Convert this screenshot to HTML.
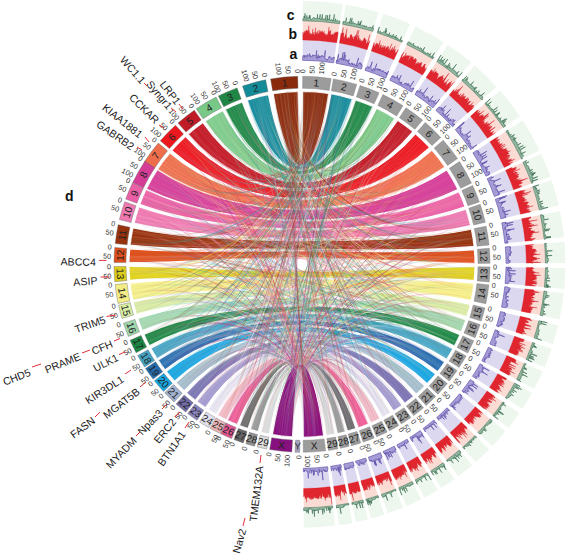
<!DOCTYPE html><html><head><meta charset="utf-8"><style>html,body{margin:0;padding:0;background:#fff;}svg{display:block;font-family:"Liberation Sans",sans-serif;}</style></head><body>
<svg width="567" height="558" viewBox="0 0 567 558">
<rect width="567" height="558" fill="#fff"/>
<path d="M302.7,60.3 A204,204 0 0 1 333.6,62.8 L336.7,42.7 A224.3,224.3 0 0 0 302.8,40 Z" fill="#dcd8f0"/>
<path d="M302.8,40 A224.3,224.3 0 0 1 336.7,42.7 L339.7,23.7 A243.5,243.5 0 0 0 302.8,20.8 Z" fill="#fbdcd5"/>
<path d="M302.8,20.8 A243.5,243.5 0 0 1 339.7,23.7 L342.8,4.1 A263.4,263.4 0 0 0 302.9,0.9 Z" fill="#edf7ed"/>
<path d="M336,63.2 A204,204 0 0 1 361.3,69.1 L367.2,49.7 A224.3,224.3 0 0 0 339.4,43.1 Z" fill="#dcd8f0"/>
<path d="M339.4,43.1 A224.3,224.3 0 0 1 367.2,49.7 L372.8,31.3 A243.5,243.5 0 0 0 342.6,24.2 Z" fill="#fbdcd5"/>
<path d="M342.6,24.2 A243.5,243.5 0 0 1 372.8,31.3 L378.6,12.3 A263.4,263.4 0 0 0 345.9,4.6 Z" fill="#edf7ed"/>
<path d="M365,70.3 A204,204 0 0 1 385.6,78.2 L393.9,59.7 A224.3,224.3 0 0 0 371.3,51 Z" fill="#dcd8f0"/>
<path d="M371.3,51 A224.3,224.3 0 0 1 393.9,59.7 L401.8,42.2 A243.5,243.5 0 0 0 377.2,32.7 Z" fill="#fbdcd5"/>
<path d="M377.2,32.7 A243.5,243.5 0 0 1 401.8,42.2 L410,24 A263.4,263.4 0 0 0 383.4,13.8 Z" fill="#edf7ed"/>
<path d="M389.8,80.2 A204,204 0 0 1 411.6,92.2 L422.5,75.1 A224.3,224.3 0 0 0 398.6,61.9 Z" fill="#dcd8f0"/>
<path d="M398.6,61.9 A224.3,224.3 0 0 1 422.5,75.1 L432.8,58.9 A243.5,243.5 0 0 0 406.8,44.5 Z" fill="#fbdcd5"/>
<path d="M406.8,44.5 A243.5,243.5 0 0 1 432.8,58.9 L443.5,42.2 A263.4,263.4 0 0 0 415.4,26.6 Z" fill="#edf7ed"/>
<path d="M414.9,94.4 A204,204 0 0 1 432.9,107.8 L445.9,92.2 A224.3,224.3 0 0 0 426.1,77.5 Z" fill="#dcd8f0"/>
<path d="M426.1,77.5 A224.3,224.3 0 0 1 445.9,92.2 L458.2,77.5 A243.5,243.5 0 0 0 436.8,61.5 Z" fill="#fbdcd5"/>
<path d="M436.8,61.5 A243.5,243.5 0 0 1 458.2,77.5 L471,62.2 A263.4,263.4 0 0 0 447.8,44.9 Z" fill="#edf7ed"/>
<path d="M435.8,110.3 A204,204 0 0 1 452.6,126.7 L467.6,113.1 A224.3,224.3 0 0 0 449.2,95 Z" fill="#dcd8f0"/>
<path d="M449.2,95 A224.3,224.3 0 0 1 467.6,113.1 L481.8,100.1 A243.5,243.5 0 0 0 461.8,80.5 Z" fill="#fbdcd5"/>
<path d="M461.8,80.5 A243.5,243.5 0 0 1 481.8,100.1 L496.5,86.7 A263.4,263.4 0 0 0 474.8,65.5 Z" fill="#edf7ed"/>
<path d="M455.3,129.7 A204,204 0 0 1 470.7,149.6 L487.5,138.2 A224.3,224.3 0 0 0 470.5,116.3 Z" fill="#dcd8f0"/>
<path d="M470.5,116.3 A224.3,224.3 0 0 1 487.5,138.2 L503.4,127.4 A243.5,243.5 0 0 0 484.9,103.6 Z" fill="#fbdcd5"/>
<path d="M484.9,103.6 A243.5,243.5 0 0 1 503.4,127.4 L519.9,116.2 A263.4,263.4 0 0 0 499.9,90.5 Z" fill="#edf7ed"/>
<path d="M472.9,152.9 A204,204 0 0 1 486,176.2 L504.3,167.4 A224.3,224.3 0 0 0 489.9,141.8 Z" fill="#dcd8f0"/>
<path d="M489.9,141.8 A224.3,224.3 0 0 1 504.3,167.4 L521.6,159.1 A243.5,243.5 0 0 0 506,131.3 Z" fill="#fbdcd5"/>
<path d="M506,131.3 A243.5,243.5 0 0 1 521.6,159.1 L539.5,150.5 A263.4,263.4 0 0 0 522.7,120.5 Z" fill="#edf7ed"/>
<path d="M487.2,178.7 A204,204 0 0 1 494.4,196.5 L513.6,189.8 A224.3,224.3 0 0 0 505.6,170.2 Z" fill="#dcd8f0"/>
<path d="M505.6,170.2 A224.3,224.3 0 0 1 513.6,189.8 L531.7,183.4 A243.5,243.5 0 0 0 523,162.2 Z" fill="#fbdcd5"/>
<path d="M523,162.2 A243.5,243.5 0 0 1 531.7,183.4 L550.4,176.8 A263.4,263.4 0 0 0 541.1,153.8 Z" fill="#edf7ed"/>
<path d="M495.3,199.2 A204,204 0 0 1 500.9,218.8 L520.6,214.2 A224.3,224.3 0 0 0 514.6,192.8 Z" fill="#dcd8f0"/>
<path d="M514.6,192.8 A224.3,224.3 0 0 1 520.6,214.2 L539.4,209.9 A243.5,243.5 0 0 0 532.8,186.6 Z" fill="#fbdcd5"/>
<path d="M532.8,186.6 A243.5,243.5 0 0 1 539.4,209.9 L558.8,205.5 A263.4,263.4 0 0 0 551.6,180.3 Z" fill="#edf7ed"/>
<path d="M501.8,222.9 A204,204 0 0 1 504.9,243.3 L525.1,241.2 A224.3,224.3 0 0 0 521.6,218.8 Z" fill="#dcd8f0"/>
<path d="M521.6,218.8 A224.3,224.3 0 0 1 525.1,241.2 L544.2,239.3 A243.5,243.5 0 0 0 540.4,214.9 Z" fill="#fbdcd5"/>
<path d="M540.4,214.9 A243.5,243.5 0 0 1 544.2,239.3 L564,237.2 A263.4,263.4 0 0 0 559.9,210.9 Z" fill="#edf7ed"/>
<path d="M505.3,246.9 A204,204 0 0 1 506,263.2 L526.3,263.1 A224.3,224.3 0 0 0 525.5,245.1 Z" fill="#dcd8f0"/>
<path d="M525.5,245.1 A224.3,224.3 0 0 1 526.3,263.1 L545.5,263 A243.5,243.5 0 0 0 544.6,243.5 Z" fill="#fbdcd5"/>
<path d="M544.6,243.5 A243.5,243.5 0 0 1 545.5,263 L565.4,262.9 A263.4,263.4 0 0 0 564.4,241.8 Z" fill="#edf7ed"/>
<path d="M506,267.1 A204,204 0 0 1 505.1,283.5 L525.3,285.4 A224.3,224.3 0 0 0 526.3,267.4 Z" fill="#dcd8f0"/>
<path d="M526.3,267.4 A224.3,224.3 0 0 1 525.3,285.4 L544.4,287.2 A243.5,243.5 0 0 0 545.5,267.7 Z" fill="#fbdcd5"/>
<path d="M545.5,267.7 A243.5,243.5 0 0 1 544.4,287.2 L564.2,289.1 A263.4,263.4 0 0 0 565.4,268 Z" fill="#edf7ed"/>
<path d="M504.8,286.7 A204,204 0 0 1 501.5,307.1 L521.3,311.3 A224.3,224.3 0 0 0 524.9,288.9 Z" fill="#dcd8f0"/>
<path d="M524.9,288.9 A224.3,224.3 0 0 1 521.3,311.3 L540.1,315.3 A243.5,243.5 0 0 0 544,291 Z" fill="#fbdcd5"/>
<path d="M544,291 A243.5,243.5 0 0 1 540.1,315.3 L559.5,319.5 A263.4,263.4 0 0 0 563.8,293.2 Z" fill="#edf7ed"/>
<path d="M500.4,311.6 A204,204 0 0 1 496.5,326 L515.8,332.1 A224.3,224.3 0 0 0 520.2,316.3 Z" fill="#dcd8f0"/>
<path d="M520.2,316.3 A224.3,224.3 0 0 1 515.8,332.1 L534.1,337.9 A243.5,243.5 0 0 0 538.9,320.7 Z" fill="#fbdcd5"/>
<path d="M538.9,320.7 A243.5,243.5 0 0 1 534.1,337.9 L553.1,343.9 A263.4,263.4 0 0 0 558.2,325.3 Z" fill="#edf7ed"/>
<path d="M495.2,329.7 A204,204 0 0 1 489.8,344 L508.5,351.9 A224.3,224.3 0 0 0 514.5,336.2 Z" fill="#dcd8f0"/>
<path d="M514.5,336.2 A224.3,224.3 0 0 1 508.5,351.9 L526.1,359.4 A243.5,243.5 0 0 0 532.6,342.4 Z" fill="#fbdcd5"/>
<path d="M532.6,342.4 A243.5,243.5 0 0 1 526.1,359.4 L544.5,367.2 A263.4,263.4 0 0 0 551.5,348.7 Z" fill="#edf7ed"/>
<path d="M488.4,347.3 A204,204 0 0 1 481.8,360.7 L499.7,370.3 A224.3,224.3 0 0 0 506.9,355.5 Z" fill="#dcd8f0"/>
<path d="M506.9,355.5 A224.3,224.3 0 0 1 499.7,370.3 L516.6,379.4 A243.5,243.5 0 0 0 524.4,363.3 Z" fill="#fbdcd5"/>
<path d="M524.4,363.3 A243.5,243.5 0 0 1 516.6,379.4 L534.1,388.8 A263.4,263.4 0 0 0 542.6,371.4 Z" fill="#edf7ed"/>
<path d="M480.1,363.8 A204,204 0 0 1 472.5,376.3 L489.5,387.4 A224.3,224.3 0 0 0 497.8,373.7 Z" fill="#dcd8f0"/>
<path d="M497.8,373.7 A224.3,224.3 0 0 1 489.5,387.4 L505.5,398 A243.5,243.5 0 0 0 514.6,383.1 Z" fill="#fbdcd5"/>
<path d="M514.6,383.1 A243.5,243.5 0 0 1 505.5,398 L522.2,408.9 A263.4,263.4 0 0 0 531.9,392.8 Z" fill="#edf7ed"/>
<path d="M470.3,379.6 A204,204 0 0 1 461.9,391 L477.8,403.6 A224.3,224.3 0 0 0 487.1,391 Z" fill="#dcd8f0"/>
<path d="M487.1,391 A224.3,224.3 0 0 1 477.8,403.6 L492.8,415.5 A243.5,243.5 0 0 0 502.9,401.9 Z" fill="#fbdcd5"/>
<path d="M502.9,401.9 A243.5,243.5 0 0 1 492.8,415.5 L508.4,427.9 A263.4,263.4 0 0 0 519.3,413.1 Z" fill="#edf7ed"/>
<path d="M459.6,393.8 A204,204 0 0 1 449.5,405.2 L464.2,419.3 A224.3,224.3 0 0 0 475.3,406.7 Z" fill="#dcd8f0"/>
<path d="M475.3,406.7 A224.3,224.3 0 0 1 464.2,419.3 L478,432.5 A243.5,243.5 0 0 0 490.2,418.9 Z" fill="#fbdcd5"/>
<path d="M490.2,418.9 A243.5,243.5 0 0 1 478,432.5 L492.4,446.3 A263.4,263.4 0 0 0 505.5,431.5 Z" fill="#edf7ed"/>
<path d="M447,407.8 A204,204 0 0 1 436.6,417.6 L450,432.8 A224.3,224.3 0 0 0 461.4,422.1 Z" fill="#dcd8f0"/>
<path d="M461.4,422.1 A224.3,224.3 0 0 1 450,432.8 L462.7,447.2 A243.5,243.5 0 0 0 475.1,435.6 Z" fill="#fbdcd5"/>
<path d="M475.1,435.6 A243.5,243.5 0 0 1 462.7,447.2 L475.8,462.2 A263.4,263.4 0 0 0 489.2,449.6 Z" fill="#edf7ed"/>
<path d="M433.8,420 A204,204 0 0 1 423.1,428.5 L435.1,444.8 A224.3,224.3 0 0 0 446.9,435.5 Z" fill="#dcd8f0"/>
<path d="M446.9,435.5 A224.3,224.3 0 0 1 435.1,444.8 L446.5,460.3 A243.5,243.5 0 0 0 459.3,450.1 Z" fill="#fbdcd5"/>
<path d="M459.3,450.1 A243.5,243.5 0 0 1 446.5,460.3 L458.3,476.3 A263.4,263.4 0 0 0 472.2,465.3 Z" fill="#edf7ed"/>
<path d="M420.2,430.6 A204,204 0 0 1 409.8,437.5 L420.5,454.7 A224.3,224.3 0 0 0 431.9,447.1 Z" fill="#dcd8f0"/>
<path d="M431.9,447.1 A224.3,224.3 0 0 1 420.5,454.7 L430.7,471 A243.5,243.5 0 0 0 443.1,462.8 Z" fill="#fbdcd5"/>
<path d="M443.1,462.8 A243.5,243.5 0 0 1 430.7,471 L441.2,487.9 A263.4,263.4 0 0 0 454.6,479 Z" fill="#edf7ed"/>
<path d="M407.1,439.2 A204,204 0 0 1 396.8,444.9 L406.3,462.9 A224.3,224.3 0 0 0 417.5,456.6 Z" fill="#dcd8f0"/>
<path d="M417.5,456.6 A224.3,224.3 0 0 1 406.3,462.9 L415.2,479.9 A243.5,243.5 0 0 0 427.4,473 Z" fill="#fbdcd5"/>
<path d="M427.4,473 A243.5,243.5 0 0 1 415.2,479.9 L424.4,497.5 A263.4,263.4 0 0 0 437.7,490.1 Z" fill="#edf7ed"/>
<path d="M394.3,446.2 A204,204 0 0 1 383,451.5 L391.1,470.2 A224.3,224.3 0 0 0 403.5,464.3 Z" fill="#dcd8f0"/>
<path d="M403.5,464.3 A224.3,224.3 0 0 1 391.1,470.2 L398.7,487.8 A243.5,243.5 0 0 0 412.2,481.5 Z" fill="#fbdcd5"/>
<path d="M412.2,481.5 A243.5,243.5 0 0 1 398.7,487.8 L406.6,506 A263.4,263.4 0 0 0 421.2,499.2 Z" fill="#edf7ed"/>
<path d="M380.4,452.6 A204,204 0 0 1 368.4,457.2 L375,476.4 A224.3,224.3 0 0 0 388.2,471.4 Z" fill="#dcd8f0"/>
<path d="M388.2,471.4 A224.3,224.3 0 0 1 375,476.4 L381.3,494.5 A243.5,243.5 0 0 0 395.6,489.1 Z" fill="#fbdcd5"/>
<path d="M395.6,489.1 A243.5,243.5 0 0 1 381.3,494.5 L387.8,513.3 A263.4,263.4 0 0 0 403.2,507.5 Z" fill="#edf7ed"/>
<path d="M365.7,458.1 A204,204 0 0 1 355.5,461.2 L360.8,480.8 A224.3,224.3 0 0 0 372.1,477.4 Z" fill="#dcd8f0"/>
<path d="M372.1,477.4 A224.3,224.3 0 0 1 360.8,480.8 L365.8,499.3 A243.5,243.5 0 0 0 378.1,495.6 Z" fill="#fbdcd5"/>
<path d="M378.1,495.6 A243.5,243.5 0 0 1 365.8,499.3 L371.1,518.5 A263.4,263.4 0 0 0 384.3,514.5 Z" fill="#edf7ed"/>
<path d="M353.1,461.8 A204,204 0 0 1 343.7,464 L347.9,483.9 A224.3,224.3 0 0 0 358.2,481.5 Z" fill="#dcd8f0"/>
<path d="M358.2,481.5 A224.3,224.3 0 0 1 347.9,483.9 L351.8,502.7 A243.5,243.5 0 0 0 363,500 Z" fill="#fbdcd5"/>
<path d="M363,500 A243.5,243.5 0 0 1 351.8,502.7 L355.9,522.1 A263.4,263.4 0 0 0 368,519.3 Z" fill="#edf7ed"/>
<path d="M340.9,464.6 A204,204 0 0 1 330.7,466.3 L333.6,486.4 A224.3,224.3 0 0 0 344.8,484.5 Z" fill="#dcd8f0"/>
<path d="M344.8,484.5 A224.3,224.3 0 0 1 333.6,486.4 L336.3,505.4 A243.5,243.5 0 0 0 348.5,503.3 Z" fill="#fbdcd5"/>
<path d="M348.5,503.3 A243.5,243.5 0 0 1 336.3,505.4 L339.1,525.1 A263.4,263.4 0 0 0 352.3,522.9 Z" fill="#edf7ed"/>
<path d="M327.6,466.7 A204,204 0 0 1 303.4,468.3 L303.6,488.6 A224.3,224.3 0 0 0 330.1,486.8 Z" fill="#dcd8f0"/>
<path d="M330.1,486.8 A224.3,224.3 0 0 1 303.6,488.6 L303.7,507.8 A243.5,243.5 0 0 0 332.5,505.9 Z" fill="#fbdcd5"/>
<path d="M332.5,505.9 A243.5,243.5 0 0 1 303.7,507.8 L303.8,527.7 A263.4,263.4 0 0 0 335,525.6 Z" fill="#edf7ed"/>
<path d="M302.7,60.3 L302.7,56.8 303,55.7 303.3,55.7 303.5,56.2 303.8,55.9 304,55.2 304.3,57.8 304.6,56.4 304.8,55.3 305.1,55.3 305.3,56.5 305.6,55.8 305.9,55.8 306.1,55.9 306.4,55.7 306.7,55.8 306.9,57.2 307.2,54.6 307.5,54.9 307.7,55 308,55.4 308.2,55 308.5,54.7 308.8,54.9 309,55.2 309.3,54.8 309.6,53.5 309.8,55.8 310,56.9 310.3,55.5 310.6,55.3 310.8,56.4 311.1,56.3 311.3,56.3 311.6,57.1 311.8,56.9 312.2,55.7 312.4,55.8 312.7,54.7 312.9,56 313.2,55.7 313.5,55.5 313.7,55.9 314,55.7 314.3,55.1 314.5,55.5 314.8,55 315.1,55.3 315.3,55.5 315.6,54.9 315.9,55.3 316.1,55.3 316.7,50.4 316.5,57.6 316.8,57 316.9,58.5 317.4,56.5 317.6,56.7 317.7,58.3 318.3,54.5 318.4,56.5 318.6,56.7 318.8,57.6 319.2,56.7 319.5,56.2 319.6,57.6 320,55.8 320.2,57.2 320.5,56.8 320.8,56.5 321,57 321.3,56.4 321.6,55.6 321.9,56 322.2,55.2 322.4,55.8 322.6,56.6 322.8,56.9 323.1,56.8 323.4,56.4 323.7,56.3 324,56.1 324.2,56.8 324.7,53.8 325.4,50.4 324.9,57.4 325,58.8 325.2,59 325.5,58.5 325.8,58.9 325.9,59.8 326.2,59.9 326.5,59.6 326.8,59.1 327,59.5 327.1,60.5 327.4,60.1 327.8,59 328.2,58.6 328.6,57.5 328.8,57.9 329.3,56 329.5,56.6 329.7,57.1 330,56.7 330.1,57.5 330.3,58 330.6,57.7 330.8,58.3 331.2,57.7 331.4,58.3 331.6,58.5 331.7,59.6 332,59.3 332.5,58 332.7,58.1 333.1,57.2 333.4,57.1 333.6,57.2 333.8,57.8 334.1,57.6 334.5,57 L333.6,62.8 A204,204 0 0 0 302.7,60.3Z M336,63.2 L336.5,60.1 336.8,60.2 336.9,61 337,61.7 338.6,54.2 337.7,60.9 337.9,61.5 338.2,61 338.4,61.6 338.9,60 339.4,59 339.6,59.4 340,58.2 340.3,58.4 340.6,58.1 340.7,59.1 340.9,59.4 341.3,58.7 341.6,58.4 341.7,59.4 343.3,52.4 342.2,59.3 342.5,59.2 342.7,59.4 343,59.4 343.1,60.2 345,52 343.6,60.4 344,59.7 344.4,59.3 345.6,54.8 345,58.7 345,59.9 345.2,60.2 345.4,60.7 345.9,59.5 346,60.5 346.4,59.9 346.7,59.7 346.9,60.1 347,60.8 347.4,60.1 347.5,60.6 347.6,61.4 348,61.1 347.9,62.5 348.4,61.8 349.2,59.3 348.7,62.7 348.8,63.3 349.1,63.1 349.1,64.1 349.6,63.1 349.7,64.1 349.9,64.1 350.1,64.5 350.5,63.8 350.8,63.8 351,64.2 351.4,63.5 351.9,62.6 351.9,63.7 352.2,63.4 352.3,64.2 352.4,64.9 353,63.4 353,64.8 353.2,64.6 353.4,65 353.8,64.7 354.1,64.5 354.5,63.8 354.6,64.5 354.7,65.1 355,65.1 355.2,65.2 355.4,65.6 355.9,64.8 355.9,65.7 356.3,65.1 358.6,57.9 356.5,66.3 356.9,65.9 357.3,65.5 357.3,66.4 357.8,65.4 358.4,64.2 359,63.1 359.3,63 359.6,63.1 360,62.4 360,63.4 360.1,63.9 360.7,62.9 360.5,64.5 360.9,64.2 361.3,63.7 361.3,64.7 361.7,64.1 361.7,65.3 361.7,66.2 362.1,65.7 362.3,65.8 L361.3,69.1 A204,204 0 0 0 336,63.2Z M365,70.3 L365.9,67.7 366.1,67.9 366.2,68.4 366.4,68.5 367.2,66.9 367.7,66.5 368,66.2 368,67.2 368.3,67.1 368.4,67.7 368.8,67.3 368.6,68.5 369.1,68.1 369.6,67.3 370.3,66 370.6,65.8 372.3,61.8 371,66.5 371.1,67.1 371.1,67.6 371.2,68.3 371.2,69 371.4,69.4 371.5,69.8 371.5,70.6 372,70 372,70.5 372.9,69.1 373.2,68.9 373.7,68.2 373,70.8 373.1,71.5 373.5,71.1 373.8,71.1 376.9,63.6 374.7,70.2 375,70 375.3,69.9 375.9,69.2 376.3,68.8 376.4,69.2 376.8,69.1 377.3,68.4 377.2,69.5 377.5,69.4 377.6,69.8 378.3,68.8 378.1,69.9 378.8,68.9 378.9,69.3 378.8,70.3 379.6,69.2 379.4,70.4 380.1,69.3 380,70.3 380.5,69.7 380.7,69.8 380.7,70.6 381,70.6 381.3,70.6 381.4,71.1 381.7,71 381.7,71.5 382.2,71 382.6,70.7 382.5,71.6 383.2,70.7 383.4,71 383.7,70.8 383.6,71.8 383.7,72.2 384.2,71.9 384.4,72.1 384.5,72.3 385,71.9 385.3,71.9 385.1,73 385.8,72.1 386,72.3 385.9,73.1 385.8,73.9 386.4,73.2 386.6,73.4 387.2,72.8 386.6,74.8 388.6,71 386.8,75.7 L385.6,78.2 A204,204 0 0 0 365,70.3Z M389.8,80.2 L391.6,76.4 392.3,75.6 392.2,76.5 392.6,76.2 392.9,76.2 392.7,77.2 393.6,75.9 394,75.7 394,76.3 394.1,76.7 394.3,76.8 394.2,77.7 394.4,77.7 395.1,77.1 394.8,78.1 395.1,78.2 395.6,77.7 396.3,77 396.2,77.8 396.9,76.9 398,75.3 396.9,78 397.6,77.2 397.8,77.5 397.6,78.4 398,78.2 397.8,79.1 398,79.4 398.3,79.2 398.6,79.3 398.5,80 401.3,75.2 399.6,79.1 399.7,79.4 399.9,79.7 399,81.9 398.8,82.8 399.5,82.1 399.8,81.9 399.8,82.5 399.9,83 400.7,82.1 400.9,82.2 401,82.5 400.5,83.9 402,81.7 401,84.1 401.5,83.7 401.6,84.1 401.9,84 401.9,84.7 402.1,84.7 402.5,84.6 402.6,84.9 403.4,84.1 403.6,84.2 403.9,84.2 404.9,83 404.9,83.5 405.3,83.3 405.2,83.9 406.1,82.9 405.9,83.8 406.4,83.5 406.1,84.5 406.3,84.6 406.1,85.5 406.3,85.7 408,83.3 407.2,85.1 407.4,85.4 408.7,83.6 408.3,84.9 408.4,85.2 408.4,85.7 409.3,84.8 409.3,85.3 409.5,85.4 409.9,85.2 409.5,86.5 409.7,86.6 410.3,86 413.8,80.9 410.1,87.5 409.9,88.1 410.4,87.9 410.6,88.1 410.9,88.1 410.8,88.7 411.2,88.5 411.4,88.7 411.7,88.8 412.2,88.5 413,87.7 412.9,88.4 412.7,89.1 413.1,88.9 414,88.1 413.3,89.7 L411.6,92.2 A204,204 0 0 0 389.8,80.2Z M414.9,94.4 L417.6,90.2 416.6,92.2 417.3,91.8 417.2,92.4 418.1,91.4 418.8,90.9 419,91.1 418.8,91.8 419.2,91.7 421.1,89.4 419.5,92.2 419.7,92.3 420.2,92 420.3,92.4 421,91.8 421.2,92 421.5,92 421.3,92.8 421.7,92.6 422.1,92.6 421.9,93.3 422.1,93.4 422.8,93 422.3,94 422.9,93.7 424.8,91.4 427.8,87.7 423.4,94.3 422.6,95.9 423.3,95.3 424,94.7 424.2,95 424.4,95.2 424.7,95.2 424.9,95.4 424.7,96.1 424,97.5 424,97.9 424.6,97.5 425.1,97.3 425,97.9 426.2,96.6 426.6,96.6 426.8,96.7 426.6,97.5 427.6,96.5 427.4,97.3 428,96.8 428.1,97.1 428.3,97.4 428,98.2 427.9,98.7 428.3,98.7 428.7,98.5 428.6,99.2 428.4,99.9 429,99.4 428.9,99.9 428.6,100.8 428.3,101.7 433.2,95.8 428.9,101.6 429.8,101 430.2,100.9 430.9,100.4 431.4,100.1 431.6,100.3 431.2,101.3 431.4,101.4 431.3,101.9 432.9,100.4 433.1,100.6 433.3,100.7 432.9,101.6 433.3,101.6 433.8,101.4 433.9,101.7 433.6,102.4 436,99.9 433.6,103.3 433.9,103.3 434.1,103.5 434.5,103.4 435.2,102.9 435.2,103.4 436,102.8 435.8,103.5 439.7,99.1 436.5,103.5 L432.9,107.8 A204,204 0 0 0 414.9,94.4Z M435.8,110.3 L438.2,107.7 438.1,108.1 438.9,107.6 439.6,107.2 439.5,107.7 439.9,107.7 440.3,107.6 440,108.4 440.5,108.1 441.5,107.4 441,108.4 441.8,107.9 442.2,107.9 441.5,109 442.3,108.6 441.7,109.5 441.3,110.4 445.9,105.7 442,110.4 442.6,110.1 443.1,110 443.7,109.7 444,109.8 444.3,109.8 444.4,110.1 444,110.9 443.4,112 442.3,113.5 443,113.1 443.2,113.3 443.8,113 444,113.2 443.4,114.3 444,114 443.7,114.7 444.2,114.5 443.9,115.2 444.5,114.9 445.1,114.7 450.8,109.1 445.4,115.1 444.7,116.2 445.5,115.8 445.1,116.5 445.7,116.3 446,116.4 445.4,117.3 446.4,116.7 449.1,114.3 446.7,117.2 447.6,116.6 447.4,117.2 447.6,117.3 447.5,117.8 447.3,118.4 447.2,118.8 447.6,118.8 447.9,118.9 448.9,118.2 449.4,118.1 448,119.9 448.5,119.7 448.6,120 449.2,119.7 448.6,120.6 448.9,120.8 451.2,118.8 449.7,120.7 450.7,120.1 450.2,120.9 451.1,120.4 451.8,120.1 452.7,119.6 453.1,119.6 453.7,119.4 453.6,119.8 453.4,120.4 453.7,120.4 453,121.5 453.6,121.3 455.4,120 453.2,122.4 452.7,123.2 453,123.2 452.5,124.1 453.2,123.8 453.7,123.7 453,124.7 453,125 454.2,124.3 454.9,124 454.3,124.9 454.1,125.4 L452.6,126.7 A204,204 0 0 0 435.8,110.3Z M455.3,129.7 L464.1,121.9 457.5,128.1 458.9,127.2 464.5,122.6 459.7,127.2 459.4,127.8 459.3,128.2 459.4,128.5 459.5,128.7 461.2,127.6 460.6,128.4 461.5,128 460.6,129.1 460.9,129.2 460.7,129.7 460.5,130.3 460.2,130.8 461,130.5 460.3,131.4 461.2,131 460.8,131.7 461.2,131.6 460.4,132.7 460.5,132.9 461.1,132.8 460.5,133.6 460.9,133.6 461.6,133.3 461.8,133.6 461.7,134 462.6,133.5 462.5,134 462.6,134.2 463.2,134 462.5,135 462.6,135.2 463.1,135.1 463.3,135.3 464.3,134.9 465,134.6 465.7,134.4 465.9,134.6 471,130.9 466.4,134.9 466.5,135.1 466.6,135.4 466.5,135.8 467.1,135.6 467.7,135.5 467.1,136.3 467.3,136.5 467.8,136.4 468.3,136.4 467.7,137.2 467.9,137.3 468.2,137.4 470.8,135.7 466.3,139.5 467.2,139.2 466.9,139.7 466.7,140.2 467.8,139.7 467.4,140.3 468,140.2 468.3,140.3 468.8,140.2 469.2,140.3 469.5,140.4 469.4,140.7 469,141.4 468.8,141.9 469.2,141.9 469.7,141.8 468.2,143.2 468.1,143.6 469.4,143 469.7,143.1 469.8,143.4 470.5,143.2 470.4,143.6 470.3,144 469.4,144.9 469.8,144.9 470.7,144.7 470.4,145.2 470.7,145.3 470.1,146 470.5,146.1 470.5,146.3 471.3,146.1 470.8,146.8 471.2,146.8 471.3,147 471.6,147.2 472.4,146.9 472.5,147.2 472.8,147.3 476.8,144.9 472.8,147.9 473.5,147.8 L470.7,149.6 A204,204 0 0 0 455.3,129.7Z M472.9,152.9 L476.5,150.5 476.8,150.6 477.4,150.6 477.5,150.8 478.1,150.8 478.3,150.9 477.7,151.6 478.8,151.3 477.7,152.2 477.6,152.6 478.5,152.3 479.3,152.1 479.3,152.5 479.6,152.6 479.2,153.2 478.2,154.1 479.2,153.7 478.3,154.6 478.3,154.9 480.1,154.1 480.8,154 480.6,154.4 480.6,154.7 486.7,151.3 480,155.7 480.2,155.9 481.2,155.6 481.4,155.8 480.9,156.4 481.4,156.4 482.2,156.2 482,156.6 486.1,154.5 482.4,157 482.6,157.2 482.2,157.7 482.5,157.9 482.4,158.2 481.4,159.1 481.9,159.1 487.2,156.3 482.5,159.4 481.7,160.1 481.2,160.7 480.6,161.4 481,161.4 480.2,162.2 481.1,162 481,162.3 481.1,162.5 481.4,162.7 481.6,162.9 482.3,162.8 481.8,163.4 481.9,163.6 487.3,160.9 481.7,164.3 487.1,161.6 481.7,164.9 482.3,164.8 482.7,164.9 482.9,165.1 483.3,165.1 483,165.6 482.5,166.2 483.4,166 483.1,166.4 483.5,166.5 483.7,166.7 484.3,166.7 484.3,167 484.6,167.1 485.2,167.1 486.2,166.8 485.6,167.4 485.4,167.8 489.5,166 485.4,168.4 485.6,168.6 485.4,169 486.8,168.5 486.8,168.9 487.5,168.8 487.8,168.9 487.7,169.3 486,170.4 487,170.2 486.4,170.8 487.1,170.8 486.3,171.4 486.8,171.5 487.3,171.5 486.6,172.1 487.6,172 488.4,171.8 489,171.8 489.6,171.8 488.7,172.5 488.9,172.8 489.5,172.7 489.6,173 489.6,173.3 489.7,173.5 489.6,173.9 488.3,174.8 489.6,174.4 L486,176.2 A204,204 0 0 0 472.9,152.9Z M487.2,178.7 L490.4,177.2 492,176.8 491.4,177.3 492,177.4 493.7,176.9 491.3,178.3 491.3,178.6 491.2,178.9 489.7,179.8 489.3,180.3 489.8,180.4 489.9,180.6 491.9,180 492.1,180.2 491.9,180.6 493.3,180.3 493.7,180.4 494.2,180.4 494.1,180.8 493.7,181.2 500.5,178.6 494.4,181.5 493.8,182 494.6,182 494.7,182.2 494.6,182.5 493.9,183.1 493.5,183.6 493.1,184 493.5,184.1 493.6,184.4 493.7,184.6 494.4,184.6 495.2,184.6 495.3,184.8 495.1,185.2 494.7,185.6 495.5,185.6 496,185.7 495.9,186 498.1,185.4 496.7,186.2 501.4,184.7 495.7,187.2 495.9,187.4 495.7,187.8 496.8,187.6 496.8,187.9 496.3,188.4 495.9,188.8 496.2,189 495.7,189.5 496,189.6 496.9,189.5 496.5,190 497.5,189.9 497.5,190.2 497.2,190.5 497.7,190.6 498.1,190.8 497.2,191.4 497.9,191.4 498.2,191.6 497.8,192 498.8,191.9 504.9,190 498.4,192.6 498.3,192.9 499.3,192.9 499.2,193.2 499.7,193.3 498.6,193.9 499.5,193.9 498.1,194.7 499.3,194.5 498.4,195.1 L494.4,196.5 A204,204 0 0 0 487.2,178.7Z M495.3,199.2 L498.8,198.1 506.9,195.6 498.8,198.6 500.1,198.5 505.5,197 500.4,198.9 501.1,199 499.7,199.7 499.9,199.9 499.4,200.4 498,201.1 498.5,201.2 498.4,201.5 498.5,201.7 498.4,202 498.5,202.3 499,202.4 499.1,202.6 500.2,202.5 506,201.1 500.4,203 504.8,202 501.4,203.3 501.9,203.4 502.7,203.5 501.6,204 501.5,204.4 501.6,204.6 502,204.8 501.4,205.2 501.6,205.4 501.3,205.8 500.8,206.2 500.3,206.6 500.3,206.9 500.8,207 501.2,207.2 501.5,207.4 503.4,207.1 503.6,207.3 502.6,207.9 502,208.3 502.5,208.4 502.7,208.6 502.3,209 502.7,209.2 503.8,209.2 504.7,209.2 503.6,209.8 503.3,210.1 502.5,210.6 503.8,210.5 502.6,211.1 502.6,211.4 502.3,211.7 503.5,211.7 510.5,210.2 503.3,212.3 505.4,212 504.2,212.6 504.1,212.9 504.9,213 505.4,213.1 505.4,213.4 505.1,213.7 504.6,214.1 505.3,214.2 504.7,214.6 508.2,214.1 505.9,214.9 505.7,215.2 505.8,215.5 505.4,215.8 504.6,216.3 505,216.5 505.8,216.5 505.3,216.9 506.3,217 505,217.5 504.5,217.9 L500.9,218.8 A204,204 0 0 0 495.3,199.2Z M501.8,222.9 L505,222.3 505.9,222.3 506.3,222.5 505.3,223 506.1,223.1 505.1,223.6 513.4,222.2 507.2,223.7 507.9,223.8 507.3,224.2 507.3,224.5 507.4,224.7 507.8,224.9 507.2,225.3 512.8,224.5 507,225.8 508.1,225.9 507.3,226.3 506.8,226.7 505.6,227.1 504.6,227.6 505.7,227.7 504.7,228.1 505.6,228.2 505.6,228.5 506,228.7 505,229.1 504.6,229.4 504.9,229.6 506.1,229.7 507.5,229.7 514.4,228.8 507.6,230.2 510.9,229.9 508,230.7 508.4,230.9 506.8,231.4 506.9,231.7 506.9,231.9 506.9,232.2 506.4,232.5 506.4,232.8 506,233.1 506.8,233.2 506.7,233.5 506.9,233.8 507.2,234 506.2,234.4 509.1,234.2 506.1,234.9 506.7,235.1 506,235.4 506.4,235.7 506.9,235.9 507.3,236.1 509.3,236 508.5,236.4 509.4,236.6 510,236.7 510,237 509.6,237.3 509.4,237.6 507.6,238.1 508.6,238.2 507.1,238.7 507.3,238.9 511.5,238.7 510.5,239.1 508.2,239.6 507,240 507.2,240.2 506.5,240.6 506.5,240.8 506.9,241 506.8,241.3 508.2,241.4 506.8,241.8 506.9,242.1 506.2,242.4 507,242.6 507.1,242.8 508.2,243 L504.9,243.3 A204,204 0 0 0 501.8,222.9Z M505.3,246.9 L508.7,246.6 510,246.7 510.5,247 509.7,247.3 510.9,247.4 510.4,247.7 510.7,248 511,248.2 510.2,248.6 510.6,248.8 510.1,249.1 510.1,249.4 510.6,249.6 510.3,249.9 510.1,250.1 509.5,250.4 509.1,250.7 510.5,250.9 511,251.1 510.4,251.4 511.2,251.6 510.9,251.9 511.5,252.2 511,252.4 511.5,252.7 511,253 509.9,253.3 510.7,253.5 508.6,253.9 509.2,254.1 509.6,254.4 510.7,254.6 509.6,254.9 510.2,255.1 510.7,255.3 509.6,255.7 509.2,255.9 508.5,256.2 507.8,256.5 508.2,256.8 508.3,257 508.3,257.3 508.6,257.5 507.7,257.8 507.8,258.1 508,258.3 507.3,258.6 508.2,258.8 507.9,259.1 508.1,259.3 508.8,259.6 508,259.9 508.8,260.1 508.8,260.4 510.5,260.6 509.3,260.9 508.6,261.1 509.5,261.4 510,261.6 510.4,261.9 509.9,262.2 510,262.4 509,262.7 509.1,263 508.7,263.2 L506,263.2 A204,204 0 0 0 505.3,246.9Z M506,267.1 L510.1,267.2 510.8,267.5 509.2,267.7 508.8,268 508.7,268.2 507.7,268.5 512.1,268.8 507.6,269 508.4,269.3 507.6,269.5 507.6,269.8 507.9,270 507.1,270.3 515.5,270.8 508.3,270.8 509.2,271.1 508.9,271.3 508.9,271.6 508.3,271.8 509.4,272.1 509.5,272.4 510.3,272.7 509.1,272.9 509.2,273.2 509.5,273.5 515.6,274 510,274 509.2,274.2 509.5,274.5 508.4,274.7 508.9,275 510.4,275.3 510.1,275.6 512.2,276 509,276 509.4,276.3 510.2,276.6 509.5,276.8 509.8,277.1 510.9,277.5 511.3,277.7 510.9,278 511.1,278.3 511.1,278.5 510.3,278.7 511,279 510.3,279.3 510.1,279.5 509.7,279.7 511,280.1 509.8,280.3 509.5,280.5 508.9,280.7 509.3,281 514.9,281.7 509.4,281.5 509,281.8 508.2,282 507.6,282.2 508,282.5 508.5,282.8 508.8,283.1 508.5,283.3 508.3,283.5 507.4,283.7 L505.1,283.5 A204,204 0 0 0 506,267.1Z M504.8,286.7 L507.6,287 507.8,287.3 508.6,287.6 508.9,287.9 510.2,288.3 510.1,288.6 509.6,288.8 510.3,289.1 510,289.4 509.5,289.6 508.3,289.7 509,290 508.4,290.2 509.3,290.6 509.9,290.9 509,291.1 508.8,291.3 507.3,291.4 507.8,291.7 508.8,292.1 508.8,292.4 506.8,292.4 506.4,292.6 505.6,292.7 507.3,293.2 506.5,293.4 506.7,293.7 507,294 505.6,294 506.9,294.5 506.6,294.7 505.8,294.8 505.9,295.1 505.4,295.3 506,295.6 506.3,295.9 507.2,296.3 508.7,296.9 506.6,296.8 505.5,296.9 506.8,297.3 507.1,297.6 506.5,297.8 505.4,297.9 505.4,298.2 506.2,298.5 506.6,298.9 506.8,299.2 506.6,299.4 507.4,299.8 507.4,300.1 508.7,300.6 506.7,300.5 506.9,300.8 506.6,301 507.3,301.4 506.2,301.4 506,301.7 505.7,301.9 506.9,302.4 506.3,302.5 506.4,302.8 506.7,303.1 507.3,303.5 508.1,303.9 507.5,304.1 506.3,304.1 506.8,304.5 507.7,304.9 507.3,305.1 507.5,305.4 507.9,305.8 506.7,305.8 506.9,306.1 507.4,306.5 506.9,306.6 507,306.9 506.4,307 506.1,307.3 506.4,307.6 505.4,307.6 504.1,307.6 L501.5,307.1 A204,204 0 0 0 504.8,286.7Z M500.4,311.6 L504.1,312.4 505,312.9 503.9,312.9 505.4,313.6 505.9,314 505.1,314 505.6,314.4 505.3,314.6 505,314.8 505.3,315.2 504.3,315.2 505.4,315.8 503.7,315.6 503.7,315.9 503.7,316.1 503.1,316.2 503.8,316.7 504.3,317.1 504.2,317.4 504.4,317.7 504.5,318 504.7,318.3 503.9,318.4 504.1,318.7 504.7,319.1 503.7,319.1 504.1,319.5 504.5,319.9 504,320.1 502.9,320 504.3,320.7 504.1,320.9 503.5,321 503.5,321.3 502.7,321.3 502.4,321.5 501.3,321.5 500.5,321.5 501.6,322.1 502.1,322.5 502.3,322.9 501.4,322.9 501.5,323.2 502.5,323.8 501.3,323.7 502.6,324.3 502.7,324.6 500.6,324.3 501,324.7 501.8,325.2 500.4,325 500.8,325.4 499.8,325.4 500,325.7 499.2,325.7 497.9,325.6 497.9,325.9 499.2,326.6 499.2,326.9 L496.5,326 A204,204 0 0 0 500.4,311.6Z M495.2,329.7 L497.5,330.5 497.8,330.8 496.7,330.7 499.4,331.9 498.3,331.8 498.3,332.1 498.6,332.5 497.4,332.3 497.9,332.8 498.6,333.3 497.6,333.2 498.5,333.8 498.5,334.1 502.8,335.9 504.6,336.9 497.5,334.6 497.4,334.8 497.5,335.1 498.4,335.7 498.6,336.1 498.7,336.4 498,336.4 497.7,336.6 498,337 497.2,337 497.7,337.4 496.5,337.3 496,337.3 494.9,337.2 494.9,337.5 495.8,338.1 495.5,338.3 495.5,338.6 495.1,338.7 495.2,339 494.8,339.1 494.4,339.2 494.1,339.4 495.1,340.1 495.6,340.5 496,341 496.4,341.4 496.3,341.7 496.2,341.9 496.1,342.2 496.4,342.5 495.7,342.5 495.9,342.9 496,343.2 496.1,343.6 496.3,343.9 494.8,343.6 495.1,344 495.4,344.4 494.9,344.5 494.9,344.7 495.8,345.4 495.4,345.5 494.8,345.6 495.3,346 493.5,345.6 L489.8,344 A204,204 0 0 0 495.2,329.7Z M488.4,347.3 L491.2,348.5 491.7,349 490.7,348.9 491.9,349.7 492.9,350.4 492,350.3 491.1,350.2 491.1,350.5 490.7,350.6 490.5,350.8 491.2,351.4 490.3,351.3 490.3,351.6 491.2,352.3 490.4,352.2 490.3,352.5 491.2,353.2 490.4,353.1 490.7,353.5 489.8,353.4 489.1,353.4 488.7,353.5 490.3,354.5 489.1,354.2 488.8,354.3 489.8,355.1 490.3,355.6 489.1,355.4 489.3,355.8 488.2,355.5 489,356.2 488.8,356.4 490.1,357.3 487.9,356.5 487.8,356.8 488.6,357.5 487.8,357.4 486.7,357.1 486,357.1 486.4,357.6 486.8,358 486.6,358.2 486.4,358.4 486.5,358.8 484.8,358.2 485.1,358.7 484.6,358.7 485.6,359.5 484.4,359.1 484.4,359.4 484.8,359.9 484.2,360 485.3,360.8 484.3,360.6 484.4,360.9 484.3,361.1 485.3,362 484.7,362 484.6,362.2 L481.8,360.7 A204,204 0 0 0 488.4,347.3Z M480.1,363.8 L482.9,365.4 482.4,365.4 481.9,365.4 482.3,366 482.4,366.3 483.2,367.1 489.2,370.8 482.8,367.5 482.8,367.8 483.7,368.6 482.2,368 482.9,368.7 483.4,369.3 482.6,369.2 482.5,369.4 482.2,369.5 483,370.3 482.2,370.1 482.4,370.5 482.3,370.8 483.4,371.8 481.8,371.1 481.8,371.4 487.5,375.1 481.9,372.1 481.4,372.1 481.4,372.4 480.9,372.4 479.6,371.9 478.6,371.6 479.3,372.3 478.8,372.3 478.8,372.6 479.9,373.6 480,374 479.6,374.1 478.6,373.8 478.6,374.1 478,374 479.5,375.3 477.9,374.6 479.1,375.6 478.1,375.3 478.5,375.9 479.2,376.6 478.8,376.7 478.3,376.7 478.5,377.1 477.6,376.8 477.1,376.8 476.8,376.9 475.4,376.4 476.1,377.1 476.4,377.6 477,378.3 476.2,378.1 476.2,378.4 476,378.6 L472.5,376.3 A204,204 0 0 0 480.1,363.8Z M470.3,379.6 L474.2,382.2 473,381.7 473.7,382.5 473.5,382.7 473.8,383.2 473.9,383.6 473.4,383.6 477.7,386.9 473.2,384 473.4,384.5 472.8,384.4 472.4,384.4 472.8,385 472.8,385.4 471.6,384.8 477,389 471.5,385.4 471.9,386 470.5,385.3 471.1,386 470.3,385.8 470.1,386 468.9,385.4 469.5,386.2 468.5,385.8 468.9,386.4 468.1,386.1 473.4,390.3 468,386.7 468.6,387.4 468.6,387.8 473.6,391.8 468.8,388.6 468.6,388.8 468.3,388.9 467.3,388.4 466.7,388.3 466.8,388.7 468.2,390.1 467.7,390 468.9,391.3 468.5,391.3 467.9,391.2 468.2,391.7 467.1,391.2 467,391.4 465.4,390.5 465.6,391 465.2,391 464.9,391.1 464.9,391.4 467.7,393.9 464.2,391.5 464.4,392.1 463.6,391.7 464,392.4 464.2,392.9 L461.9,391 A204,204 0 0 0 470.3,379.6Z M459.6,393.8 L462.1,395.8 460.5,394.8 461.1,395.7 460.6,395.6 461.7,396.8 461,396.6 462.6,398.2 460.8,397 461.4,397.9 461.3,398.2 461.3,398.6 461,398.6 460.6,398.6 461.5,399.7 460.2,399 459.8,398.9 460.3,399.8 460.4,400.2 460.5,400.5 459.9,400.4 459.4,400.4 458.9,400.3 459.4,401 459.4,401.3 460,402.2 458.7,401.4 458.4,401.5 458.1,401.6 458.1,402 457.6,401.9 459.2,403.6 457.4,402.4 457.5,402.8 457.2,402.9 456.1,402.2 455.4,401.9 455.7,402.6 456.4,403.6 456.5,404 455.6,403.5 454.7,403.1 454.5,403.2 455.3,404.3 454.7,404.1 455.3,405 453.8,404 453.9,404.4 453.7,404.6 453.6,404.8 454.3,405.8 454.1,406 453.7,406.1 455.5,408 451.8,405 453.8,407.2 452.4,406.2 452.6,406.8 455.6,410 451.3,406.2 451,406.3 451.1,406.8 L449.5,405.2 A204,204 0 0 0 459.6,393.8Z M447,407.8 L449.9,410.6 449.3,410.4 449,410.5 448,409.9 448.3,410.5 447.3,409.9 447.1,410.1 447,410.3 447.3,411 447.6,411.6 447.6,412.1 447.2,412 446.9,412 446.1,411.6 445.8,411.6 448,414.3 446.3,412.9 445.7,412.7 445,412.3 445.7,413.4 445.5,413.5 444.8,413.2 445.7,414.6 444.3,413.4 444.6,414.1 444.8,414.7 445,415.3 446.3,417 444.2,415.2 443.2,414.6 443.3,415 446.4,418.7 442.6,415 442.6,415.4 442.1,415.2 441.5,415 442.3,416.2 441.2,415.4 444.5,419.4 441.2,416.2 440.7,416 441,416.7 441.5,417.6 441.1,417.6 440.6,417.4 441.2,418.4 440.9,418.5 440.2,418.1 440.3,418.6 439.7,418.3 439.3,418.2 438.9,418.1 439.1,418.8 438.6,418.6 438.6,419.1 439,419.9 439,420.3 L436.6,417.6 A204,204 0 0 0 447,407.8Z M433.8,420 L436.2,422.9 436.9,424.1 435.5,422.8 435.4,423.1 434.2,422.1 434.3,422.6 433.8,422.4 433.5,422.4 433.3,422.7 433.5,423.3 436.9,427.8 433.2,423.7 433,423.9 433.1,424.4 433.1,424.9 432.3,424.3 432.4,424.8 431.5,424.1 431.8,424.9 431.3,424.8 431.5,425.4 431.3,425.6 430.7,425.2 434.1,429.9 430.6,425.9 429.9,425.5 430.4,426.5 429.4,425.7 429.6,426.3 429.2,426.2 429.5,427.1 429.1,427 428.8,427 428.7,427.3 428.3,427.2 428.4,427.8 428.1,427.8 427.7,427.7 428,428.5 427.5,428.3 427,428.2 426.5,427.9 426.3,428.1 426.8,429.1 425.7,428.1 425.8,428.6 425.6,428.9 425.3,428.9 425.5,429.6 425.2,429.6 424.5,429.2 424.3,429.4 425.1,430.9 425.6,432 L423.1,428.5 A204,204 0 0 0 433.8,420Z M420.2,430.6 L422.6,434 422.3,434 422,434 424.1,437.5 421.5,434.3 422.5,436.1 421.6,435.3 421.5,435.6 421.2,435.6 421,435.9 421.3,436.7 421,436.7 420.5,436.4 419.7,435.7 419.8,436.3 419.8,436.9 420,437.5 419.9,437.8 418.5,436.3 419.4,438 419.1,438.1 418.3,437.4 421.9,443.3 416.7,435.8 416.9,436.7 419.6,441.2 416.4,436.8 415.3,435.7 415.8,436.9 415.4,436.7 414.8,436.3 414.5,436.4 414.3,436.5 414.6,437.4 414,436.9 413.8,437.2 413.8,437.6 413.1,437 413.6,438.2 413,437.8 412.5,437.5 412.8,438.5 412.2,437.9 411.8,437.9 412.5,439.5 412.9,440.5 412.2,439.8 412.4,440.7 412.6,441.6 411.6,440.4 L409.8,437.5 A204,204 0 0 0 420.2,430.6Z M407.1,439.2 L408.8,442.1 408.2,441.5 407.5,440.9 407.4,441.1 407.4,441.7 407.1,441.8 407.1,442.2 407.3,443.1 406.8,442.8 406.7,443.1 406.8,443.7 406.5,443.7 405.7,442.8 405.4,442.9 405,442.7 404.5,442.4 405,443.7 404.4,443.2 404.5,443.9 407.1,449.1 404.4,444.8 404.5,445.5 404,445.2 403.3,444.4 403.4,445.1 403.5,445.9 403.2,445.8 402.4,445 402.7,445.9 402.2,445.7 402,445.8 401.5,445.5 401.6,446.2 401.6,446.8 401.4,446.9 400.7,446.2 400.4,446.2 400.3,446.5 400.2,446.9 400.1,447.2 399.6,446.8 400,448.1 399.9,448.5 399.1,447.5 399.1,448 398.5,447.6 398.3,447.7 L396.8,444.9 A204,204 0 0 0 407.1,439.2Z M394.3,446.2 L396.1,449.8 395.6,449.4 395.1,448.9 395.1,449.6 394.9,449.8 395.4,451.2 395,451.1 395.4,452.5 394.6,451.4 394.4,451.6 394,451.3 393.6,451.1 393.5,451.5 392.9,451 393.1,452 393.4,453.2 392.9,452.7 392.6,452.7 392.6,453.2 392.1,452.8 392,453.3 391.5,452.9 390.7,451.6 390.6,452.1 389.8,451.1 392.4,457.2 389.5,451.6 389.4,451.9 389.2,452.2 388.9,452.1 389.1,453.1 389,453.6 390.3,456.9 388,452.6 387.8,452.8 387.2,452.2 389.4,457.6 386.9,452.7 386.6,452.6 386.1,452.3 386.2,453 386.4,454.1 385.7,453.2 388.4,460 384.8,452.5 385.5,454.6 384.7,453.5 384.7,454 384.1,453.4 383.6,452.9 L383,451.5 A204,204 0 0 0 394.3,446.2Z M380.4,452.6 L381.9,456.2 381.9,456.8 381.7,457 381.5,457.3 381.5,458 381.1,457.7 381,458.1 380.9,458.6 380.7,458.8 380.3,458.7 380.3,459.2 379.9,458.9 379.6,458.9 381.4,464.1 379.1,459 378.6,458.7 378.3,458.4 379.7,462.7 378,459.1 377.8,459.3 377.8,460 377.4,459.9 376.9,459.4 376.7,459.4 376.7,460.1 376.5,460.4 375.9,459.7 375.6,459.7 375.6,460.3 375.3,460.3 374.9,459.9 376.6,465.3 374.6,460.7 376.2,465.7 374.2,461.1 375.4,465.2 373.4,460.3 373.2,460.5 372.9,460.4 372.8,460.9 372.5,461 372.5,461.8 372.3,462 371.3,460 371.4,461.1 370.9,460.3 370.9,461.1 370.5,460.8 370.1,460.5 369.8,460.4 369.8,461.1 L368.4,457.2 A204,204 0 0 0 380.4,452.6Z M365.7,458.1 L366.7,461.2 366.4,461.1 366,460.6 366,461.3 365.7,461.4 365.5,461.7 365.5,462.4 365.2,462.4 364.8,462.1 364.5,461.7 364.3,462.1 364,461.9 364.4,464.3 364.3,464.6 363.9,464.1 363.6,464.2 363.1,463.4 363.1,464.2 362.6,463.6 361.8,461.9 361.7,462.5 361.6,463.1 361.8,464.5 361.1,463.3 360.7,462.7 360.3,462.3 359.8,461.5 360.2,463.8 359.9,463.5 359.9,464.5 359.8,465 359.8,465.9 359.1,464.6 358.8,464.4 358.8,465.3 358.2,464.3 357.9,464.2 357.6,464.1 357.3,463.8 356.7,462.6 356.5,462.9 356.3,463.1 355.9,462.6 L355.5,461.2 A204,204 0 0 0 365.7,458.1Z M353.1,461.8 L353.8,464.8 353.9,466.2 353.4,465 353.2,465.3 353.2,466.6 353.2,467.5 353,467.8 352.7,467.7 352.5,467.9 352.1,467.7 351.9,467.8 351.3,466.6 351.2,467.4 350.9,467.2 350.3,465.8 350.2,466.6 350.1,467.3 349.9,467.7 349.8,468.5 349.3,467.4 349.2,467.9 349.1,468.7 348.7,468.2 348.6,469 348.2,468.7 347.8,467.9 347.7,468.8 347.5,469 347,468.2 346.8,468.1 346.4,467.6 346.5,469.5 346.2,469.5 345.9,469.4 345.5,468.5 345.5,469.8 345,468.8 344.9,469.6 L343.7,464 A204,204 0 0 0 353.1,461.8Z M340.9,464.6 L341.5,467.3 341.2,467.3 340.9,467.2 340.7,467.4 341,470.6 340,466.6 339.9,467.4 339.5,466.6 339.4,467.6 340.5,475.4 339,468.1 338.6,467.9 338.2,467.2 338.9,472.4 337.8,467.4 337.6,467.8 337.5,469.1 337.2,468.9 337.1,469.6 337,470.9 336.5,469.5 336.3,470 336.1,470.1 335.6,468.5 335.2,467.9 335,468 334.8,468.5 334.6,469.2 334.2,468.4 334,468.5 333.9,470 333.8,470.8 333.4,470.2 333.2,470.2 332.6,468.3 332.3,468.2 332.1,468.5 331.9,468.8 331.7,469.3 331.7,470.8 331.4,470.6 L330.7,466.3 A204,204 0 0 0 340.9,464.6Z M327.6,466.7 L328,469.8 327.7,470 327.5,470.4 327.2,470.2 327.1,471.6 326.9,471.9 326.5,471.1 326.3,471.4 326,470.9 325.8,471 325.5,470.7 325.3,472 324.9,470.1 324.8,471.6 324.4,470.8 324.1,470.3 323.9,470.6 323.5,469.7 323.3,470.2 323.1,470.1 322.8,469.7 322.6,471 322.4,471.6 323,480.1 321.9,471.1 321.6,471.7 321.3,471.2 321.1,472 320.7,470.2 320.4,469.9 320.2,470.1 320,470.3 319.7,470.1 319.6,472.7 319.1,469 318.8,469.4 318.7,470.7 318.4,470.7 318.2,470.9 318.3,475.7 317.8,472.9 317.5,472.5 317.2,471.7 317,471.9 316.7,471.5 316.4,471 316.1,471.4 315.9,471.9 315.6,470.7 315.3,471 315.1,471.3 314.8,470.9 314.5,470.5 314.3,470.4 314.3,474.8 313.8,472.1 313.5,470.7 313.5,475.5 312.9,469.9 312.7,470.3 312.5,470.7 312.2,471.3 311.9,470.2 311.7,470.5 311.4,470.3 311.3,473.5 310.9,470.1 310.6,470 310.4,469.6 310.1,470.7 309.9,470.8 309.7,472.4 309.5,472.9 309.2,472.6 308.9,472.9 308.7,473.1 308.4,473.8 308.3,478.3 307.8,471.5 307.6,472.2 307.3,472 307.1,471.6 306.8,470.9 306.5,471 306.3,470.5 306,469.9 305.7,470 305.5,469.8 305.2,470.6 305,471 304.7,470.4 304.5,471.9 304.2,470.6 304,471.3 303.7,471.6 303.4,471.7 L303.4,468.3 A204,204 0 0 0 327.6,466.7Z" fill="#9488cc" fill-opacity="0.75" stroke="#5c4ca8" stroke-width="0.6"/>
<path d="M302.8,40 L302.8,33.2 303.1,31.8 303.4,33.9 303.7,34.9 304,33.3 304.3,33.3 304.6,31.2 304.9,31.8 305.1,33.2 305.4,31.4 305.7,30.9 306,30.7 306.3,31.1 306.6,30.1 306.9,29.9 307.2,30 307.5,31.3 307.8,31 308.1,31.7 308.4,31.4 308.8,25.7 309,29.5 309.3,31 309.5,32.8 309.7,35.2 310.1,33.3 310.3,35 310.6,34.2 310.9,33.1 311.2,33.8 311.4,35 311.7,34.7 312.1,34 312.3,34.3 312.9,28.9 312.9,35.2 313.2,34.8 313.5,34.4 313.9,32.2 314.2,31.9 314.3,34.8 314.6,34.9 314.9,35.5 315.6,27.6 315.6,33.1 315.8,34.4 316.2,32.5 316.3,35.2 316.8,32.6 316.9,35.1 317.2,34.8 317.8,31.1 318.1,30.5 318.2,33.6 318.4,34.4 318.8,33.5 319.1,32.9 319.4,32.5 319.9,30.1 320.1,30.9 320.4,31.7 320.6,32 320.9,32.7 321.2,31.8 321.6,31.4 321.9,31.1 322.2,30.6 322.4,31.8 322.7,32.3 322.9,32.8 323.2,32.6 323.5,33.1 323.8,32.8 324.2,31.1 324.3,33.6 324.5,34.1 324.9,33.7 325.1,34.7 325.4,34.7 325.7,34.3 325.9,34.7 326.1,35.5 326.4,36.3 327,33.4 327.1,34.6 327.3,35.9 327.7,34.5 328.1,33.7 329.1,27.1 328.8,32.8 329.3,30.8 329.3,33.4 329.8,31.5 330.2,31.2 330.4,31.6 330.9,30 330.6,35 330.9,35 331.2,34.8 331.5,34.8 331.7,35.2 332.2,34 332.4,34.3 332.8,33.9 332.9,35 333.2,34.9 333.3,36.8 334.1,32.6 334.1,34.9 334.6,33.5 334.7,34.5 335.4,31.8 335.5,33.1 335.8,33.1 336.2,32.7 336.6,31.8 336.8,32.8 337.2,31.8 337.3,33 337.8,31.8 337.9,33 338.2,33.1 L336.7,42.7 A224.3,224.3 0 0 0 302.8,40Z M339.4,43.1 L341.1,33.2 341.2,34.2 341.6,33.8 342,33.1 343.3,27.6 342.4,34.3 342.9,33 343.2,33 343.5,32.8 343.8,32.9 343.7,35.2 343.8,36.2 343.9,37.1 343.9,38.7 344.4,37.8 345.1,35.8 345.8,33.8 347,28.7 345.9,35.9 346.4,34.8 346.5,36.3 346.6,37.1 346.6,38.4 347.1,37.7 347.1,38.8 347.5,38.5 347.9,38 348.2,38 348.6,37.2 348.6,38.8 348.9,38.5 349.1,39.3 349.7,37.6 350.6,34.8 350.7,36.1 351.3,34.3 351.5,34.9 351.8,35.1 351.8,36.1 352,36.6 352.1,37.4 352.5,37.3 352.8,37.2 353.3,36.3 352.9,39.3 353.2,39.3 353.5,39.2 354.3,36.9 354.7,36.6 355.2,35.9 355.7,35.1 355.6,36.5 355.8,37.2 357.7,30.2 356.7,35.6 356.7,37 357,37.2 359,30.3 357.2,38.8 356.9,41.2 357.6,39.5 359,35.2 358.8,37.2 358.9,38 359.1,38.3 359.4,38.2 359.4,39.4 359.5,40.4 359.9,39.8 360.3,39.6 360.6,39.5 360.5,40.9 360.5,42 361.3,40.2 361.5,40.8 361.4,42.2 361.9,41.5 362.4,40.7 362.6,41 362.8,41.5 363.9,38.5 364.4,37.8 364.6,37.9 364.9,38.2 364.9,39.2 365.3,38.8 365.1,40.8 365.5,40.4 366.1,39.4 365.9,40.9 366.4,40.5 366.1,42.3 366,44 366.5,43 366.7,43.5 366.7,44.4 369.9,34.7 367.9,42.6 368.1,42.7 368.4,42.7 368.9,42 369.4,41.4 369.9,40.7 L367.2,49.7 A224.3,224.3 0 0 0 339.4,43.1Z M371.3,51 L374.2,42.2 373.7,44.5 373.9,45 374.6,43.7 374.1,46.1 374.4,46.1 374.6,46.4 375.2,45.6 376.5,42.7 376.3,44.3 376.5,44.3 377.1,43.6 377.5,43.4 377.5,44.1 377.8,44.3 378,44.7 378.2,44.8 377.8,47 380.4,40.5 378.6,46.5 380,43.2 379,47 379.1,47.7 379.4,47.6 380.6,45.2 381.2,44.5 380.4,47.5 381.4,45.4 381.2,46.9 381.3,47.5 381.3,48.2 381.9,47.6 381.7,48.9 383.4,45.1 382.6,48.3 383,48.1 383.8,46.7 383.4,48.5 384.4,46.8 384.8,46.4 385.4,45.7 385.4,46.5 385.2,48 384.9,49.4 385.6,48.6 385.9,48.4 386.7,47.3 387.3,46.5 387.6,46.5 387.5,47.7 387.9,47.4 388.5,46.6 388.8,46.7 388.1,49.4 388.5,48.9 388.5,49.8 388.9,49.6 389.5,48.9 391.9,43.7 389.6,50.1 389.4,51.4 390.3,50.1 390.5,50.4 391.1,49.7 391.9,48.5 392.7,47.3 392.7,48 392.3,49.8 392.6,49.8 392.5,50.8 392.9,50.6 395.3,45.8 394.2,49.2 394.5,49.2 393.9,51.2 394.6,50.3 395.1,49.9 395.7,49.4 394.9,51.9 395.1,52.2 395.4,52.2 395.6,52.5 395.6,53.3 396,53 396.7,52.1 398.2,49.6 398.3,50 L393.9,59.7 A224.3,224.3 0 0 0 371.3,51Z M398.6,61.9 L402.3,53.9 402.3,54.7 404.1,51.7 401.8,57.1 401.9,57.4 402.2,57.5 402.6,57.4 403.2,56.8 403.9,56.1 403.9,56.8 404.1,57 406.4,52.9 404.7,57 405.9,55.2 405.7,56.4 406,56.4 406.7,55.5 407.1,55.4 407.2,55.9 407.7,55.6 407.7,56.2 408.2,55.9 408.7,55.5 408.9,55.7 409,56.3 409.3,56.3 410.1,55.4 408,60 408.3,60.2 409.2,59 411.2,55.8 410.2,58.3 410.5,58.3 411.9,56.4 411.8,57.2 412.4,56.7 412,58.1 413,56.8 413.2,57 413,58 413.5,57.6 413.1,59 412.8,60.2 413.7,59.3 414,59.2 413.8,60.3 415,58.6 414.9,59.4 415.7,58.5 416,58.6 415.9,59.5 415.8,60.3 416.4,59.8 416.3,60.5 416.6,60.5 415,63.9 415.8,63.2 415.3,64.5 415.5,64.8 416.9,63 417.7,62.2 417.1,63.7 417.2,64.1 418.7,62.2 418.8,62.6 418,64.5 419,63.4 418.6,64.6 420,62.8 420,63.4 420.6,62.9 421.5,62 421,63.4 421.8,62.6 421.4,64 421.8,63.8 421.1,65.5 420.7,66.8 421.3,66.3 421.4,66.7 421.3,67.5 421.7,67.3 421.9,67.6 424,64.7 424.8,63.9 424.4,65.1 425.4,64.1 425.3,64.8 424.7,66.4 424.6,67 425,67 424.4,68.5 425.1,67.8 425,68.6 424.6,69.8 425.1,69.4 426,68.6 426.7,68.1 425.4,70.6 L422.5,75.1 A224.3,224.3 0 0 0 398.6,61.9Z M426.1,77.5 L431.4,69.5 431.6,69.8 431.1,71 431.8,70.5 431.2,72 432.6,70.4 432.4,71.2 432.6,71.4 432.8,71.6 432.7,72.4 432.9,72.6 435.8,68.7 432.7,73.8 433.9,72.6 434.2,72.7 435.2,71.7 435.5,71.8 435.9,71.8 436.1,72 436.8,71.4 436.5,72.4 436.3,73.2 436.7,73.2 437.2,73 437.2,73.4 437.9,73 437.9,73.5 437.6,74.5 438.2,74.1 438.5,74.2 437.6,75.9 438.1,75.7 437.7,76.8 436.8,78.5 436.9,78.8 437.1,79.1 438.6,77.5 439.5,76.7 439.7,76.9 439.2,78.1 441.1,76 440,78 441.6,76.3 442.6,75.6 441.7,77.2 443.5,75.3 442.4,77.3 443,77 442.7,77.9 442.9,78 442.9,78.5 443.6,78.1 442.3,80.3 442.8,80.2 442.1,81.5 446.5,76.2 449.3,73 445.3,78.8 445.5,79 444.1,81.3 444,81.9 443.3,83.3 444.4,82.2 444,83.2 444.6,83 445.7,82 445.2,83.2 448.6,79.3 445.9,83.2 445.1,84.6 446.2,83.7 446.9,83.3 446.7,84 445.9,85.5 446.1,85.7 447.6,84.3 449.7,82.2 449.6,82.7 449.5,83.4 451.8,81 451,82.5 450.5,83.5 451.3,83 450.7,84.2 450.3,85.2 448.6,87.6 450.2,86.2 452.6,83.8 454.7,81.6 L445.9,92.2 A224.3,224.3 0 0 0 426.1,77.5Z M449.2,95 L454.1,89.3 453.5,90.5 454.1,90.2 454,90.7 453.4,91.9 454.4,91.2 454.2,91.9 457.2,88.9 456.7,89.9 454.9,92.4 455.7,91.8 456.3,91.7 459.5,88.6 456.7,92.1 458.6,90.4 462.9,86.1 461,88.6 458.9,91.3 457.1,93.8 458.3,92.9 458.5,93.2 457.2,94.9 457.7,94.9 458.4,94.5 458.3,95.1 459,94.7 459.1,95.1 459.6,94.9 461.1,93.7 460.1,95.3 458.9,96.9 459.5,96.7 460.3,96.3 461.1,95.9 463.8,93.4 460.8,97.1 460.5,97.8 464.3,94.1 462.5,96.5 461.6,97.9 464.1,95.7 462.5,97.7 463.8,96.8 464.6,96.4 464.8,96.6 465.7,96.1 465,97.2 463.8,98.9 465.3,97.8 464.6,98.9 465,98.9 465.3,99 465.5,99.3 466,99.1 468,97.5 467.9,98.1 466.6,99.8 467.2,99.7 468.9,98.4 468.6,99 468.9,99.2 466.9,101.6 468.5,100.4 467,102.3 466.8,102.9 465.9,104.1 469.6,101 467.5,103.4 470.1,101.2 469,102.8 471.1,101.1 468.5,104.1 467.8,105.1 468.7,104.7 468.8,105 469.5,104.7 469.6,105 469.3,105.7 473.4,102.2 469.7,106.1 471.6,104.7 472,104.7 470.7,106.4 471,106.5 472.8,105.1 472.9,105.5 472.9,105.9 473.9,105.3 473.7,105.9 472.1,107.8 471.7,108.6 472.4,108.3 473.9,107.4 L467.6,113.1 A224.3,224.3 0 0 0 449.2,95Z M470.5,116.3 L476.9,110.6 477.6,110.4 478.1,110.4 478.8,110.1 477.7,111.5 477.3,112.2 476.9,112.9 477.4,112.9 480.3,110.8 479.3,112 478.7,112.9 478.8,113.2 477.9,114.4 479.2,113.6 480.6,112.9 479.1,114.5 484.2,110.6 478.8,115.6 479.4,115.4 478,116.9 479.5,116.1 480.8,115.4 480.8,115.8 483.1,114.3 482.2,115.3 482,115.9 483.3,115.2 483.3,115.6 483.1,116.1 483.1,116.5 483.4,116.6 483.4,117 486.9,114.6 488.9,113.3 483.2,118.3 488.2,114.6 484.5,118 483.2,119.4 485.8,117.7 488.9,115.6 482.3,121.2 482.4,121.5 484.5,120.3 484.1,120.9 483.2,122 483.6,122 484.3,121.8 484.4,122.2 483.7,123.1 483.4,123.7 484.7,123 483.7,124.2 484.5,123.9 487.8,121.7 487,122.7 487,123.1 486.9,123.5 485.2,125.2 487.6,123.7 487.4,124.2 488.9,123.5 488.9,123.8 489.2,124 494.6,120.3 490.7,123.6 487.8,126.1 487.6,126.7 489.3,125.7 490.2,125.4 490.4,125.6 488.4,127.5 489.7,126.9 490.8,126.5 492.1,125.9 490.6,127.3 490.2,127.9 492,127 489.7,129 488.2,130.5 490,129.6 489.3,130.4 490.3,130.1 494.7,127.3 495.2,127.3 489.8,131.5 490.3,131.4 490.5,131.7 490.6,131.9 490.4,132.4 491.2,132.2 491.7,132.2 493.9,131 492.6,132.3 493,132.4 492.7,133 492.3,133.6 492,134.2 492.6,134.1 492.8,134.3 495.6,132.7 L487.5,138.2 A224.3,224.3 0 0 0 470.5,116.3Z M489.9,141.8 L494.5,138.8 497.4,137.3 498.4,137 495.6,139.1 497.6,138.2 497.4,138.7 496.2,139.8 496.1,140.2 496.9,140 497.8,139.8 498.8,139.5 499.4,139.5 499.6,139.7 498.3,140.8 497.3,141.8 497.6,142 498.3,141.9 498.1,142.3 497.4,143.1 500.2,141.7 498.5,143.1 498.1,143.6 499.4,143.2 499.6,143.4 499.8,143.6 499.6,144.1 499.7,144.4 501.4,143.7 502.4,143.4 501.3,144.4 501,145 502.3,144.5 500.2,146.1 500.4,146.3 501.1,146.2 505,144.2 500.4,147.3 500.4,147.7 501.1,147.5 499.9,148.6 505.6,145.6 500.4,148.9 502,148.4 500.9,149.3 502.9,148.5 501.8,149.5 503.8,148.7 503.7,149.1 502.4,150.1 505.8,148.5 506.3,148.6 505.3,149.5 507.1,148.8 505.5,150 506.1,150 506.9,149.9 506.5,150.5 505.6,151.3 507.9,150.4 506.5,151.5 506.1,152 508.3,151.1 506.8,152.3 510.4,150.7 508,152.3 507.7,152.8 508.1,152.9 508.1,153.2 507.8,153.7 509.2,153.3 506.3,155.2 506,155.7 508.2,154.8 507.2,155.7 508.9,155.1 509.6,155.1 508.7,155.9 510.1,155.5 505.9,158 505.9,158.4 510,156.5 507.4,158.2 508.8,157.8 508.2,158.5 507.8,159 507.9,159.3 506.5,160.3 509,159.4 509.5,159.4 511.5,158.7 510.4,159.6 510.4,159.9 511.6,159.7 510.6,160.5 511.7,160.3 514.8,159.1 508.5,162.5 507.7,163.2 509.2,162.8 509.6,162.9 510.9,162.6 512.9,161.9 509.5,163.9 510.2,163.9 510.3,164.2 509.3,165 L504.3,167.4 A224.3,224.3 0 0 0 489.9,141.8Z M505.6,170.2 L511.7,167.4 511.3,167.9 511.2,168.3 512.2,168.1 512.1,168.5 513.8,168 516.3,167.2 516,167.7 516,168 516.5,168.1 515,169.1 515.4,169.3 516,169.3 512.9,171 513.3,171.1 515,170.7 520.1,168.8 513.9,171.8 512.5,172.7 513.3,172.7 515.9,171.9 516.5,172 516.2,172.4 516.7,172.5 517.7,172.4 516.8,173.1 516.5,173.6 514.2,174.8 515.9,174.4 518,173.9 518.2,174.1 519.1,174.1 517.6,175 517.8,175.3 515.8,176.4 518.1,175.8 518.4,176 517.2,176.8 518.6,176.5 518.4,176.9 517.6,177.5 517.5,177.9 516.5,178.6 515.6,179.3 515.8,179.5 517.7,179.1 517,179.7 520.5,178.6 517.6,180 517.4,180.4 519.1,180.1 519.7,180.2 521.6,179.8 520.9,180.3 527.6,178.1 524.5,179.6 520.5,181.4 520.2,181.9 520.8,181.9 521.9,181.8 521.4,182.3 520.7,182.9 522.2,182.7 522.5,182.9 519,184.5 518.8,184.9 518.6,185.2 519.1,185.4 519.2,185.7 519.8,185.7 521.4,185.5 518.9,186.7 520.6,186.4 522,186.2 521,186.9 519.1,187.8 L513.6,189.8 A224.3,224.3 0 0 0 505.6,170.2Z M514.6,192.8 L521.5,190.4 520.6,191.1 523.2,190.5 524.3,190.4 525.4,190.4 523.9,191.2 523.7,191.6 521.9,192.5 522.7,192.5 524.2,192.3 523.2,192.9 524.7,192.8 522.6,193.8 531,191.4 528.5,192.5 522.7,194.6 521.1,195.5 522,195.5 528.4,193.8 522.5,195.9 521.6,196.5 522.2,196.6 522.8,196.7 522.4,197.2 522.4,197.5 524.3,197.2 521.8,198.2 522.6,198.3 525,197.9 523.6,198.6 524.8,198.6 523.6,199.2 524.4,199.3 524,199.7 525.6,199.6 524.7,200.1 526.9,199.8 523.8,201 523.1,201.5 524.3,201.5 524.7,201.6 523.1,202.4 526.5,201.7 527.3,201.8 527.1,202.2 528.5,202.1 528.6,202.4 528.2,202.8 527.6,203.3 527.8,203.5 526.4,204.2 524.4,205 527.2,204.6 526.1,205.2 527.4,205.1 527.2,205.5 529.2,205.3 528.7,205.7 529,205.9 527.2,206.7 527.7,206.9 533.2,205.8 527.3,207.6 525.3,208.4 529.3,207.7 525.1,209 527,208.9 526.8,209.2 526.8,209.5 528.3,209.5 529.5,209.5 529.3,209.8 528.5,210.3 529,210.5 527.5,211.2 529.8,210.9 529.7,211.2 531.1,211.2 528.8,212.1 529.9,212.1 L520.6,214.2 A224.3,224.3 0 0 0 514.6,192.8Z M521.6,218.8 L530.9,216.9 530.1,217.4 531,217.5 531,217.8 531,218.1 528.6,218.9 527.8,219.3 528.9,219.4 527,220.1 528.7,220 527.8,220.5 528.8,220.6 529.5,220.7 529.6,221 537.3,219.9 530.1,221.5 528.3,222.1 529.6,222.2 529.9,222.4 529.8,222.7 529.6,223.1 530.3,223.2 531.4,223.3 531.4,223.6 531.2,224 527.8,224.9 529.1,224.9 531.8,224.7 534,224.7 531.1,225.5 529.1,226.1 537.6,225 531,226.4 531,226.7 528.6,227.3 528.5,227.6 528.4,227.9 529.2,228.1 532.1,227.9 531.9,228.3 530.3,228.8 530.3,229.1 529.4,229.5 530.9,229.6 530.2,230 531,230.2 530.3,230.6 530.8,230.8 533.1,230.7 532.6,231.1 534.8,231.1 532.1,231.8 534.7,231.7 533.8,232.1 533.7,232.4 539.3,231.9 530.9,233.4 532,233.5 530.8,234 533.1,234 532.6,234.3 530.7,234.9 532.2,235 530.3,235.5 530.9,235.7 530.6,236 531.3,236.2 532.3,236.4 532.4,236.7 529.7,237.3 530,237.6 530,237.9 531.3,238 531,238.3 530.2,238.7 535.5,238.4 533.8,238.9 534.1,239.1 533.9,239.5 530.2,240.1 532.2,240.2 532.4,240.5 L525.1,241.2 A224.3,224.3 0 0 0 521.6,218.8Z M525.5,245.1 L533.5,244.5 533.6,244.7 531.3,245.2 530.4,245.6 530.5,245.9 530.8,246.1 533.1,246.2 533,246.5 530.7,247 530.8,247.3 532.4,247.5 532.7,247.7 532.4,248 532.2,248.3 531.8,248.7 533,248.9 534.7,249.1 534.8,249.3 535.9,249.6 535.1,249.9 535.2,250.2 536,250.4 536.5,250.7 535.3,251.1 534.7,251.4 536.9,251.6 532.8,252.1 533.7,252.3 534.8,252.6 535.1,252.8 535.2,253.1 531.4,253.6 534.6,253.7 536.4,254 535.7,254.3 540.3,254.4 533.7,254.9 531.9,255.3 534,255.5 531.4,255.9 532.7,256.1 533.2,256.4 531.6,256.8 534.5,257 534.5,257.2 535,257.5 536.2,257.8 537,258.1 535.3,258.4 540.1,258.6 536,259 535.4,259.3 536.1,259.5 537.1,259.8 531.8,260.2 533.9,260.5 533.2,260.8 532.7,261.1 531.5,261.4 531.9,261.7 538,261.9 537.1,262.2 541,262.4 531.9,262.8 532.9,263.1 L526.3,263.1 A224.3,224.3 0 0 0 525.5,245.1Z M526.3,267.4 L533.1,267.5 531.3,267.8 532.8,268.1 534.3,268.4 532.5,268.7 531.9,269 532.1,269.2 532.6,269.5 532.2,269.8 531.8,270.1 533.2,270.4 531.5,270.7 532,271 532.3,271.3 534.2,271.6 533.3,271.9 535.7,272.3 532.6,272.4 539.3,273 531.3,273 533.1,273.3 534,273.7 533.9,273.9 533.2,274.2 534.5,274.6 533.7,274.8 540.7,275.4 537,275.5 536.8,275.8 535.4,276.1 535.1,276.3 536.4,276.7 535.9,277 535.4,277.2 536.6,277.6 534.2,277.8 536.8,278.2 535.9,278.4 536.6,278.8 535.4,279 534.9,279.3 533.6,279.5 536.5,280 533.3,280 532.8,280.3 532.5,280.6 533.7,280.9 536.6,281.4 533.1,281.5 534.6,281.9 532.9,282 537.3,282.7 535.4,282.8 536.2,283.2 536.1,283.5 535.5,283.7 537,284.1 532,284 531.9,284.3 532,284.6 531.8,284.9 533.5,285.3 535.6,285.8 534.9,286 532.6,286.1 L525.3,285.4 A224.3,224.3 0 0 0 526.3,267.4Z M524.9,288.9 L533.4,289.8 533.8,290.2 533.8,290.5 534.3,290.8 534.6,291.2 534.8,291.5 537.9,292.1 539.4,292.6 535.5,292.4 534.3,292.6 532.5,292.7 534.2,293.2 535.2,293.6 533.9,293.7 534.9,294.1 534.7,294.4 534.6,294.7 534.4,295 532.5,295 532.4,295.3 533.4,295.7 532.4,295.9 530.9,296 530.3,296.2 533.2,296.9 531.6,296.9 534.2,297.6 534.4,297.9 532.7,298 531.6,298.1 530.4,298.2 532.7,298.9 533.4,299.3 533.4,299.6 529.9,299.3 531.6,299.9 530.9,300 530.9,300.3 538.5,301.8 534,301.4 532.7,301.5 534.1,302 532,302 529.9,301.9 530.2,302.3 532.2,302.9 530.1,302.9 532.4,303.5 531.5,303.7 532.3,304.1 532,304.4 530,304.3 529.7,304.5 531.1,305.1 528.1,304.8 530.2,305.5 530.6,305.9 527.9,305.7 529,306.2 537,308 532.6,307.4 532.3,307.7 529.9,307.5 531.2,308.1 532.8,308.7 531.4,308.7 529.6,308.6 531,309.2 532.1,309.7 532.3,310.1 531.3,310.2 529.5,310.1 530.4,310.6 531,311 531.1,311.3 530.8,311.6 530.7,311.8 531,312.2 530.1,312.3 528.8,312.3 530.7,313 527,312.5 L521.3,311.3 A224.3,224.3 0 0 0 524.9,288.9Z M520.2,316.3 L529.7,318.6 530.6,319.1 530.5,319.4 529.1,319.3 530.7,320 532.1,320.7 526.4,319.6 525.9,319.7 526.1,320.1 526.6,320.5 527.1,320.9 528.4,321.6 528.1,321.8 528.4,322.2 526.3,321.9 528.5,322.8 527.1,322.8 525.2,322.6 524.8,322.8 524.2,322.9 525.4,323.5 525.7,323.9 526.5,324.4 530.2,325.7 530.3,326.1 531.2,326.6 527.3,325.9 525.5,325.7 524.8,325.8 524.2,325.9 524.7,326.4 522.8,326.1 524.3,326.8 525,327.4 530.7,329.3 528.2,328.9 527.2,328.9 526.4,329 524,328.6 522.5,328.4 523.7,329.1 523.8,329.5 523.1,329.5 523.6,330 524.1,330.4 523.1,330.5 524.6,331.2 523.9,331.3 524.4,331.8 525.2,332.3 522.1,331.7 522.2,332 521.6,332.1 526.3,333.9 522.1,332.9 522.2,333.2 521.7,333.4 523.2,334.2 520.9,333.7 L515.8,332.1 A224.3,224.3 0 0 0 520.2,316.3Z M514.5,336.2 L523.9,339.4 524.6,339.9 522.8,339.6 523.9,340.3 524.3,340.8 523.3,340.8 522.5,340.8 522.6,341.1 523.3,341.7 523.6,342.1 521.6,341.7 519.3,341.2 520.4,341.9 519,341.7 518.2,341.7 519.7,342.6 518.2,342.3 525.6,345.3 519.1,343.3 519.2,343.6 518.3,343.6 519.7,344.4 520.7,345.1 522.5,346.1 520.3,345.6 518.8,345.3 520.5,346.3 521.1,346.8 524.9,348.6 520.2,347.1 520.4,347.5 520.2,347.7 518.8,347.5 521.6,348.9 520.4,348.7 520.8,349.2 520.1,349.2 520.9,349.9 523,351 519.7,350 516.6,349.1 517.7,349.9 522.8,352.2 517.6,350.5 517.4,350.7 518.4,351.4 518.7,351.8 518.5,352.1 518.1,352.2 518.5,352.7 518.3,353 517.9,353.1 516.9,353 518.8,354.1 517.4,353.8 516.2,353.7 517.7,354.6 517.5,354.8 514.7,354 515.7,354.7 516.8,355.5 L508.5,351.9 A224.3,224.3 0 0 0 514.5,336.2Z M506.9,355.5 L514.8,359.1 515.2,359.5 515.2,359.9 516.2,360.6 514.9,360.4 515.9,361.2 514.7,361 516,361.9 514.5,361.5 515.8,362.4 515.5,362.6 512.8,361.7 518.1,364.5 511.2,361.6 510.1,361.4 510.9,362.1 510.7,362.3 509.8,362.2 510.6,362.9 509.7,362.8 509.2,362.9 509.8,363.5 509.3,363.6 515.9,367.1 511.7,365.4 509.6,364.7 508.3,364.4 508.9,365 508.5,365.1 509.2,365.8 515.3,369.1 508,365.9 508,366.2 509.8,367.4 511.6,368.6 510.7,368.5 511.1,369.1 512.2,369.9 511.2,369.8 510.6,369.8 508.8,369.2 511.1,370.7 506.7,368.8 507.4,369.5 514.6,373.5 507.6,370.3 509.8,371.7 508.7,371.5 509.7,372.3 509,372.3 510.2,373.2 507.7,372.3 510.8,374.2 508.2,373.2 509.8,374.4 509.4,374.5 509.5,374.9 508.5,374.7 508.8,375.2 L499.7,370.3 A224.3,224.3 0 0 0 506.9,355.5Z M497.8,373.7 L506.1,378.3 506.6,379 505.9,378.9 506.2,379.4 505.5,379.4 505.7,379.8 504.9,379.7 501.8,378.3 501,378.1 502.3,379.3 501.3,379 502.2,379.9 504.2,381.4 504.1,381.6 502.9,381.3 503.1,381.7 503.3,382.2 503.6,382.7 503.5,383 504.7,384 501.6,382.5 500.8,382.4 502.4,383.7 503.7,384.8 499.5,382.6 502.8,385 498.6,382.8 498.2,382.8 501.9,385.4 498.3,383.6 503.8,387.3 499.3,384.9 497.6,384.2 497.9,384.7 498.6,385.5 497.5,385.1 499.2,386.5 499.6,387.1 498.6,386.9 500.2,388.2 498.4,387.4 500.3,388.9 500.4,389.3 499.5,389.1 498.8,389 498,388.9 501.6,391.5 498,389.5 496.1,388.7 496.5,389.3 498,390.6 496.7,390.1 496.1,390.1 497.3,391.2 498.6,392.4 498.1,392.4 497.2,392.2 496,391.7 L489.5,387.4 A224.3,224.3 0 0 0 497.8,373.7Z M487.1,391 L494.7,396.2 493.6,395.8 491.2,394.6 495.1,397.6 495.1,397.9 494.2,397.7 493.1,397.2 491,396.2 492.7,397.7 493.3,398.5 490.3,396.7 492.7,398.8 496.1,401.5 490.1,397.6 490.9,398.6 492.7,400.2 492.2,400.2 490.8,399.5 489.7,399.1 488.3,398.4 488,398.6 489.7,400.2 492,402.2 490.8,401.7 491.6,402.6 491,402.6 490.3,402.4 489.2,401.9 488.6,401.8 487.1,401.2 486.6,401.1 488.6,402.9 486.2,401.6 486.7,402.2 486.9,402.7 488.7,404.5 489.6,405.5 488.4,405 488.3,405.3 488.3,405.7 489.5,406.9 487.6,405.8 487.9,406.4 487.5,406.5 487.4,406.7 486.9,406.7 488.3,408.2 487,407.6 486.4,407.5 486.9,408.3 482.9,405.5 484.6,407.2 486.7,409.2 486,409 485.4,409 482.3,406.8 484.3,408.8 L477.8,403.6 A224.3,224.3 0 0 0 487.1,391Z M475.3,406.7 L480.4,410.9 481.2,411.8 482.8,413.5 480.3,411.9 480.7,412.6 479.6,412.1 479.1,412 481.8,414.6 477.7,411.6 478.7,412.8 477.6,412.2 478.1,413 480.5,415.5 480.5,415.9 480.7,416.4 480.8,416.9 479.7,416.3 479.3,416.4 479.9,417.3 479.4,417.3 479,417.3 477.9,416.7 476.6,416 477.8,417.3 475.8,416 476.1,416.7 475.5,416.5 475,416.5 474.2,416.1 474.4,416.7 473.8,416.6 474.1,417.2 476.2,419.4 474.2,418 472.8,417.2 473.7,418.4 473.4,418.5 473.1,418.6 473.2,419.1 473.3,419.6 473.3,420 474.6,421.5 472.6,420.2 471.6,419.6 472.2,420.5 473.7,422.3 473.4,422.4 473,422.5 473,422.9 473.9,424.1 471.5,422.3 472.6,423.7 470.6,422.3 470.2,422.3 469.4,421.9 469,421.9 468.9,422.2 469.4,423 469.8,423.8 469.5,424 469.3,424.2 L464.2,419.3 A224.3,224.3 0 0 0 475.3,406.7Z M461.4,422.1 L467.3,427.9 465.5,426.5 466.5,427.9 465.7,427.5 466.9,429.1 466.6,429.2 465.8,428.8 464.6,428.1 464.4,428.2 464.2,428.5 463.8,428.5 464.4,429.5 464.9,430.4 464.7,430.6 465.6,431.9 464.5,431.2 465.5,432.7 467.4,435.1 465.2,433.2 464.2,432.6 462.9,431.6 464.7,434 461.7,431.3 461.3,431.3 462.9,433.4 466.5,437.5 462.6,433.8 461.2,432.8 460.2,432.2 461.5,434 462.2,435.1 461.3,434.7 461.3,435.1 461.1,435.2 460.3,434.8 458.6,433.4 458.4,433.6 458.8,434.5 462.6,439 458,434.5 457.1,433.9 457.1,434.4 459.8,437.7 459.7,438.1 457.5,436 458.1,437.1 455.9,435.2 457,436.8 456.1,436.2 455.2,435.6 455.9,436.9 456.4,437.9 457.6,439.6 460.4,443.2 456.9,439.7 459.3,443 455.1,438.6 L450,432.8 A224.3,224.3 0 0 0 461.4,422.1Z M446.9,435.5 L450.9,440.2 452.3,442.3 452.5,443 449.4,439.8 449.6,440.4 449.3,440.5 450.6,442.6 451.8,444.5 451,444 450.7,444.1 450.8,444.7 451.4,445.8 450,444.7 451.1,446.4 450.3,445.9 450.1,446.2 448.9,445.2 448.6,445.2 447.9,444.8 446.4,443.5 446.1,443.6 445.9,443.7 447,445.6 446.7,445.8 445.8,445.1 446,445.7 445.4,445.5 446.8,447.7 444.6,445.5 444.1,445.2 443.8,445.4 443.3,445.2 444,446.5 445.6,449.1 444.5,448.1 443.6,447.5 446,451.1 444.8,450 444,449.4 442.6,448.1 442.1,447.9 441.5,447.6 441.8,448.4 440.4,447.1 441.5,449.1 441.5,449.6 442.5,451.4 442,451.2 442,451.8 442.3,452.6 441.3,451.8 441,451.8 441.9,453.6 440,451.4 L435.1,444.8 A224.3,224.3 0 0 0 446.9,435.5Z M431.9,447.1 L435.8,452.6 436.1,453.6 434.6,451.8 435,452.9 434.9,453.3 433.6,452 434.4,453.6 435.1,455.1 436.2,457.2 435.6,456.8 434.8,456.3 435.5,457.7 434.3,456.5 433.8,456.2 432.1,454.3 432.3,455.1 432,455.1 431,454.2 431.9,456 432.1,456.9 431.9,457.1 431,456.3 431.1,457 431.4,457.8 431.5,458.6 431.8,459.5 430.7,458.5 431.3,459.9 430.6,459.3 432.8,463.3 429.8,459.2 428.8,458.3 429.1,459.1 429,459.5 428.2,458.8 430.7,463.3 428.2,459.8 427,458.5 426.2,457.9 426.4,458.8 426.3,459 427.7,461.8 427.3,461.8 426.8,461.5 426.6,461.7 425.7,460.9 425.8,461.6 426.9,463.8 423.9,459.5 424.4,460.9 L420.5,454.7 A224.3,224.3 0 0 0 431.9,447.1Z M417.5,456.6 L421.6,463.3 420.8,462.5 421.3,463.9 420.7,463.5 420.4,463.6 420.7,464.7 421.3,466.2 421.4,467 420.2,465.6 420.2,466.2 418.6,464 419,465.3 417.7,463.6 417.2,463.3 416.9,463.4 417.2,464.5 417.3,465.2 418,467.1 417.8,467.3 416.5,465.5 416.9,466.8 417.3,468.2 418.6,471 416.8,468.4 416,467.7 416,468.1 415.7,468.4 416,469.5 414.1,466.6 416.1,470.9 413.7,467.1 414.7,469.5 413.5,468 413.4,468.4 411.8,466 412.7,468.3 412.2,468 412.4,468.9 412.1,468.9 412.9,471.1 411.4,469 410.8,468.4 412.3,471.9 411.1,470.1 410.2,469.1 410.7,470.6 411.2,472.4 L406.3,462.9 A224.3,224.3 0 0 0 417.5,456.6Z M403.5,464.3 L405.9,469.1 406.8,471.4 406.8,472.1 406,471.1 406,471.8 404.8,470 404.3,469.7 405.3,472.4 404.9,472.1 407.1,477.4 403.5,470.8 403.4,471.2 403.2,471.4 403.8,473.3 404.3,475 403.5,474.1 403.4,474.4 402.7,473.7 402.8,474.6 402.7,474.9 402.2,474.7 402,474.8 401.7,475 401.8,475.8 401.3,475.5 401.6,476.8 401.4,477 400.7,476.3 400.5,476.4 399.5,475 401.3,479.6 398.5,474.3 399.2,476.5 398.8,476.4 398.5,476.3 399.1,478.4 398.3,477.3 398,477.4 398.1,478.4 397.3,477.2 397.1,477.5 397.1,478.2 397.3,479.4 397,479.5 396.8,479.8 396.4,479.6 395,477.1 395.8,479.5 394.2,476.7 393.8,476.5 L391.1,470.2 A224.3,224.3 0 0 0 403.5,464.3Z M388.2,471.4 L390.9,477.9 392,481.3 391.4,480.6 391.1,480.7 391,481.2 390.2,480 392,485.2 389.2,479.1 388.3,477.6 387.8,477.3 388.1,478.6 387.7,478.5 387.1,477.7 387.9,480.6 387.2,479.7 386.2,477.7 386,478.1 386.3,479.8 386.7,481.4 385.3,478.7 385,478.6 384.6,478.6 384.9,480.1 384.5,479.8 384.1,479.5 384,480.2 383.4,479.3 382.9,478.9 383.3,480.8 382.6,479.7 382.8,481 382.3,480.5 382.5,482 382.4,482.7 382.1,482.7 382.6,484.9 381.9,483.7 380.5,480.7 380.9,482.6 380.4,482.1 380.5,483.2 379.5,481.4 379.1,481.2 379.7,483.7 379.6,484.2 379.6,485.2 379.1,484.5 378,482.4 377.9,483.1 377.2,481.8 378.2,485.5 L375,476.4 A224.3,224.3 0 0 0 388.2,471.4Z M372.1,477.4 L374.3,484.1 374.3,485.1 374.5,486.7 373.2,483.8 373.5,485.6 373,484.9 372.4,483.8 372.7,485.7 372.4,486 372.3,486.6 371.5,485 371.2,484.8 370.9,484.8 370.5,484.6 370.3,485.1 370.1,485.4 370.4,487.1 370.2,487.5 369.8,487.2 368.5,483.9 370,490 367.9,483.9 368.3,486.4 368.4,487.6 367.5,485.5 367.1,485.4 367.4,487.3 367.5,488.7 367.6,489.9 367.1,489.4 366.4,488.1 366.5,489.5 366.3,489.8 366,489.8 365.7,489.9 365.5,490.1 364.9,489.2 364.9,490.1 364.4,489.6 364.5,491 363.8,489.7 362.4,485.7 362.2,485.9 L360.8,480.8 A224.3,224.3 0 0 0 372.1,477.4Z M358.2,481.5 L359.8,487.8 360.3,490.9 360,490.8 360,492 359.4,490.9 359.1,491.1 358.8,491.1 358.7,491.9 358.4,492 357.3,488.6 357.6,491 357.2,490.9 357.1,491.5 356.8,491.7 356.8,492.9 356,491 355.9,491.8 355.9,493 355.6,493.2 355.1,492.1 355.2,493.8 354.4,491.8 354.3,492.7 353.8,491.8 353.7,492.9 352.8,490.3 352.9,491.8 352.6,492.2 352.3,491.9 352,492 353.6,500.8 351.6,493 351.5,494 351.2,493.9 350.8,493.6 350.6,494.2 350,492.8 350.1,494.4 L347.9,483.9 A224.3,224.3 0 0 0 358.2,481.5Z M344.8,484.5 L346.6,493.9 346,492.4 345.8,493 345.5,492.9 345.1,492.1 344.4,490 344.6,492.8 344.5,493.9 344.5,495.4 344,494.1 343,490.6 343,491.8 342.7,492 342.5,492.4 341.9,491 341.5,490.1 341.2,490.3 341,491 341,492.3 340.6,492 340.7,494.3 340.5,495 341.1,500.3 339.9,495.1 339.6,494.8 339.5,495.9 338.7,493 338.7,494.8 338.5,495.4 338.3,496.4 338,496.1 337.6,495.5 337.1,494.3 337,495.2 336.6,495.2 336.6,496.7 336.3,496.6 336,496.6 335.5,495.6 335.2,495.3 334.9,495.1 L333.6,486.4 A224.3,224.3 0 0 0 344.8,484.5Z M330.1,486.8 L331,493.9 332,504.5 330.4,493.5 330.3,495.1 330.3,498 329.5,493.7 329.6,496.4 329.3,496.6 329.1,497.9 328.4,493.7 328.1,494.1 327.8,493.9 327.9,497.1 327.6,497.4 327.2,496.7 327,496.9 326.6,496 326.5,498 326.1,497.2 325.9,498 325.5,496.9 325.6,500.6 324.9,496.8 324.8,498.4 324.3,496.6 324,496.8 323.7,496.5 323.3,495.9 323.2,497.1 322.6,493.7 322.3,493.6 322.2,495.8 322,496.6 321.7,496.9 321.5,498.7 321.1,497.3 320.9,498.5 320.6,497.4 320.1,494.7 319.8,495.3 319.6,496.8 319.2,494.3 319.2,498.4 318.9,498.7 318.6,498.7 318.2,497.5 318,498.2 317.7,498.7 317.4,498.8 317.1,498.3 316.8,497.8 316.5,498.2 316.2,497.9 315.9,497.6 315.6,498.4 315.3,497.4 314.9,495.7 314.7,497.7 314.4,497.5 314.1,497.5 313.8,497.5 313.6,498.4 313.3,498.8 313,498.1 312.7,498.5 312.5,499.2 312.1,498.8 311.8,498.4 311.5,497.6 311.3,499.5 311,500 310.6,498.1 310.3,496 310.1,499.1 309.8,497.6 309.5,497.8 309.2,498.6 308.8,496.3 308.6,497.9 308.3,497.1 308,496.6 307.7,497 307.4,496.7 307.1,497.9 306.8,497.3 306.6,502.5 306.3,499.2 306,497.6 305.7,498.3 305.4,498.9 305.1,498.3 304.8,495.6 304.5,494.8 304.2,496.9 303.9,496.6 303.6,496.7 L303.6,488.6 A224.3,224.3 0 0 0 330.1,486.8Z" fill="#de1520" fill-opacity="0.92" stroke="#cc101a" stroke-width="0.3"/>
<path d="M302.8,20.8 L302.9,18.7 303.2,18.9 303.5,18.2 303.8,18.2 304.1,15.9 304.4,18.1 304.7,17.3 305.1,13.3 305.3,18.8 305.6,19 305.9,19.6 306.2,19.3 306.6,18.1 306.9,15.4 307.2,18.6 307.5,18.5 307.8,18 308.1,17.6 308.4,18.1 308.7,18.2 309,18.2 309.4,15.3 309.7,18.1 310.1,15.3 310.2,18.9 310.6,18.6 310.9,18.8 311.2,19.1 311.5,19.6 311.8,19.2 312.1,18.8 312.4,18.5 312.7,18.7 313,18.6 313.4,17.6 313.7,17.1 314,17.8 314.3,18 314.6,18 314.9,18 315.2,18.4 315.5,18.3 315.8,18.7 316.1,18.3 316.5,18.3 316.7,18.8 317.1,18.7 317.6,14.2 317.7,18.2 318,18.3 318.3,18.5 318.6,18.9 318.9,18.3 319.2,18.3 319.5,18.7 320.2,14.3 320.2,18.5 320.5,18.8 320.7,19.6 321,19.1 321.4,19 321.7,19.2 322.4,14.3 322.3,19.4 322.6,18.8 322.9,19 323.2,19.2 323.5,19.1 323.9,18.8 324.1,19.3 324.5,18.7 324.8,19 325.1,19 325.4,19.4 326.1,15 325.9,20.1 326.2,20.6 326.5,20.6 326.8,20.2 327.7,15.2 327.5,20.1 327.8,20.2 328.2,19.1 328.5,19 328.8,19.5 329.1,19.1 329.9,14.5 329.7,19.1 329.9,20.5 330.2,20.3 330.5,20.4 330.9,19.9 331.2,20.2 331.6,19.4 331.9,19.5 332.1,20.3 332.4,20 332.7,20.1 332.9,21 333.3,20.3 334.4,14.3 333.9,20.6 334.2,21 334.5,20.8 334.8,20.8 335.1,21.2 335.7,18.7 335.8,20.7 336,21.5 336.3,21.7 336.7,20.8 337,20.9 337.4,20.3 337.7,20.3 338,20.6 338.2,21.1 338.5,21.3 338.8,21.3 339.2,21 339.5,20.8 339.8,20.9 340,21.4 L339.7,23.7 A243.5,243.5 0 0 0 302.8,20.8Z M342.6,24.2 L343,21.9 343.4,21.3 343.6,21.8 343.8,22.6 344.3,21.6 344.6,21.9 344.9,21.6 345.2,22 345.6,21.3 346.6,17.7 346,22.4 346.2,23.2 346.6,22.9 346.9,23 347.2,22.6 347.4,23.3 347.9,22.5 348.2,22.5 348.6,21.9 348.9,22.3 349.2,22.2 349.4,23 350.7,17.8 349.9,23.5 350.2,23.7 350.6,22.9 351,22.4 352.2,18.2 351.4,23.6 351.8,23.5 352.1,23.3 352.6,22.6 353.1,21.4 353,23.6 353.4,23.1 353.7,23.3 353.9,23.6 354.4,23.1 354.5,23.8 354.9,23.5 355.2,23.4 355.5,23.6 355.8,23.8 356,24.2 356.4,23.9 356.6,24.3 356.8,24.9 357.2,24.3 357.5,24.4 358.7,21 358.3,24 358.5,24.5 358.6,25.2 359.2,24.1 359.3,25 360.2,22.4 360,24.7 361.3,20.7 360.6,24.8 360.9,24.7 361.1,25.4 361.4,25.5 361.7,25.6 362.1,25.4 362.5,25.1 362.8,25.1 363,25.4 363.3,25.6 363.5,25.8 363.8,26 364.2,25.5 364.2,27 364.7,26.1 365.1,26.1 365.3,26.4 365.5,26.9 366.1,25.8 366.3,26.1 366.6,26.3 366.9,26.4 367,27.3 367.2,27.7 367.5,27.7 367.7,28 368.2,27.5 368.5,27.5 368.8,27.7 369.1,27.6 369.6,26.9 369.8,27.2 370.1,27.4 370.5,27.3 370.6,27.9 371,27.7 371.4,27.4 371.6,27.7 371.8,28.3 372.1,28.3 373.3,25.4 372.8,28.2 373.1,28.2 373.3,28.5 373.7,28.3 L372.8,31.3 A243.5,243.5 0 0 0 342.6,24.2Z M377.2,32.7 L378.7,28.4 379.4,27 378.4,31.2 378.8,31 378.8,32 379.1,32 379.4,32.1 379.8,31.7 380.5,30.8 380.3,32.2 380.4,32.9 380.8,32.7 381,33.1 381.5,32.6 381.7,32.8 382.1,32.6 382.7,32 382.9,32.3 383.4,31.8 383.8,31.7 384,32.1 384.3,32 384.7,31.9 386.4,28 386.1,29.7 385.4,32.8 386.6,30.1 386.1,32.5 385.9,34 386.2,34.1 386.6,33.9 387,33.7 387.3,33.8 387.4,34.5 387.8,34.3 388,34.7 388.1,35.2 388.3,35.5 389.7,32.7 388.8,35.9 389.2,35.9 389.7,35.2 390.1,35.2 390.3,35.5 390.8,35.1 391.2,34.8 391.2,35.7 391.2,36.5 391.5,36.7 392,36.1 392.2,36.6 393.5,34.1 392.9,36.5 393.3,36.3 393.7,36.2 394.2,35.8 394.3,36.3 394.5,36.6 394.6,37.2 394.9,37.2 395,37.9 396.4,35.2 395.6,37.9 396,37.8 396.3,37.9 396.9,37.3 396.5,39.1 397.1,38.4 397.6,38.1 397.7,38.7 397.8,39.2 398.1,39.3 398.5,39.1 398.8,39.2 398.9,39.7 399.1,39.9 399.3,40.2 399.6,40.3 401.6,36.5 400.3,40.2 400.8,40 401.1,40 401.5,39.9 401.6,40.4 401.6,41.1 402,41 402.6,40.6 L401.8,42.2 A243.5,243.5 0 0 0 377.2,32.7Z M406.8,44.5 L407.8,42.4 408.5,41.8 408.7,42.1 408.9,42.3 409.4,41.9 409.6,42.3 409.6,42.9 410,42.9 410.1,43.3 410.8,42.7 410.8,43.3 411,43.6 411,44.3 411.5,43.9 411.7,44.3 411.7,44.9 412.4,44.3 412.7,44.4 413.2,44 414,43.1 413.6,44.6 413.6,45.3 414,45.2 414,45.8 414,46.5 414.5,46.2 415,45.8 415,46.5 415.5,46.2 415.6,46.7 415.9,46.9 416.3,46.7 416.7,46.7 417,46.8 417.3,46.8 417.6,46.8 417.6,47.6 418.4,46.7 418.7,46.8 418.5,47.9 418.8,48 418.9,48.4 419.4,48.2 419.5,48.5 420.2,47.9 420.6,47.7 420.7,48.2 421.1,48.2 421.2,48.7 421.7,48.4 421.6,49.2 421.7,49.6 421.6,50.5 422.2,49.9 422.3,50.5 422.2,51.1 424.8,47.2 422.8,51.5 423.1,51.4 423.5,51.5 424.1,51 424.1,51.7 423.9,52.6 424.4,52.3 424.6,52.6 424.8,52.9 425.2,52.7 425.6,52.6 425.9,52.8 425.7,53.7 426.1,53.6 426.7,53.2 427.1,53.1 427.7,52.8 427.6,53.4 428.1,53.2 428.4,53.4 428.4,53.9 428.9,53.7 429.2,53.9 429,54.7 429.6,54.3 430,54.2 431,53.2 430.1,55.2 430,56 430.5,55.8 430.7,56 430.9,56.3 431.2,56.3 431.6,56.3 431.7,56.7 434.6,52.7 432,57.3 432.8,56.7 432.8,57.2 433.2,57.2 433.4,57.4 434.1,57 L432.8,58.9 A243.5,243.5 0 0 0 406.8,44.5Z M436.8,61.5 L441,55 438.4,59.6 438.7,59.6 438.8,60.1 439.1,60.1 439.7,59.9 439.6,60.6 440.1,60.3 442.9,56.7 440.9,60.3 440.6,61.2 441.3,60.7 441.4,61.2 442.7,59.9 441.4,62.2 441.9,62.1 442.4,61.8 444.9,58.8 442.7,62.5 443,62.6 443.2,62.9 443.8,62.6 443.7,63.2 443.4,64.1 444,63.9 447.8,59.1 444.4,64.3 444.5,64.7 444.8,64.8 445.1,65 445.3,65.2 445.7,65.2 446.3,64.9 446.2,65.6 446.1,66.1 446.2,66.5 446.8,66.3 446.5,67.2 450,62.9 447.1,67.4 447.5,67.4 447.8,67.6 450.2,64.8 448.6,67.5 448.7,67.9 448.8,68.2 450,67.1 450.5,67 450.2,67.8 450.3,68.2 450.7,68.3 450.6,68.9 450.8,69.1 451.2,69.1 452,68.5 452.4,68.6 452.5,68.9 456.5,64.2 452.8,69.5 452.8,70.1 453.3,70 453.6,70.1 454.1,69.8 454.3,70.1 454.5,70.3 454.7,70.6 454.9,70.8 455,71.3 455.2,71.5 455.5,71.5 455.6,72 456.1,71.8 456.2,72.1 456.4,72.4 456.2,73.1 456.8,73 456.6,73.6 459.1,71.1 457.4,73.6 457.1,74.5 457.1,75 457.2,75.3 457.7,75.3 457.9,75.4 457.8,76.1 458.3,75.9 459.1,75.5 461.1,73.5 462.4,72.5 L458.2,77.5 A243.5,243.5 0 0 0 436.8,61.5Z M461.8,80.5 L462.9,79.2 462.9,79.7 463.5,79.4 466.7,76.2 463.4,80.4 463.6,80.7 463.7,81.1 464.3,80.9 468,77.2 465.6,80.4 465.8,80.5 467.8,78.8 466.8,80.4 467,80.6 467.3,80.8 467,81.6 467.1,81.9 467.5,81.9 467.6,82.3 468.2,82.1 468.3,82.4 468.5,82.6 468.6,83 468.9,83.1 469.1,83.3 468.8,84.2 469,84.4 469.6,84.2 469.8,84.4 470.4,84.2 470.5,84.6 473.7,81.6 470.9,85 471,85.4 471.3,85.5 471.3,85.9 472.2,85.5 471.8,86.3 472,86.5 472.7,86.3 472.7,86.7 472.9,87 473.5,86.8 473.5,87.3 473.7,87.5 473.7,87.9 474.3,87.7 474,88.5 475.7,87.2 474.4,88.9 474,89.8 477.1,87.1 474.1,90.6 474.4,90.7 475.1,90.5 475.1,90.8 474.7,91.7 475.4,91.4 475.8,91.5 477.2,90.5 476,92.2 476.3,92.3 476.2,92.8 476.7,92.8 476.9,93 479.7,90.7 477.5,93.2 477.9,93.3 478.3,93.3 478.5,93.5 478.4,94.1 478.6,94.3 479.1,94.3 479.2,94.6 479.6,94.7 479.5,95.1 480.2,95 480.5,95 481.1,94.9 480.9,95.5 484.6,92.5 481.7,95.6 482.1,95.7 482.3,95.9 482.3,96.3 482.4,96.6 482,97.5 482.6,97.3 482.4,97.9 482.2,98.5 482.1,99 482.7,98.9 482.7,99.3 L481.8,100.1 A243.5,243.5 0 0 0 461.8,80.5Z M484.9,103.6 L490.4,98.8 486.9,102.3 486.8,102.8 486.8,103.2 486.4,103.9 487,103.8 486.8,104.4 487.3,104.3 487.2,104.8 491.5,101.6 487.9,105 488.2,105.2 488.3,105.5 489.1,105.2 489.2,105.5 489.6,105.7 490.1,105.6 489.5,106.5 489.7,106.7 489.9,107 490.3,107 490.3,107.5 490.2,107.9 490.4,108.2 490.6,108.4 491.3,108.2 491.3,108.6 491.5,108.8 492,108.8 491.9,109.3 491.8,109.8 492.9,109.3 492.8,109.8 493.3,109.8 493.4,110.1 497.6,107.1 493.4,110.8 493.5,111.2 493.3,111.7 493.8,111.7 494.6,111.5 494,112.3 497.5,110 494.7,112.6 494.7,113 494.8,113.3 494.7,113.7 495,113.9 495,114.2 495.6,114.2 496.1,114.2 495.4,115.1 499.6,112.3 496.4,115.2 500,112.8 496.6,115.8 497.3,115.6 497,116.2 497.7,116.1 497.8,116.4 497.6,116.9 497.9,117.1 497.7,117.6 497.9,117.8 498.1,118.1 499.1,117.7 498.6,118.5 498.7,118.8 499.5,118.6 500.2,118.4 501.4,117.9 499.7,119.5 500.6,119.3 500.2,119.9 500.2,120.3 500.9,120.2 501.1,120.5 500.9,121 500.9,121.3 501,121.6 505.4,118.9 501.7,121.9 502.3,121.9 507.1,118.8 503.1,122.1 503.1,122.4 503.5,122.5 505.7,121.4 503.2,123.5 504,123.3 503.7,123.8 503.8,124.2 504.4,124.2 504.6,124.4 504.8,124.6 505.1,124.8 504.7,125.4 505.3,125.4 504.8,126.1 505.6,126 L503.4,127.4 A243.5,243.5 0 0 0 484.9,103.6Z M506,131.3 L507.9,130 507.6,130.6 507.9,130.8 508.4,130.8 508.2,131.3 508.2,131.7 508.4,132 508.3,132.3 508.2,132.8 509.2,132.5 508.5,133.3 509,133.4 508.8,133.9 509.3,133.9 509.2,134.3 509.7,134.3 510.1,134.5 509.8,135 511.4,134.4 510.6,135.2 510.7,135.5 510.1,136.3 510.1,136.6 510.6,136.7 514.8,134.5 511.8,136.6 512.4,136.7 513.3,136.5 513.2,136.9 513.4,137.1 513.3,137.6 513.2,138 513.4,138.2 515.2,137.5 513.7,138.8 514.4,138.7 513.5,139.6 516.4,138.2 513.7,140.2 514.8,139.9 515.2,140 515.5,140.2 514.9,140.9 515.3,141 515.3,141.4 515.8,141.5 515.9,141.7 516.1,142 516.5,142.1 516.4,142.5 516.2,143 517.4,142.6 517,143.2 517.2,143.4 516.9,144 516.8,144.4 517.5,144.4 517.6,144.7 521,143.1 518,145.1 518,145.5 518.4,145.6 518,146.2 518,146.5 518,146.9 518,147.2 518.5,147.3 518.4,147.7 523.4,145.4 519.5,147.8 519.1,148.4 519.6,148.4 519.4,148.9 519.6,149.2 519.2,149.7 525.4,146.8 522.3,148.8 520.7,149.9 520.5,150.4 520.9,150.6 520.8,150.9 520.8,151.3 521.1,151.5 520.7,152 520.6,152.4 520.4,152.9 521.3,152.7 521.4,153 521.2,153.5 525.5,151.7 521.4,154.1 521,154.7 521.9,154.5 522.6,154.5 522.7,154.8 522.8,155.1 523,155.4 523.4,155.5 523.1,156 523.5,156.1 522.1,157.2 522,157.5 521.8,158 522,158.2 522.1,158.5 522.6,158.6 L521.6,159.1 A243.5,243.5 0 0 0 506,131.3Z M523,162.2 L526.9,160.4 525.1,161.6 525.6,161.7 525.4,162.1 525.6,162.4 526,162.5 526.4,162.7 529,161.8 525.9,163.6 526,163.9 526.5,164 526.4,164.3 525.9,164.9 526.3,165.1 526.7,165.2 526.7,165.6 527.5,165.6 527.6,165.9 528.2,165.9 528,166.4 528.1,166.6 528.8,166.7 528.5,167.2 528.4,167.5 528.8,167.7 529.3,167.8 528.5,168.5 529.3,168.5 529.2,168.9 529.2,169.2 529.9,169.3 529.7,169.7 529.9,169.9 529.3,170.5 532.7,169.4 529.3,171.2 529.5,171.4 530.2,171.5 529.8,172 530.6,172 530.6,172.3 533.1,171.6 531,172.8 530.5,173.4 530.5,173.7 530.8,173.9 535.3,172.5 531.5,174.3 535.4,173.1 531.7,174.9 531.8,175.2 533.9,174.7 531.9,175.8 532.3,176 532.5,176.2 532.1,176.7 532.4,176.9 531.9,177.4 532.6,177.5 532.2,178 532.8,178.1 537.7,176.6 535.6,177.7 533.2,179 532.9,179.4 532.5,179.9 532.8,180.1 532.7,180.5 531.8,181.1 537.9,179.2 533,181.3 532,182 532.5,182.2 532.8,182.4 532.6,182.8 532.6,183.1 L531.7,183.4 A243.5,243.5 0 0 0 523,162.2Z M532.8,186.6 L534.7,186 538.9,184.9 533.9,186.9 534.2,187.1 534.9,187.2 535.1,187.5 536.1,187.5 534.9,188.2 535.1,188.5 537,188.2 535.9,188.9 535.9,189.2 536.8,189.2 536.7,189.6 537.2,189.7 537.1,190.1 537.3,190.4 539.9,189.9 537.3,191 536.4,191.6 536.7,191.8 537.6,191.9 539.7,191.6 538.1,192.4 537.7,192.8 538.2,193 537.8,193.4 539.9,193.1 538.2,194 538.4,194.2 537.4,194.8 537.5,195.1 538.2,195.3 538.6,195.5 538.2,195.9 538,196.3 538.3,196.5 538.6,196.8 539.4,196.9 539.3,197.2 538.8,197.7 539,198 538.9,198.3 538.7,198.7 539.9,198.7 539.4,199.1 539.6,199.4 539,199.9 539,200.2 538.8,200.6 538.9,200.9 539,201.1 539.4,201.4 539.3,201.7 542.8,201.1 539.9,202.2 540,202.5 539.9,202.8 540.8,202.9 541.1,203.2 541.3,203.4 543,203.3 541.4,204 541.1,204.4 540.8,204.8 540.8,205.1 540.4,205.6 541.3,205.7 540.3,206.2 540.9,206.4 541.6,206.6 541.6,206.9 543.6,206.7 541.4,207.6 541.6,207.8 541.9,208.1 542.4,208.3 548.1,207.3 542.1,209 542.2,209.3 L539.4,209.9 A243.5,243.5 0 0 0 532.8,186.6Z M540.4,214.9 L542,214.6 542,214.9 542.3,215.2 543,215.3 542.9,215.7 543.9,215.8 543,216.3 543.9,216.4 544.2,216.7 544.4,216.9 543.9,217.4 543.6,217.7 543.7,218 543.7,218.3 544.1,218.6 544.3,218.8 544.3,219.2 544.3,219.5 548.6,219 544.3,220.1 543.3,220.6 543.3,220.9 543.4,221.2 543.5,221.5 543.8,221.7 544.3,222 543.8,222.4 544,222.7 544.1,222.9 543.8,223.3 543.9,223.6 544.9,223.7 546.6,223.8 545,224.4 544.3,224.8 545.6,224.9 545.2,225.3 545.1,225.6 545.5,225.8 545.2,226.2 545.3,226.5 545.3,226.8 545.8,227 545.5,227.4 545.2,227.7 544.9,228.1 544.5,228.5 544.1,228.8 544.9,229 544.1,229.4 550.1,228.9 544.8,230 545.3,230.2 545.9,230.4 549,230.3 544.6,231.2 544.9,231.5 544.7,231.8 545,232.1 544.7,232.4 544.3,232.8 544.2,233.1 544.6,233.4 544.8,233.7 544.9,234 545,234.3 544.9,234.6 545.3,234.8 544.9,235.2 544.9,235.5 546.1,235.7 545.6,236 545.7,236.3 545.6,236.7 546.2,236.9 551,236.7 546,237.5 550.9,237.3 546,238.2 545.9,238.5 545.7,238.8 545.7,239.1 L544.2,239.3 A243.5,243.5 0 0 0 540.4,214.9Z M544.6,243.5 L546.4,243.3 546.3,243.7 546.2,244 545.4,244.4 546.2,244.6 546,244.9 545.9,245.2 546.5,245.5 546.5,245.8 546.3,246.1 546.6,246.4 546.4,246.7 545.7,247.1 546.1,247.4 546.4,247.7 546.2,248 546.4,248.3 546.2,248.6 546.5,248.9 546.6,249.2 546.2,249.5 546,249.8 545.9,250.2 546,250.5 546.3,250.8 552.4,250.7 546.5,251.4 546.5,251.7 547,251.9 547,252.3 546.8,252.6 547,252.9 547.8,253.1 547.7,253.5 546.9,253.8 547.1,254.1 546.5,254.4 546.5,254.7 546.1,255.1 546.9,255.3 552.1,255.5 546.4,256 547.3,256.2 547.9,256.5 547,256.9 546.6,257.2 547.3,257.5 547,257.8 548.1,258.1 547.9,258.4 548.6,258.7 548.6,259 548.4,259.3 548.6,259.6 548.6,259.9 548.4,260.2 548.6,260.5 548.1,260.9 547.1,261.2 548.2,261.5 547.6,261.8 547.4,262.1 547.2,262.4 547.1,262.7 547.5,263 L545.5,263 A243.5,243.5 0 0 0 544.6,243.5Z M545.5,267.7 L548.1,267.7 547,268 547.3,268.3 546.4,268.6 547.1,269 546.9,269.3 547.7,269.6 547.5,269.9 547.4,270.2 547.9,270.5 548.1,270.8 547.7,271.1 548.5,271.5 548,271.7 548.1,272.1 547.4,272.3 547.2,272.6 547.2,273 547.4,273.3 547.2,273.6 547.2,273.9 547.1,274.2 547.5,274.5 548.3,274.9 547.7,275.1 548.3,275.5 548.2,275.8 548.3,276.1 547.7,276.4 548.2,276.7 547.6,277 548.1,277.3 547.3,277.6 547.1,277.9 549.9,278.3 546.3,278.5 546.8,278.8 546.2,279.1 546.5,279.4 545.9,279.7 546.3,280 546.2,280.3 550.1,280.9 547.3,281 546.9,281.3 546.3,281.5 546.8,281.9 546.7,282.2 547,282.5 546.7,282.8 546.2,283.1 546.3,283.4 547,283.7 546.3,284 546.7,284.3 547,284.7 548.8,285.1 546.1,285.2 548.2,285.7 546.9,285.9 545.7,286.1 550.7,286.9 546.8,286.8 548.5,287.3 546.6,287.4 L544.4,287.2 A243.5,243.5 0 0 0 545.5,267.7Z M544,291 L545.6,291.2 546.7,291.6 546.9,292 546.9,292.3 547.1,292.6 546.8,292.9 546.8,293.2 546.3,293.4 546.4,293.8 546.7,294.1 546.7,294.4 547,294.8 546.7,295 546.9,295.4 549.5,296 546.7,296 545.3,296.1 545.8,296.5 545.5,296.7 548.2,297.4 545.2,297.3 545.6,297.7 545.5,298 545.3,298.3 545.3,298.6 545.4,298.9 544.5,299.1 544.2,299.3 544.7,299.7 544.4,300 543.8,300.2 543.8,300.5 543.8,300.8 543.7,301.1 544.3,301.5 544,301.8 543.9,302.1 543.9,302.4 544.1,302.7 543.2,302.9 543.6,303.3 543.5,303.6 547.2,304.5 549.3,305.1 543.3,304.5 546.8,305.4 544.1,305.2 543.7,305.5 543.8,305.8 544,306.1 544.3,306.5 544.2,306.8 543.8,307 545.3,307.6 544.1,307.7 543.3,307.9 542.5,308 542.8,308.4 542.6,308.7 542.5,309 543.3,309.4 543.5,309.8 543.4,310.1 543.5,310.4 543.2,310.7 543,311 545,311.6 543.6,311.7 543.3,311.9 543.2,312.2 543.4,312.6 543.3,312.9 543.1,313.2 542.8,313.4 545.8,314.3 543.1,314.1 543.1,314.4 543.1,314.7 543,315 542.9,315.3 542.9,315.6 542.1,315.8 L540.1,315.3 A243.5,243.5 0 0 0 544,291Z M538.9,320.7 L547.3,322.7 540.9,321.5 541.8,322.1 541.2,322.2 541.3,322.6 541.4,322.9 541.2,323.2 546.4,324.8 540.8,323.8 540.9,324.1 540.3,324.3 540,324.5 539.9,324.8 539.3,325 538.7,325.1 538.9,325.5 538.9,325.8 538.4,326 538.7,326.4 538.8,326.8 538.9,327.1 538.1,327.2 538.5,327.6 538.6,328 538.6,328.3 538.3,328.6 538.5,328.9 538.1,329.1 539.1,329.7 538.9,330 539.1,330.4 539.6,330.8 539.3,331.1 538.5,331.2 538.2,331.4 538.3,331.8 539.1,332.3 538.6,332.5 538.5,332.8 538.6,333.1 538.5,333.5 537.7,333.5 538.1,334 538.2,334.3 539.1,334.9 537.8,334.9 537.1,335 537.1,335.3 536.8,335.5 537.4,336 537.3,336.3 537.8,336.8 537.5,337.1 537.4,337.3 536.4,337.3 537.3,338 536.9,338.2 537,338.5 541.6,340.3 L534.1,337.9 A243.5,243.5 0 0 0 538.9,320.7Z M532.6,342.4 L534.4,343 534.9,343.5 534.3,343.6 534.6,344 534.3,344.2 534.1,344.5 534.4,344.9 533.5,344.9 534.4,345.6 534,345.8 536,346.8 533.5,346.2 536.9,347.8 532.5,346.5 533,347 533,347.4 532.5,347.5 532.3,347.8 531.9,347.9 532.1,348.3 531.7,348.5 531.6,348.8 531.1,349 531.6,349.5 531.6,349.8 531.6,350.1 532,350.6 532.4,351.1 532.3,351.3 532.5,351.7 532,351.9 531.9,352.2 532.4,352.7 531.5,352.7 530.9,352.8 531.7,353.4 536.7,355.7 537,356.2 531.8,354.5 530.6,354.3 531.2,354.9 530.6,355 529.8,355 529.9,355.4 533.9,357.3 529.1,355.7 529.5,356.2 529.3,356.5 533.3,358.4 528.7,356.9 528.6,357.2 534.5,359.9 531.5,359 529.2,358.4 528.8,358.6 528.2,358.6 528.4,359.1 528.6,359.5 528.2,359.7 527.9,359.8 532.1,362 L526.1,359.4 A243.5,243.5 0 0 0 532.6,342.4Z M524.4,363.3 L526.3,364.2 525.6,364.2 525.1,364.3 525.4,364.8 525.3,365.1 525.2,365.4 524.8,365.5 524.4,365.7 524.6,366.1 524.4,366.4 524.4,366.7 524.8,367.2 524.2,367.3 526.6,368.8 524.4,368.1 523.9,368.2 526.7,369.8 523.4,368.6 523.6,369 523.1,369.2 522.9,369.4 523,369.8 523.2,370.3 522.6,370.3 522.6,370.6 523.2,371.3 522.6,371.3 527,373.8 522.5,372 522.1,372.1 522.6,372.7 522.6,373.1 522.1,373.1 521.7,373.3 522,373.8 527.4,376.9 521.9,374.4 522.7,375.2 522.2,375.3 522.3,375.7 521.6,375.7 521.6,376.1 521.5,376.4 521.1,376.5 520.9,376.7 521,377.1 521.2,377.6 521.2,377.9 521.1,378.2 520.4,378.2 520.3,378.5 520.7,379.1 519.9,379 519.9,379.4 519.9,379.7 519.1,379.7 519.1,380 518.5,380 521.1,381.8 L516.6,379.4 A243.5,243.5 0 0 0 524.4,363.3Z M514.6,383.1 L520.1,386.2 519.9,386.5 516.5,384.9 516.5,385.2 516.2,385.4 515.6,385.4 518.3,387.3 521.6,389.6 517.6,387.6 516.2,387.2 515.3,387.1 518.7,389.4 514.2,387.1 513.9,387.3 513.8,387.6 513.8,387.9 514.5,388.7 513.5,388.5 513.7,389 513.1,389 513.2,389.4 513.5,389.9 516.5,392.1 513.5,390.7 512.8,390.6 512.7,390.9 512.3,391 512.3,391.4 513.9,392.7 511.7,391.7 511.4,391.9 511.5,392.3 511.1,392.5 510.4,392.4 510.6,392.9 510.8,393.4 511.3,394 513.5,395.7 511.3,394.8 511,394.9 511.1,395.4 510.6,395.4 510.8,395.9 510.5,396.1 509.8,396 509.2,396 509.2,396.4 509.5,396.9 509,397 509.2,397.4 508.7,397.5 508,397.4 508.1,397.8 507.5,397.8 506.8,397.7 507.1,398.3 506.8,398.5 506.1,398.4 L505.5,398 A243.5,243.5 0 0 0 514.6,383.1Z M502.9,401.9 L504.3,402.8 504.3,403.2 503.8,403.2 504,403.7 502.9,403.4 503.1,403.8 505.8,406.1 502.5,404.2 502.6,404.6 502.5,404.9 502.6,405.4 502.1,405.4 502.1,405.8 501.3,405.5 501.5,406.1 501.4,406.4 501,406.5 500.7,406.7 500.4,406.8 500.8,407.5 500.8,407.8 500.5,408 500.2,408.2 501.3,409.3 500.1,408.8 500.4,409.4 500.2,409.7 500,409.9 499.3,409.8 499.1,410 498.8,410.1 498.8,410.5 503.7,414.6 498,410.7 502.7,414.6 499.4,412.5 498.3,412.1 498,412.2 497.8,412.5 497.9,412.9 497.2,412.8 499.2,414.7 496.4,412.9 496.2,413.1 496.3,413.6 497.1,414.6 495.9,414.1 495.2,413.9 495.3,414.4 495.2,414.7 495.7,415.5 495.5,415.7 495.2,415.9 494.1,415.4 494.7,416.2 498.2,419.4 494.2,416.6 L492.8,415.5 A243.5,243.5 0 0 0 502.9,401.9Z M490.2,418.9 L491.7,420.1 492.2,420.9 491.9,421.1 491.8,421.4 492,421.9 491.7,422.1 491.1,422 490.1,421.6 491,422.7 490.4,422.7 490.7,423.3 489.6,422.8 489.7,423.3 489.4,423.4 489,423.5 489.2,424 489.1,424.3 488.5,424.3 488.2,424.4 487.7,424.4 487.4,424.5 487.2,424.7 487.3,425.3 487.3,425.7 486.5,425.3 485.9,425.3 485.9,425.6 486,426.1 485.8,426.4 485.2,426.3 484.9,426.4 485.2,427.1 485.2,427.4 484.8,427.6 485,428.2 484.9,428.5 486.6,430.4 484.2,428.6 484.4,429.2 484.5,429.7 485.9,431.5 483.4,429.6 483.9,430.4 483.2,430.2 482.6,430.1 482.5,430.5 482.8,431.2 482.6,431.4 482.1,431.4 482.4,432 482.6,432.6 482.4,432.8 482,432.9 481.5,432.9 481.3,433.1 480.7,432.9 481.4,434 480.5,433.6 480.2,433.8 479.9,433.9 479.5,434 L478,432.5 A243.5,243.5 0 0 0 490.2,418.9Z M475.1,435.6 L476.7,437.2 476.7,437.6 476.3,437.6 476,437.7 475.6,437.8 475.2,437.8 474.6,437.7 474.4,437.9 474.4,438.3 474.1,438.5 473.6,438.4 474.1,439.3 473.8,439.5 473.3,439.4 473.6,440.2 472.9,439.8 472.5,439.9 472.3,440.1 472.3,440.6 472,440.6 471.7,440.8 471.8,441.4 471.2,441.2 472.3,442.8 470.5,441.3 470.4,441.7 471.3,443.1 469.8,441.9 469.7,442.3 469.7,442.7 469.2,442.6 469.2,443.1 468.7,442.9 471.1,446 469.1,444.3 468.9,444.5 468.6,444.7 469.1,445.7 468.7,445.7 468.5,445.9 467.4,445.2 467.2,445.4 467.3,446 467.3,446.5 467.1,446.7 466.5,446.4 466.1,446.5 465.7,446.5 465.1,446.2 465,446.6 464.5,446.5 464.6,447.1 464.4,447.3 464.9,448.4 465,448.9 464.6,449 464.1,448.9 L462.7,447.2 A243.5,243.5 0 0 0 475.1,435.6Z M459.3,450.1 L460.7,451.8 460.7,452.3 459.9,451.8 460.6,453.1 460.1,453 460.3,453.7 459.7,453.4 459.4,453.6 461.8,457 459.1,454.2 458.8,454.4 458.5,454.5 459.3,456 457.9,454.8 457.8,455 457.3,455 458.4,456.9 459.5,458.7 457,456.1 456.3,455.8 457,457.1 455.3,455.5 455.3,456 454.9,456 454.9,456.5 458.8,461.9 454.7,457.2 455.6,458.9 454.3,457.7 454.2,458.1 453.6,457.9 454,458.9 453.5,458.7 453,458.7 452.5,458.4 452.2,458.6 451.8,458.5 451.7,458.9 451.6,459.3 451.4,459.6 451,459.6 453.4,463.2 450.9,460.5 450.7,460.8 449.9,460.2 449.6,460.3 449.6,460.8 449,460.5 448.6,460.5 447.9,460.1 447.9,460.7 447.9,461.2 447.4,461 447.4,461.5 L446.5,460.3 A243.5,243.5 0 0 0 459.3,450.1Z M443.1,462.8 L444.6,465 444.2,464.9 444.3,465.6 445.1,467.3 443.6,465.6 446.1,469.8 443.1,466.1 442.9,466.3 442.8,466.7 442.3,466.5 442.5,467.3 442.1,467.3 441.5,467 441.5,467.4 440.5,466.6 440.5,467.1 440.2,467.3 440.2,467.8 439.7,467.5 439.4,467.6 438.9,467.5 442,472.7 439,468.7 438.2,468.1 438.5,469 438.3,469.4 438.1,469.6 437.5,469.2 437.4,469.6 436.6,469.1 436.6,469.6 436.7,470.2 436.6,470.7 436.3,470.7 436.1,471 437.6,474 435.5,471.3 435.6,472 434.9,471.4 436.3,474.3 434.4,471.8 434.4,472.4 433.5,471.5 433,471.4 432.6,471.3 432.5,471.7 432.4,472.1 432.4,472.6 433.6,475.2 432.1,473.4 L430.7,471 A243.5,243.5 0 0 0 443.1,462.8Z M427.4,473 L428.4,474.7 431.2,480 427.9,475.1 427.8,475.5 427.2,475.1 427.2,475.7 426.4,475 426.2,475.1 426,475.4 425.6,475.4 425.1,475.2 425.2,475.9 425.3,476.6 424.8,476.4 426.8,480.5 423.8,475.9 424.1,477 423.8,477.1 423.5,477.3 423.1,477.1 422.7,477 422.4,477.2 422,477 421.9,477.5 422.1,478.6 421.8,478.6 421.5,478.6 421.1,478.7 421.2,479.5 421,479.8 422.1,482.3 420.2,479.6 420.1,480 419.4,479.4 419.3,479.8 419,479.8 418.8,480.1 418.8,480.9 418.4,480.8 418.3,481.3 417.6,480.6 417.7,481.4 417.6,481.9 417.1,481.6 417,482 416.6,482 417.4,484.2 L415.2,479.9 A243.5,243.5 0 0 0 427.4,473Z M412.2,481.5 L413.6,484.2 413,483.7 412.7,483.9 412.4,483.9 412.4,484.6 412,484.5 411.8,484.8 411.4,484.7 411.3,485.2 411.1,485.5 410.5,485 410.5,485.7 410.1,485.6 409.7,485.4 409.9,486.4 409.4,486.3 409,486.1 408.6,486 408,485.4 408.1,486.3 407.6,485.9 407.4,486.2 407,486.2 406.9,486.6 406.4,486.3 405.9,486 405.9,486.6 405.5,486.6 407.4,491.3 405.5,488 405.3,488.3 404.8,487.9 404.5,488.1 404.3,488.4 403.5,487.4 405.7,492.8 403.3,488.4 402.9,488.2 402.7,488.6 402.4,488.6 403,490.8 401.5,488.1 401.2,488.1 400.9,488.3 400.6,488.4 400.7,489.2 400.6,489.7 400.1,489.6 399.9,489.9 401.9,495.2 L398.7,487.8 A243.5,243.5 0 0 0 412.2,481.5Z M395.6,489.1 L396.1,490.4 396,490.8 395.7,490.9 395.3,490.9 394.9,490.6 394.6,490.9 394.3,490.8 394.1,491.1 393.8,491.1 393.4,491 393.2,491.4 392.9,491.5 392.5,491.3 392.4,492 391.9,491.4 391.8,492 391.7,492.5 391.6,493.2 391,492.6 390.9,493.1 392.2,497.2 390.4,493.7 390,493.4 389.6,493.2 389.3,493.2 388.8,492.7 388.4,492.7 388.4,493.5 388.2,493.7 387.7,493.4 387.5,493.7 387.2,493.8 386.8,493.7 386.7,494.3 386.5,494.5 386.3,494.8 386,494.9 387.8,500.7 385.3,494.9 385.3,495.7 385,495.9 385,496.7 384.5,496.3 384.2,496.5 384.1,497 383.8,497.2 383.3,496.7 383.2,497.2 383,497.6 382.3,496.6 381.9,496.3 L381.3,494.5 A243.5,243.5 0 0 0 395.6,489.1Z M378.1,495.6 L378.8,497.8 378.3,497.2 378,497.5 377.6,497.2 377.5,497.8 377,497.4 376.7,497.3 376.5,497.7 376.1,497.5 375.7,497.1 375.7,498.1 375.6,498.9 375.2,498.7 375.1,499.3 374.8,499.5 374.5,499.5 374.1,499.4 373.9,499.5 373.6,499.8 373.3,499.8 372.8,499.2 372.7,499.9 372.5,500.4 372,499.9 371.9,500.6 371.7,500.9 371.3,500.5 371.7,503.2 370.8,501 371.3,503.8 370.2,501.2 370,501.6 369.4,500.8 370.5,505.5 368.6,500.2 368.1,499.4 368.8,502.9 367.7,500.4 367.4,500.3 368.4,505.1 367.2,501.9 366.5,500.7 366.3,500.9 L365.8,499.3 A243.5,243.5 0 0 0 378.1,495.6Z M363,500 L363.6,502.4 363.3,502.7 362.9,502.2 362.8,503.1 362.2,502.1 361.9,502.3 363,508 361.4,502.7 361.1,502.8 360.8,503.1 360.5,502.9 360.1,502.7 359.5,501.7 360.8,508.1 360,506.3 358.9,503.1 358.5,502.5 358.3,503.2 357.9,502.7 357.8,504 357.5,504.1 357.3,504.5 356.9,504.2 356.7,504.5 357.2,508.5 355.9,504 355.7,504.6 355.4,504.7 355.2,505 354.7,504.4 354.4,504.3 354,503.9 353.6,503.7 353.3,503.6 353,503.9 352.8,504.5 352.3,503.6 352.2,504.4 L351.8,502.7 A243.5,243.5 0 0 0 363,500Z M348.5,503.3 L348.8,505.1 348.4,504.7 348.2,505 347.9,505.1 347.6,505.3 347.2,504.9 346.9,505 346.5,504.5 346.2,504.5 345.9,504.5 345.7,505.5 345.3,505.1 345.1,505.5 344.8,505.7 344.4,504.9 344.1,505.3 344.1,507 343.7,506.5 343.4,506.5 343.3,507.6 342.9,507.7 342.6,507.3 342.3,507.4 342,507.6 341.7,507.9 341.3,507.4 341,507.5 340.8,507.8 340.5,508.2 341.1,513.8 339.8,507.7 339.3,506.9 339,507 338.7,506.8 338.5,507.7 338.2,507.7 337.8,507.3 337.5,507 337.3,507.8 336.9,507 336.7,508.2 L336.3,505.4 A243.5,243.5 0 0 0 348.5,503.3Z M332.5,505.9 L332.7,507.7 332.4,507.2 332.1,507.6 331.9,508.3 331.6,508 331.3,508.5 331,508.5 330.7,508.4 330.6,510.5 330,507.6 329.7,507.7 330,513.1 329.1,507.9 328.7,507.1 328.7,510.3 328.1,507.3 327.8,507.4 327.5,507.6 327.2,507.3 326.9,507.5 326.9,510.9 326.3,507.8 326,508 325.7,507.7 325.4,507.7 325.1,508.2 324.8,508.2 324.5,508.7 324.3,509 324.3,512.7 323.7,509.4 323.4,509.5 323.1,510 322.7,509.2 322.9,514.5 322.2,510 321.8,509.1 321.5,508.8 321.2,509.6 320.9,509.2 320.6,509 320.3,509.2 320,509.5 319.7,509.6 319.3,508.9 319,508.7 318.8,509.7 318.4,509.6 318.4,513.4 317.9,509.9 317.5,509.9 317.2,510 316.9,509.9 316.6,510.1 316.4,510.9 316,510.4 315.7,510.3 315.4,510.9 315.1,510 314.8,510.1 314.5,510.8 314.5,516.6 313.8,509.6 313.6,510.5 313.3,510.9 312.9,510.2 312.6,510.3 312.5,513.8 312,510.2 311.7,509.9 311.4,508.9 311,509 310.7,509.1 310.4,508.8 310.1,509 309.8,508.5 309.5,508.4 309.2,509.6 308.9,508.8 308.6,509.9 308.4,513.6 308,510.1 307.7,509.6 307.4,511.9 307.1,511.4 306.8,512.7 306.5,509.8 306.2,510.3 305.9,510.9 305.6,510.8 305.3,510.5 305,510.9 304.6,510.6 304.3,510.3 304,510.5 303.7,511 L303.7,507.8 A243.5,243.5 0 0 0 332.5,505.9Z" fill="#2a6a48" fill-opacity="0.45" stroke="#1a5636" stroke-width="0.45"/>
<g stroke="#fff" stroke-width="1.3" stroke-linejoin="round"><path d="M273.1,93.7 A173,173 0 0 1 298.1,91.3 C299,131.4 300.2,165.6 301,164.6 C301.9,165.6 302.5,131.4 302.6,91.3 A173,173 0 0 1 328.8,93.4 C322.7,133.2 312.2,166.8 301.4,165.9 C290.7,167 279.7,133.4 273.1,93.7 Z" fill="#8c2c0e"/><path d="M247.2,100.2 A173,173 0 0 1 268.5,94.6 C276.2,134.1 288.6,167.4 300.7,166.3 C312.7,167.1 324.3,133.5 330.9,93.7 A173,173 0 0 1 352.3,98.8 C340.8,137.7 321,170.1 300.7,169.4 C280.5,170.7 259.8,138.8 247.2,100.2 Z" fill="#1a8e9e"/><path d="M225.1,109.3 A173,173 0 0 1 242.3,101.9 C256,140.2 278.4,171.6 300.2,170.3 C322,170.8 343.2,138.5 355.5,99.8 A173,173 0 0 1 372.9,106.5 C356.4,144.2 328.6,174.7 300.3,174.4 C272,175.8 243,146.3 225.1,109.3 Z" fill="#248c4c"/><path d="M204.8,121.2 A173,173 0 0 1 222.9,110.4 C241.4,147.2 271.3,176.5 300.7,175.2 C330.1,175.6 359.1,145.5 376.5,108.2 A173,173 0 0 1 395,118.4 C372.8,153.9 337,181.6 300.8,181.4 C264.6,182.6 228,156.1 204.8,121.2 Z" fill="#80cc8e"/><path d="M187.9,134.2 A173,173 0 0 1 202.9,122.5 C226.6,157.1 264,183.4 301,182.3 C338.1,182.6 374.8,155.4 397.7,120.2 A173,173 0 0 1 413,131.6 C385.9,164.6 343.6,189 301.1,189 C258.6,190 215.8,166.6 187.9,134.2 Z" fill="#c41e2a"/><path d="M171.6,150.6 A173,173 0 0 1 185.6,136.3 C214.1,168.3 257.8,191.2 301.2,190.2 C344.5,190.2 387.7,166.3 415.5,133.7 A173,173 0 0 1 429.8,147.6 C397.6,177.4 349.5,198 301.2,198.2 C253,199.1 204.5,179.6 171.6,150.6 Z" fill="#ee1c24"/><path d="M157,170 A173,173 0 0 1 169.8,152.8 C203.2,181.3 252.4,200.3 301.3,199.5 C350.3,199.4 399.1,179.4 432,150.1 A173,173 0 0 1 445.1,167.1 C407.8,192.6 354.7,208.6 301.4,208.9 C248.2,209.7 194.8,194.7 157,170 Z" fill="#f07452"/><path d="M146.2,189.1 A173,173 0 0 1 157.3,169.4 C195.1,194.4 248.6,209.7 302.1,209.6 C355.6,209.8 409.1,194.7 446.9,169.8 A173,173 0 0 1 458,189.5 C415.9,209.8 359,220.4 302.1,220.2 C245.1,220.2 188.2,209.5 146.2,189.1 Z" fill="#d6409a"/><path d="M139.7,204.3 A173,173 0 0 1 146.1,189.3 C188.2,209.6 245.3,220.4 302.3,220.9 C359.4,221.3 416.6,211.4 459,191.7 A173,173 0 0 1 465.2,206.8 C420,222.7 361.1,229.2 302.3,228.8 C243.5,228.3 184.7,220.8 139.7,204.3 Z" fill="#ec64a8"/><path d="M134,223.2 A173,173 0 0 1 138.9,206.7 C184.2,222.6 243.2,229.5 302.3,230.1 C361.3,230.4 420.4,224.4 466,209.1 A173,173 0 0 1 470.6,225.7 C422.5,236.5 362.3,238.8 302.2,238.6 C242.1,237.9 181.9,234.7 134,223.2 Z" fill="#f07cb4"/><path d="M130.1,245.2 A173,173 0 0 1 132.9,227.9 C181.5,238.1 241.8,240.2 302.1,240.7 C362.4,240.7 422.7,239.1 471.4,229.2 A173,173 0 0 1 474.1,246.5 C423.3,251.4 362.7,249.3 302.1,249.4 C241.4,248.8 180.8,250.5 130.1,245.2 Z" fill="#983410"/><path d="M129,262.6 A173,173 0 0 1 129.7,248.8 C180.8,253 241.4,250.6 302,251 C362.6,250.8 423.3,253.6 474.4,249.5 A173,173 0 0 1 475,263.4 C422.6,263.3 362.3,257.6 302,257.8 C241.7,257.3 181.4,262.7 129,262.6 Z" fill="#e0521e"/><path d="M129.7,280.3 A173,173 0 0 1 129,266.4 C181.3,266.2 241.6,271.6 302,271.2 C362.3,271.7 422.7,266.4 475,266.7 A173,173 0 0 1 474.2,280.6 C423.2,276.1 362.6,278.4 302,278 C241.4,278.3 180.7,275.9 129.7,280.3 Z" fill="#e2d41e"/><path d="M132.8,300.3 A173,173 0 0 1 130,283 C180.7,277.8 241.4,279.7 302,279.4 C362.6,279.8 423.2,278 474,283.3 A173,173 0 0 1 471.2,300.6 C422.6,290.4 362.3,288.4 302,288.1 C241.7,288.3 181.4,290.2 132.8,300.3 Z" fill="#f6f08c"/><path d="M136.3,314.2 A173,173 0 0 1 133.1,301.9 C181.4,291.4 241.6,289.2 301.8,289.5 C362,290.1 422.2,293.1 470.3,304.4 A173,173 0 0 1 466.9,316.6 C420.7,302.1 361.2,296.4 301.8,295.8 C242.3,295.5 182.8,300.3 136.3,314.2 Z" fill="#dceea8"/><path d="M142.2,330.6 A173,173 0 0 1 137.7,318.5 C183.5,303.5 242.7,297.6 301.9,297.7 C361,298.1 420.2,304.4 465.9,319.8 A173,173 0 0 1 461.2,331.9 C417.7,313.4 359.8,304.4 301.8,304.1 C243.9,303.9 185.9,312.5 142.2,330.6 Z" fill="#a6dab2"/><path d="M149.3,345.7 A173,173 0 0 1 143.8,334.3 C186.8,315.2 244.4,305.7 301.9,305.8 C359.5,305.9 417.1,315.5 460,334.7 A173,173 0 0 1 454.5,346.1 C413.8,324.1 357.9,311.9 301.9,311.9 C246,311.7 190.1,323.9 149.3,345.7 Z" fill="#1f8a48"/><path d="M157.2,358.9 A173,173 0 0 1 150.8,348.3 C190.9,325.9 246.4,313.1 301.9,313.3 C357.4,313.3 412.9,326.2 453,348.7 A173,173 0 0 1 446.6,359.3 C408.9,334.3 355.4,319 301.9,319.1 C248.4,318.8 194.9,334 157.2,358.9 Z" fill="#4aa8c6"/><path d="M165,370 A173,173 0 0 1 158,360.2 C195.4,335 248.6,319.6 301.6,320.2 C354.7,320.3 407.6,336.4 444.7,362 A173,173 0 0 1 437.6,371.8 C402.9,344 352.3,325.6 301.6,325.6 C250.9,325 200,342.7 165,370 Z" fill="#2a70b2"/><path d="M174.6,381.3 A173,173 0 0 1 166.1,371.4 C200.8,343.8 251.2,325.8 301.4,326.7 C351.6,326.8 401.6,345.8 435.7,374.1 A173,173 0 0 1 427.1,383.8 C395.8,353.5 348.6,332.2 301.3,332.2 C254,331.3 206.5,351.6 174.6,381.3 Z" fill="#1ca8e2"/><path d="M184.2,391 A173,173 0 0 1 175.7,382.5 C207.2,352.6 254.3,332 301,333.1 C347.8,333.3 394.3,355.2 425,386 A173,173 0 0 1 416.2,394.3 C388.1,361.8 344.7,338 301,337.9 C257.2,336.7 213.2,359.3 184.2,391 Z" fill="#a6bece"/><path d="M195.1,400.3 A173,173 0 0 1 186.2,392.8 C214.6,360.8 257.9,337.8 300.8,339 C343.8,339.1 386.4,363.4 413.8,396.3 A173,173 0 0 1 404.7,403.5 C379.9,369.3 340.5,343.2 300.8,343.2 C261.1,342 220.9,366.8 195.1,400.3 Z" fill="#7e76b6"/><path d="M205.4,407.8 A173,173 0 0 1 196.8,401.6 C222.2,367.9 261.6,342.8 300.6,344.1 C339.6,344.2 378.1,370.7 402.2,405.3 A173,173 0 0 1 393.4,411.2 C371.7,375.5 336.3,347.5 300.5,347.6 C264.7,346.2 228.4,372.9 205.4,407.8 Z" fill="#a49cd0"/><path d="M216.3,414.6 A173,173 0 0 1 207.8,409.4 C230.2,374.2 265.6,347.1 300.5,348.5 C335.5,348.4 369.9,376.6 391.1,412.6 A173,173 0 0 1 382.4,417.5 C363.5,380.6 332.3,351.2 300.5,351.4 C268.7,350.1 236.5,378.4 216.3,414.6 Z" fill="#e8e6f2"/><path d="M226.8,420.1 A173,173 0 0 1 217.5,415.2 C237.3,379 269.1,350.5 300.2,351.9 C331.4,351.8 361.9,381.5 380.3,418.6 A173,173 0 0 1 370.7,423.1 C354.7,385.3 327.8,354.4 300.1,354.7 C272.6,353.3 244.4,383 226.8,420.1 Z" fill="#f4bcc8"/><path d="M237.2,424.7 A173,173 0 0 1 227.2,420.3 C244.7,383.2 272.5,353.5 299.6,355 C326.7,354.9 353,386 368.5,424 A173,173 0 0 1 358.3,427.9 C345.4,389.2 322.9,357.2 299.6,357.5 C276.3,356 252.2,386.8 237.2,424.7 Z" fill="#f0609a"/><path d="M248,428.6 A173,173 0 0 1 239.4,425.6 C253.9,387.5 277.1,356.5 299.5,358 C322,357.6 343.6,389.9 356,428.6 A173,173 0 0 1 347.4,431.2 C337,392 318.7,359.2 299.5,359.7 C280.4,358.2 260.4,390 248,428.6 Z" fill="#6c6c6c"/><path d="M258.2,431.7 A173,173 0 0 1 250.4,429.4 C262.2,390.7 281.3,358.6 299.6,360.1 C317.9,359.5 335.4,392.5 345.3,431.8 A173,173 0 0 1 337.4,433.6 C329.3,394.1 314.9,360.7 299.6,361.3 C284.3,359.9 268.2,392.5 258.2,431.7 Z" fill="#9c9c9c"/><path d="M269.4,434.2 A173,173 0 0 1 260.9,432.3 C270.3,393.1 285.4,360.3 299.7,361.6 C314,361 327.5,394.5 335,434.1 A173,173 0 0 1 326.4,435.6 C320.9,395.7 310.7,361.9 299.6,362.6 C288.7,361.3 276.8,394.6 269.4,434.2 Z" fill="#dcdcdc"/><path d="M292.6,437 A173,173 0 0 1 272.3,434.7 C279,395.1 289.8,361.6 299.7,362.9 C309.6,362.1 318.8,396 323.7,435.9 A173,173 0 0 1 303.2,437.3 C303,397.2 301.7,363 299.7,364 C297.6,362.9 294.8,397 292.6,437 Z" fill="#860a7e"/></g>
<g fill="none" stroke-width="0.5" stroke-opacity="0.4"><path d="M296.1,91.4 C298.9,186.2 303.9,186.2 305.3,91.3" stroke="#ac6751"/><path d="M276.2,93.2 C288.1,187.1 314,186.8 323.6,92.6" stroke="#ac6751"/><path d="M280.3,92.7 C290.3,186.9 311.9,186.6 319.8,92.2" stroke="#ac6751"/><path d="M296.1,91.4 C298.9,186.2 303.2,186.2 303.8,91.3" stroke="#ac6751"/><path d="M280.2,92.7 C290.2,186.9 312.7,186.7 321.3,92.4" stroke="#ac6751"/><path d="M287.3,91.9 C294,186.5 309.1,186.4 314.9,91.8" stroke="#ac6751"/><path d="M287.6,91.9 C294.3,186.5 307.5,186.3 311.6,91.6" stroke="#ac6751"/><path d="M287.7,91.9 C294.3,186.5 308.2,186.3 313.1,91.7" stroke="#ac6751"/><path d="M284.2,92.2 C292.4,186.6 310.9,186.5 318.1,92.1" stroke="#ac6751"/><path d="M294.3,91.5 C297.8,186.3 305.5,186.2 308.3,91.4" stroke="#ac6751"/><path d="M284.9,92.1 C292.8,186.6 309.8,186.4 315.9,91.9" stroke="#ac6751"/><path d="M297.8,91.4 C299.8,186.2 303.4,186.2 304.3,91.3" stroke="#ac6751"/><path d="M296.8,91.4 C299.4,186.2 302.9,186.2 303.3,91.3" stroke="#ac6751"/><path d="M274.3,93.5 C287,187.3 316.4,187.2 328.3,93.3" stroke="#ac6751"/><path d="M276.6,93.2 C288.3,187.1 314,186.8 323.6,92.6" stroke="#ac6751"/><path d="M261.2,96.2 C280,188.6 321.3,187.9 336.9,94.9" stroke="#5aadb9"/><path d="M248.2,99.9 C273.1,190.5 329,189.7 351.5,98.5" stroke="#5aadb9"/><path d="M265.5,95.2 C282.2,188.1 320.3,187.8 335.2,94.5" stroke="#5aadb9"/><path d="M254.4,98 C276.4,189.5 325.4,188.8 344.7,96.6" stroke="#5aadb9"/><path d="M265.7,95.2 C282.4,188.1 320,187.7 334.7,94.4" stroke="#5aadb9"/><path d="M252,98.7 C275,189.9 327.7,189.4 349.1,97.8" stroke="#5aadb9"/><path d="M259.3,96.7 C279,188.9 322.7,188.2 339.7,95.4" stroke="#5aadb9"/><path d="M248.1,99.9 C273,190.5 329.4,189.9 352.3,98.8" stroke="#5aadb9"/><path d="M257.1,97.2 C277.8,189.2 324,188.5 342,96" stroke="#5aadb9"/><path d="M248.2,99.9 C273.1,190.5 328.3,189.5 350,98.1" stroke="#5aadb9"/><path d="M258.9,96.8 C278.8,188.9 323,188.3 340.1,95.6" stroke="#5aadb9"/><path d="M260.8,96.3 C279.8,188.7 322.4,188.2 339.1,95.3" stroke="#5aadb9"/><path d="M259.8,96.5 C279.3,188.8 322.9,188.3 340,95.5" stroke="#5aadb9"/><path d="M237.7,103.7 C267.7,192.4 333.5,191.1 360.1,101.3" stroke="#61ac7e"/><path d="M226,108.9 C261.7,194.9 339.8,193.5 372.3,106.2" stroke="#61ac7e"/><path d="M226.1,108.8 C261.8,194.9 339,193.1 370.8,105.6" stroke="#61ac7e"/><path d="M226.4,108.7 C261.9,194.8 339.5,193.4 371.8,106" stroke="#61ac7e"/><path d="M237.6,103.7 C267.6,192.4 333.7,191.2 360.4,101.5" stroke="#61ac7e"/><path d="M225.5,109.1 C261.4,195 340.1,193.6 372.9,106.5" stroke="#61ac7e"/><path d="M232.1,106.1 C264.7,193.5 336.8,192.3 366.5,103.8" stroke="#61ac7e"/><path d="M239.2,103.1 C268.4,192.1 333.1,191 359.3,101.1" stroke="#61ac7e"/><path d="M241.4,102.3 C269.6,191.7 331.4,190.4 355.8,99.9" stroke="#61ac7e"/><path d="M229,107.5 C263.2,194.2 338.2,192.8 369.2,104.9" stroke="#61ac7e"/><path d="M235,104.8 C266.2,192.9 335.4,191.8 363.8,102.7" stroke="#61ac7e"/><path d="M221.1,111.4 C259.2,196.1 343.3,195.1 379.4,109.6" stroke="#a3daad"/><path d="M217,113.6 C257.2,197.2 344.8,195.9 382.5,111.2" stroke="#a3daad"/><path d="M219.9,112 C258.6,196.4 343.9,195.5 380.8,110.3" stroke="#a3daad"/><path d="M207.2,119.6 C252.5,200 349.5,198.5 392.3,116.7" stroke="#a3daad"/><path d="M209.2,118.3 C253.4,199.4 349,198.2 391.1,116" stroke="#a3daad"/><path d="M210.4,117.6 C254,199.1 347.7,197.4 388.4,114.4" stroke="#a3daad"/><path d="M214.3,115.2 C255.8,197.9 346.6,196.9 386.3,113.2" stroke="#a3daad"/><path d="M216.3,114 C256.8,197.3 345.6,196.3 384.2,112.1" stroke="#a3daad"/><path d="M204.8,121.2 C251.3,200.8 350.8,199.3 395,118.4" stroke="#a3daad"/><path d="M211.6,116.8 C254.6,198.7 347.5,197.3 388,114.2" stroke="#a3daad"/><path d="M209,118.4 C253.3,199.5 349.2,198.4 391.7,116.4" stroke="#a3daad"/><path d="M219.6,112.2 C258.4,196.5 344.1,195.5 381,110.4" stroke="#a3daad"/><path d="M214.1,115.3 C255.8,198 345.8,196.4 384.5,112.2" stroke="#a3daad"/><path d="M193.1,129.9 C246,204.9 356.4,203.4 407.4,127.1" stroke="#d45d65"/><path d="M191.9,130.9 C245.5,205.3 356.9,203.8 408.6,128" stroke="#d45d65"/><path d="M189,133.3 C244.2,206.4 357.9,204.6 410.8,129.8" stroke="#d45d65"/><path d="M202,123.1 C250,201.7 352.1,200.2 397.7,120.2" stroke="#d45d65"/><path d="M197.9,126.1 C248.2,203.1 354.4,201.9 402.9,123.8" stroke="#d45d65"/><path d="M197,126.8 C247.8,203.4 354.4,201.9 402.9,123.8" stroke="#d45d65"/><path d="M201.2,123.7 C249.6,202 352.9,200.7 399.5,121.4" stroke="#d45d65"/><path d="M192.8,130.2 C245.9,204.9 357,203.9 408.8,128.2" stroke="#d45d65"/><path d="M192.2,130.6 C245.6,205.2 356.8,203.7 408.2,127.7" stroke="#d45d65"/><path d="M189.2,133.2 C244.3,206.3 358.2,204.9 411.5,130.3" stroke="#d45d65"/><path d="M188.6,133.6 C244.1,206.6 358.2,204.9 411.6,130.4" stroke="#d45d65"/><path d="M191.1,131.5 C245.2,205.6 357.5,204.3 409.8,129" stroke="#d45d65"/><path d="M183.5,138.3 C241.9,208.7 360.5,207.1 417,135.1" stroke="#f25b61"/><path d="M173.2,148.8 C237.9,213.4 364.8,211.8 427.8,145.5" stroke="#f25b61"/><path d="M176.8,144.9 C239.3,211.7 363.1,209.7 423.4,141" stroke="#f25b61"/><path d="M174.7,147.1 C238.5,212.7 364.2,211.1 426.3,144" stroke="#f25b61"/><path d="M178,143.7 C239.7,211.1 363,209.7 423.2,140.9" stroke="#f25b61"/><path d="M180.3,141.3 C240.7,210.1 362.2,208.8 421.1,138.8" stroke="#f25b61"/><path d="M182.4,139.3 C241.5,209.2 361.1,207.7 418.5,136.4" stroke="#f25b61"/><path d="M175,146.8 C238.6,212.5 364.5,211.4 426.9,144.6" stroke="#f25b61"/><path d="M180.5,141.1 C240.7,210 362,208.5 420.5,138.3" stroke="#f25b61"/><path d="M173.8,148.2 C238.1,213.1 364.8,211.8 427.7,145.5" stroke="#f25b61"/><path d="M184.4,137.4 C242.3,208.3 360.5,207 416.9,135" stroke="#f25b61"/><path d="M175.6,146.2 C238.8,212.3 363.9,210.7 425.4,143.1" stroke="#f25b61"/><path d="M157.7,168.9 C232.8,222.1 370.5,220.9 444.7,166.4" stroke="#f49a82"/><path d="M168.6,154.1 C236.3,215.7 367.1,215 434.2,152.7" stroke="#f49a82"/><path d="M158.6,167.5 C233,221.5 370.2,220.3 443.7,165.1" stroke="#f49a82"/><path d="M159.6,166 C233.4,220.8 370.1,220.1 443.3,164.5" stroke="#f49a82"/><path d="M163.3,160.9 C234.4,218.7 368.5,217.2 438.4,157.9" stroke="#f49a82"/><path d="M157.3,169.5 C232.6,222.4 370.4,220.7 444.4,166" stroke="#f49a82"/><path d="M163.7,160.3 C234.6,218.4 368.4,216.9 437.9,157.2" stroke="#f49a82"/><path d="M159.9,165.7 C233.4,220.7 369.6,219.2 441.9,162.5" stroke="#f49a82"/><path d="M169.8,152.8 C236.7,215.1 366.3,213.8 432,150.1" stroke="#f49a82"/><path d="M161.5,163.4 C233.9,219.7 369.6,219 441.4,161.9" stroke="#f49a82"/><path d="M161.4,163.6 C233.8,219.8 369,218.1 440.1,160" stroke="#f49a82"/><path d="M162,162.7 C234,219.5 368.9,217.9 439.7,159.6" stroke="#f49a82"/><path d="M165.5,158.1 C235.2,217.4 367.9,216.2 436.5,155.5" stroke="#f49a82"/><path d="M148.4,184.7 C230.6,228.6 373.3,228.4 455.4,184.3" stroke="#e175b6"/><path d="M151.1,179.7 C231.2,226.5 372.9,226.7 453.1,180" stroke="#e175b6"/><path d="M149.7,182.3 C230.9,227.6 373.2,227.7 454.4,182.5" stroke="#e175b6"/><path d="M152.7,177 C231.5,225.4 372.3,225.1 451,176.3" stroke="#e175b6"/><path d="M153.7,175.2 C231.8,224.6 372.2,224.7 450.4,175.4" stroke="#e175b6"/><path d="M155.4,172.4 C232.3,223.5 371.6,223.3 448.3,171.9" stroke="#e175b6"/><path d="M154.6,173.8 C232.1,224 372.3,224.8 450.4,175.4" stroke="#e175b6"/><path d="M156.4,170.8 C232.6,222.8 371.6,223.1 447.9,171.4" stroke="#e175b6"/><path d="M148.9,183.7 C230.7,228.2 373.2,228 454.9,183.3" stroke="#e175b6"/><path d="M147.9,185.6 C230.5,228.9 373.5,228.9 456.1,185.6" stroke="#e175b6"/><path d="M146.7,188 C230.3,229.9 373.7,229.8 457.2,187.9" stroke="#e175b6"/><path d="M154.7,173.6 C232.1,224 371.9,223.9 449.1,173.3" stroke="#e175b6"/><path d="M151.8,178.4 C231.3,226 372.5,225.8 451.9,178" stroke="#e175b6"/><path d="M148.3,184.9 C230.6,228.6 373.5,228.9 456,185.4" stroke="#e175b6"/><path d="M143.1,195.8 C230,232.9 374.6,234.3 462.2,198.9" stroke="#f18fc0"/><path d="M145.6,190.4 C230.2,230.8 374.1,231.5 459.1,191.8" stroke="#f18fc0"/><path d="M143.1,195.8 C230,232.9 374.7,234.5 462.4,199.4" stroke="#f18fc0"/><path d="M141.6,199.4 C229.7,234.4 374.6,235.2 463.2,201.4" stroke="#f18fc0"/><path d="M142.9,196.3 C229.9,233.1 374.5,234 461.9,198.3" stroke="#f18fc0"/><path d="M143.1,195.8 C229.9,233 374.5,233.8 461.6,197.6" stroke="#f18fc0"/><path d="M145.1,191.4 C230.1,231.2 374.2,231.8 459.5,192.8" stroke="#f18fc0"/><path d="M142.7,196.8 C229.9,233.3 374.5,234.2 462.1,198.7" stroke="#f18fc0"/><path d="M144.9,191.8 C230.2,231.3 374.4,232.7 460.5,194.9" stroke="#f18fc0"/><path d="M145.7,190.1 C230.4,230.6 374.3,232.2 459.8,193.5" stroke="#f18fc0"/><path d="M136,215.7 C229.8,240.5 374.7,242.1 469,219.3" stroke="#f4a0c9"/><path d="M138.2,208.6 C229.5,237.9 374.7,238.7 466.4,210.4" stroke="#f4a0c9"/><path d="M134.2,222.3 C229.9,243 374.4,244.3 470.5,225.2" stroke="#f4a0c9"/><path d="M137.2,211.5 C229.7,239 374.8,240.4 467.7,214.7" stroke="#f4a0c9"/><path d="M134.7,220.1 C229.8,242.2 374.5,243.5 470,223.1" stroke="#f4a0c9"/><path d="M135.7,216.6 C229.7,240.9 374.7,242 469,219.1" stroke="#f4a0c9"/><path d="M135,219.1 C229.8,241.8 374.6,243.1 469.8,222.2" stroke="#f4a0c9"/><path d="M138.4,208.1 C229.7,237.7 374.9,239.3 466.8,211.7" stroke="#f4a0c9"/><path d="M134.8,219.9 C229.9,242.1 374.6,243.5 470,223.1" stroke="#f4a0c9"/><path d="M136.2,214.9 C229.6,240.3 374.7,241.2 468.4,217" stroke="#f4a0c9"/><path d="M136.1,215.1 C229.6,240.4 374.6,241 468.2,216.4" stroke="#f4a0c9"/><path d="M131.2,236.8 C230.8,248.2 373.4,249.2 473.2,239.2" stroke="#b46c52"/><path d="M130.3,243.1 C231.3,250.5 372.8,250.9 473.8,244.2" stroke="#b46c52"/><path d="M130.2,243.6 C231.3,250.7 372.7,250.9 473.8,244.2" stroke="#b46c52"/><path d="M131.9,232.9 C230.5,246.9 373.7,247.7 472.5,235" stroke="#b46c52"/><path d="M132.7,228.5 C230.1,245.3 374,245.6 471.4,229.2" stroke="#b46c52"/><path d="M130.9,238.9 C231,249 373.2,250 473.5,241.3" stroke="#b46c52"/><path d="M131.2,237.1 C230.8,248.4 373.4,249.2 473.1,239" stroke="#b46c52"/><path d="M132.2,231.1 C230.4,246.2 373.9,247.2 472.2,233.4" stroke="#b46c52"/><path d="M131.2,236.6 C230.7,248.2 373.4,248.9 473,238.2" stroke="#b46c52"/><path d="M132.2,231 C230.3,246.2 373.9,246.9 472.1,232.6" stroke="#b46c52"/><path d="M130.3,243.1 C231.5,250.4 372.8,251.5 474,245.8" stroke="#b46c52"/><path d="M129.2,256.7 C232.9,255.1 371.1,255.5 474.9,257.7" stroke="#e8825d"/><path d="M129.2,257 C232.9,255.2 371.1,255.3 474.9,257.2" stroke="#e8825d"/><path d="M129.1,257.8 C233.1,255.5 371,255.8 474.9,258.5" stroke="#e8825d"/><path d="M129,261.1 C233.7,256.5 370.4,257.3 475,263" stroke="#e8825d"/><path d="M129.2,256.8 C232.9,255.2 371.1,255.3 474.9,257.2" stroke="#e8825d"/><path d="M129.1,258.1 C233,255.6 371,255.5 474.9,257.9" stroke="#e8825d"/><path d="M129,261.6 C233.7,256.7 370.4,257.3 475,263.2" stroke="#e8825d"/><path d="M129.1,259.3 C233.3,255.9 370.7,256.5 475,260.7" stroke="#e8825d"/><path d="M129,261 C233.6,256.5 370.5,257.1 475,262.5" stroke="#e8825d"/><path d="M129,266.7 C233.5,271.7 370.5,272 475,267.4" stroke="#eae05d"/><path d="M129,268 C233.4,272.2 370.6,272 475,267.4" stroke="#eae05d"/><path d="M129.3,274.1 C232.6,274.2 371.4,274.1 474.7,273.8" stroke="#eae05d"/><path d="M129.1,269.9 C233.1,272.8 370.9,272.8 474.9,269.9" stroke="#eae05d"/><path d="M129.2,272.2 C232.8,273.6 371.2,273.6 474.8,272.3" stroke="#eae05d"/><path d="M129.6,279.2 C231.9,275.9 372.1,275.9 474.4,279.2" stroke="#eae05d"/><path d="M129.2,271.9 C232.9,273.5 371.1,273.3 474.9,271.4" stroke="#eae05d"/><path d="M129.1,269.6 C233.1,272.7 370.9,272.8 474.9,269.9" stroke="#eae05d"/><path d="M129.2,271.8 C232.8,273.4 371.2,273.7 474.8,272.6" stroke="#eae05d"/><path d="M132,296.2 C230.1,281.8 373.7,282.3 471.8,297.4" stroke="#f8f4ac"/><path d="M130.9,290 C230.7,279.6 373.2,280 472.9,290.9" stroke="#f8f4ac"/><path d="M132,296.4 C230.3,281.9 373.8,281.8 472.1,296.1" stroke="#f8f4ac"/><path d="M130.2,284.8 C231.2,277.8 372.7,278.4 473.6,286.1" stroke="#f8f4ac"/><path d="M130,283.3 C231.4,277.3 372.6,277.6 473.9,284" stroke="#f8f4ac"/><path d="M131.4,292.9 C230.5,280.7 373.5,280.6 472.7,292.7" stroke="#f8f4ac"/><path d="M130.2,284.6 C231.4,277.8 372.7,277.5 473.9,283.9" stroke="#f8f4ac"/><path d="M130.3,285.7 C231.2,278.2 372.8,278.1 473.7,285.7" stroke="#f8f4ac"/><path d="M130.8,289.4 C230.7,279.4 373.2,280.1 472.9,291.1" stroke="#f8f4ac"/><path d="M131.1,291 C230.5,280 373.3,280.6 472.7,292.5" stroke="#f8f4ac"/><path d="M130.2,284.6 C231.2,277.8 372.7,278.1 473.7,285.5" stroke="#f8f4ac"/><path d="M134.2,306.3 C229.4,285.4 374.2,286.9 468.9,309.7" stroke="#e5f2c0"/><path d="M133.6,304.1 C229.5,284.6 374.1,285.9 469.6,307.2" stroke="#e5f2c0"/><path d="M136.1,313.4 C229.2,288.1 374.4,289.3 467,316.3" stroke="#e5f2c0"/><path d="M134.1,305.9 C229.5,285.3 374.2,286.3 469.3,308.2" stroke="#e5f2c0"/><path d="M135.3,310.6 C229.3,287 374.3,288.2 467.9,313.3" stroke="#e5f2c0"/><path d="M136.3,314 C229.2,288.3 374.4,289.4 466.9,316.6" stroke="#e5f2c0"/><path d="M136,312.9 C229.3,287.9 374.4,288.6 467.6,314.5" stroke="#e5f2c0"/><path d="M135.7,311.8 C229.3,287.5 374.4,288.4 467.7,314" stroke="#e5f2c0"/><path d="M139.2,322.8 C229.3,291.6 374.4,292.6 464,324.9" stroke="#bee4c7"/><path d="M138.7,321.3 C229.4,291.1 374.5,291.4 465.1,322" stroke="#bee4c7"/><path d="M138.7,321.4 C229.2,291.1 374.4,292 464.6,323.5" stroke="#bee4c7"/><path d="M141.9,329.9 C229.6,294.4 374.3,294.9 461.7,330.8" stroke="#bee4c7"/><path d="M137.9,319 C229.3,290.2 374.5,290.6 465.8,319.8" stroke="#bee4c7"/><path d="M142.1,330.4 C229.6,294.6 374.2,295.1 461.5,331.4" stroke="#bee4c7"/><path d="M141.7,329.4 C229.5,294.2 374.2,295 461.5,331.2" stroke="#bee4c7"/><path d="M140.3,325.8 C229.4,292.8 374.4,293.2 463.4,326.7" stroke="#bee4c7"/><path d="M147.3,341.7 C230.4,299.1 373.5,299.5 456.3,342.6" stroke="#5daa7b"/><path d="M145.1,337.2 C230,297.3 373.9,297.7 458.6,337.9" stroke="#5daa7b"/><path d="M147.1,341.4 C230.3,299 373.4,299.5 456.3,342.6" stroke="#5daa7b"/><path d="M147.7,342.5 C230.5,299.5 373.5,299.5 456.3,342.5" stroke="#5daa7b"/><path d="M149.2,345.5 C230.8,300.7 373.1,300.8 454.6,345.8" stroke="#5daa7b"/><path d="M147.6,342.4 C230.5,299.4 373.5,299.5 456.3,342.5" stroke="#5daa7b"/><path d="M147.9,342.9 C230.5,299.6 373.4,299.8 455.9,343.4" stroke="#5daa7b"/><path d="M145.6,338.3 C230.1,297.8 373.9,297.6 458.6,337.9" stroke="#5daa7b"/><path d="M156.2,357.5 C232.5,305.6 371.4,305.8 447.5,357.8" stroke="#7cc0d5"/><path d="M153.1,352.4 C231.6,303.5 372.1,304.1 450.2,353.6" stroke="#7cc0d5"/><path d="M156.3,357.5 C232.5,305.6 371.3,306 447.2,358.4" stroke="#7cc0d5"/><path d="M154.4,354.6 C231.9,304.4 371.7,305 448.8,355.8" stroke="#7cc0d5"/><path d="M155.7,356.7 C232.3,305.3 371.5,305.5 448,357.1" stroke="#7cc0d5"/><path d="M152,350.5 C231.4,302.8 372.7,302.6 452.2,350.1" stroke="#7cc0d5"/><path d="M151.4,349.4 C231.2,302.3 372.5,302.8 452,350.5" stroke="#7cc0d5"/><path d="M156.5,357.9 C232.6,305.8 371.4,306 447.3,358.2" stroke="#7cc0d5"/><path d="M161.3,364.9 C233.8,308.7 369.4,309.9 441,367.4" stroke="#6598c7"/><path d="M161.4,365.1 C233.9,308.8 369.7,309.4 441.8,366.2" stroke="#6598c7"/><path d="M161.6,365.3 C234,308.9 369.4,309.9 441,367.2" stroke="#6598c7"/><path d="M162.6,366.8 C234.3,309.5 369.2,310.3 440.2,368.4" stroke="#6598c7"/><path d="M158.3,360.6 C233,306.9 370.5,307.7 444.6,362.3" stroke="#6598c7"/><path d="M162.5,366.6 C234.3,309.5 369.2,310.2 440.4,368.2" stroke="#6598c7"/><path d="M161.2,364.8 C233.8,308.7 369.6,309.5 441.6,366.4" stroke="#6598c7"/><path d="M162.1,366.1 C234.1,309.2 369.1,310.4 440.1,368.5" stroke="#6598c7"/><path d="M168.1,373.8 C236.1,312.6 366.8,314 433.4,376.8" stroke="#5bc0ea"/><path d="M174,380.7 C238.2,315.6 364.7,317 427.5,383.4" stroke="#5bc0ea"/><path d="M172.7,379.2 C237.7,315 365.4,316.1 429.3,381.5" stroke="#5bc0ea"/><path d="M174.4,381.1 C238.4,315.8 364.8,316.8 427.8,383.1" stroke="#5bc0ea"/><path d="M169.5,375.6 C236.6,313.3 366.2,314.9 431.7,378.8" stroke="#5bc0ea"/><path d="M168.3,374.1 C236.2,312.7 366.8,314.1 433.3,376.9" stroke="#5bc0ea"/><path d="M169.4,375.5 C236.5,313.3 366.3,314.8 432,378.4" stroke="#5bc0ea"/><path d="M173.2,379.8 C237.9,315.2 364.9,316.6 428.2,382.7" stroke="#5bc0ea"/><path d="M179.1,386.1 C240.2,318 362.6,319.4 422.1,388.8" stroke="#bed0db"/><path d="M178.5,385.4 C239.9,317.7 362.6,319.4 422.1,388.8" stroke="#bed0db"/><path d="M177.8,384.7 C239.7,317.4 363,318.9 423.2,387.8" stroke="#bed0db"/><path d="M180.9,387.9 C240.9,318.8 361.3,320.8 418.9,391.8" stroke="#bed0db"/><path d="M176.7,383.6 C239.2,316.9 363.1,318.8 423.4,387.5" stroke="#bed0db"/><path d="M182.8,389.6 C241.6,319.6 360.7,321.4 417.4,393.2" stroke="#bed0db"/><path d="M178.2,385.1 C239.8,317.6 362.6,319.3 422.3,388.7" stroke="#bed0db"/><path d="M180.6,387.6 C240.8,318.6 361.5,320.6 419.4,391.4" stroke="#bed0db"/><path d="M188.1,394.5 C243.9,321.8 358.5,323.5 412.1,397.7" stroke="#a29cca"/><path d="M189.4,395.7 C244.4,322.4 358,323.9 411,398.6" stroke="#a29cca"/><path d="M194.7,400 C246.8,324.4 355.6,325.9 405.5,402.9" stroke="#a29cca"/><path d="M188.1,394.5 C243.9,321.8 358.3,323.6 411.7,398" stroke="#a29cca"/><path d="M191.6,397.5 C245.4,323.2 357.1,324.7 408.9,400.3" stroke="#a29cca"/><path d="M188,394.4 C243.8,321.8 358.6,323.3 412.6,397.4" stroke="#a29cca"/><path d="M194.7,400 C246.8,324.4 355.5,325.9 405.4,403" stroke="#a29cca"/><path d="M192.6,398.3 C245.8,323.5 356,325.5 406.5,402.2" stroke="#a29cca"/><path d="M198.3,402.8 C248.4,325.6 353.6,327.3 401.2,406" stroke="#bdb7dd"/><path d="M198.6,403 C248.5,325.7 353.3,327.6 400.4,406.6" stroke="#bdb7dd"/><path d="M200.5,404.4 C249.3,326.4 352.1,328.4 397.9,408.3" stroke="#bdb7dd"/><path d="M199.6,403.8 C249,326.1 352.7,328.1 399,407.5" stroke="#bdb7dd"/><path d="M198.3,402.8 C248.4,325.6 353.1,327.7 400.1,406.8" stroke="#bdb7dd"/><path d="M203.7,406.7 C250.8,327.4 350.7,329.3 394.8,410.3" stroke="#bdb7dd"/><path d="M200.8,404.6 C249.5,326.5 352.1,328.4 397.9,408.3" stroke="#bdb7dd"/><path d="M213,412.7 C255.3,330.3 346.4,331.9 385.7,415.7" stroke="#eeedf5"/><path d="M215,413.8 C256.2,330.9 345.5,332.4 383.8,416.7" stroke="#eeedf5"/><path d="M216.1,414.5 C256.8,331.2 344.8,332.7 382.5,417.4" stroke="#eeedf5"/><path d="M211.1,411.5 C254.4,329.8 347.3,331.4 387.7,414.6" stroke="#eeedf5"/><path d="M216.1,414.5 C256.8,331.2 344.9,332.7 382.6,417.4" stroke="#eeedf5"/><path d="M208.6,409.9 C253.1,329 348.5,330.7 390.1,413.2" stroke="#eeedf5"/><path d="M214,413.2 C255.7,330.6 346.2,332 385.2,416" stroke="#eeedf5"/><path d="M218.9,416.1 C258.2,331.9 343.2,333.5 379.2,419.1" stroke="#f7ced7"/><path d="M222.4,417.9 C259.9,332.8 341,334.6 374.8,421.3" stroke="#f7ced7"/><path d="M225.7,419.6 C261.6,333.6 339.7,335.2 372,422.5" stroke="#f7ced7"/><path d="M225.4,419.4 C261.4,333.6 339.8,335.1 372.4,422.3" stroke="#f7ced7"/><path d="M225.5,419.5 C261.5,333.6 339.6,335.2 372,422.5" stroke="#f7ced7"/><path d="M220.7,417 C259.1,332.4 342.2,334 377.2,420.1" stroke="#f7ced7"/><path d="M223.9,418.7 C260.6,333.2 340.6,334.8 373.9,421.7" stroke="#f7ced7"/><path d="M228.3,420.8 C262.9,334.2 337.6,336.1 367.9,424.3" stroke="#f48cb6"/><path d="M232.7,422.8 C265.2,335.2 334.7,337.2 362.2,426.5" stroke="#f48cb6"/><path d="M236.4,424.4 C267.1,335.9 332.9,337.8 358.7,427.7" stroke="#f48cb6"/><path d="M236.9,424.6 C267.3,336.1 333,337.7 358.9,427.7" stroke="#f48cb6"/><path d="M230.9,422 C264.3,334.8 335.7,336.8 364,425.8" stroke="#f48cb6"/><path d="M227.6,420.5 C262.5,334 337.7,336 368.1,424.2" stroke="#f48cb6"/><path d="M228.2,420.8 C262.9,334.2 337.2,336.3 367,424.6" stroke="#f48cb6"/><path d="M242.3,426.7 C270.1,337.1 330.3,338.6 353.8,429.4" stroke="#959595"/><path d="M242,426.6 C270,337 330,338.7 353.1,429.6" stroke="#959595"/><path d="M240,425.8 C268.9,336.7 331.1,338.3 355.2,428.9" stroke="#959595"/><path d="M244.6,427.5 C271.3,337.5 328.8,339 350.8,430.3" stroke="#959595"/><path d="M245.5,427.8 C271.8,337.7 328.5,339.1 350.4,430.4" stroke="#959595"/><path d="M243.9,427.3 C271,337.4 328.9,339 350.9,430.2" stroke="#959595"/><path d="M255.7,431 C277.2,339.2 323.2,340.3 340.3,433" stroke="#b7b7b7"/><path d="M251.2,429.7 C274.8,338.6 325.2,339.9 344,432.1" stroke="#b7b7b7"/><path d="M252.4,430 C275.4,338.8 325,339.9 343.7,432.2" stroke="#b7b7b7"/><path d="M258.2,431.7 C278.6,339.6 321.7,340.6 337.5,433.6" stroke="#b7b7b7"/><path d="M251.2,429.7 C274.8,338.6 325.6,339.8 344.7,431.9" stroke="#b7b7b7"/><path d="M250.9,429.6 C274.7,338.5 325.7,339.8 345.1,431.9" stroke="#b7b7b7"/><path d="M267.3,433.8 C283.4,340.6 317.1,341.4 329,435.2" stroke="#e5e5e5"/><path d="M265.2,433.3 C282.4,340.4 317.7,341.3 330.1,435" stroke="#e5e5e5"/><path d="M266.1,433.5 C282.8,340.5 317.2,341.4 329.1,435.2" stroke="#e5e5e5"/><path d="M261.9,432.6 C280.5,340 319.5,341 333.4,434.4" stroke="#e5e5e5"/><path d="M261.9,432.6 C280.5,340 319.6,341 333.5,434.4" stroke="#e5e5e5"/><path d="M268.8,434.1 C284.2,340.8 316.2,341.5 327.3,435.4" stroke="#e5e5e5"/><path d="M281.1,436 C290.9,341.8 309.5,342.2 314.9,436.8" stroke="#a74ea2"/><path d="M286.4,436.6 C293.9,342.1 306.3,342.4 309,437.2" stroke="#a74ea2"/><path d="M284.1,436.4 C292.5,342 308.4,342.3 313.1,436.9" stroke="#a74ea2"/><path d="M281.5,436.1 C291.1,341.8 309.8,342.2 315.6,436.8" stroke="#a74ea2"/><path d="M281.2,436.1 C291,341.8 309,342.2 314.1,436.9" stroke="#a74ea2"/><path d="M289.9,436.9 C295.7,342.2 304.6,342.4 306,437.3" stroke="#a74ea2"/><path d="M279,435.8 C289.9,341.6 309.8,342.2 315.4,436.8" stroke="#a74ea2"/><path d="M285.2,436.5 C293.2,342 307.4,342.3 311.2,437.1" stroke="#a74ea2"/><path d="M286.9,436.6 C294.1,342.1 307,342.3 310.5,437.1" stroke="#a74ea2"/><path d="M281.2,436 C290.9,341.8 309.8,342.2 315.6,436.8" stroke="#a74ea2"/><path d="M288.7,436.8 C295.1,342.2 305.8,342.4 308.2,437.2" stroke="#a74ea2"/><path d="M285.5,436.5 C293.4,342 306.4,342.4 309.1,437.2" stroke="#a74ea2"/></g>
<defs><radialGradient id="lg" cx="302" cy="264.3" r="173" gradientUnits="userSpaceOnUse"><stop offset="0" stop-color="#fff" stop-opacity="1"/><stop offset="0.5" stop-color="#fff" stop-opacity="1"/><stop offset="0.8" stop-color="#fff" stop-opacity="0.45"/><stop offset="1" stop-color="#fff" stop-opacity="0.12"/></radialGradient><mask id="lm" maskUnits="userSpaceOnUse" x="0" y="0" width="567" height="558"><rect width="567" height="558" fill="url(#lg)"/></mask></defs>
<g fill="none" stroke-width="0.55" stroke-opacity="0.7" mask="url(#lm)"><path d="M134.8,308.6 C228.4,280.7 355,210.7 428.5,146.3" stroke="#deefad"/><path d="M200.3,404.3 C254.6,328.2 381.5,261.8 475,260.7" stroke="#aaa2d3"/><path d="M206,120.4 C267.8,202.6 353,313 416.9,393.7" stroke="#a0d9aa"/><path d="M217.7,415.3 C257.4,331.7 347.3,331.2 387.9,414.5" stroke="#eceaf4"/><path d="M289.7,91.7 C295.1,184.7 370.3,305.8 451.1,352" stroke="#8f3214"/><path d="M274.5,93.5 C283.6,186.2 359,207.8 415.9,134.1" stroke="#9d4c32"/><path d="M197.4,402.1 C265.7,322.8 350.1,215 410.7,129.7" stroke="#a69fd1"/><path d="M156.3,357.6 C235.4,307.7 310.3,185.3 318.6,92.1" stroke="#7bc0d5"/><path d="M167.4,372.9 C235.1,311.5 356.9,325.1 409.3,400" stroke="#48b8e7"/><path d="M206.5,120 C252,199.6 364.9,212.1 426.7,144.4" stroke="#ee282f"/><path d="M246.2,428.1 C282.9,334.6 348.1,208 402.9,123.8" stroke="#ce4650"/><path d="M276.6,435.4 C285.7,342 344.2,331.6 384.9,416.2" stroke="#ebe9f4"/><path d="M265,433.3 C280,340.9 345,331.4 385.8,415.6" stroke="#dfdfdf"/><path d="M189.2,395.5 C244.6,321.5 338.5,336.7 367.9,424.2" stroke="#8e87bf"/><path d="M286.8,436.6 C292.1,344.7 378,236.3 466.3,210.2" stroke="#92238b"/><path d="M132.6,299.6 C225.3,280.7 367.5,307.5 446.9,358.8" stroke="#53acc8"/><path d="M136,312.9 C223,283.8 351,329.2 400.2,406.7" stroke="#e1f0b6"/><path d="M213.2,412.8 C255.5,330.3 343.7,333.4 380,418.7" stroke="#eae8f3"/><path d="M238.6,103.3 C267.6,190.1 381.9,246.6 468.4,217" stroke="#3f9a62"/><path d="M230.3,421.7 C265.5,334.4 315.2,342.3 321.9,436.2" stroke="#a54aa0"/><path d="M134.1,305.9 C227.9,279.8 354.9,210.1 427.2,144.9" stroke="#f2545a"/><path d="M156.7,170.5 C231.4,223.4 364,211.3 427.9,145.7" stroke="#ee1f27"/><path d="M222.2,110.8 C270.6,196.5 363.5,306.8 439.6,369.2" stroke="#5089bf"/><path d="M134.7,308.4 C221.8,280.4 333.8,339.7 359.5,427.5" stroke="#e0f0b4"/><path d="M283.5,436.3 C287.7,343.4 363,316.6 424.9,386.1" stroke="#8e1a86"/><path d="M129.3,274.6 C221,272.9 323,185.6 338.9,95.3" stroke="#3098a7"/><path d="M211.1,411.5 C254.3,330.8 370.2,309.5 439.1,369.8" stroke="#3275b5"/><path d="M143.3,195.5 C224.9,237.4 322.1,185.1 332,93.9" stroke="#f18ebf"/><path d="M129.4,276.5 C232.1,275 371.8,275.4 474.5,277.7" stroke="#e6da3e"/><path d="M247.8,428.6 C281.1,336.9 359.1,214.9 428.3,146.1" stroke="#f14e54"/><path d="M236.2,424.3 C265.9,337.8 378.5,293.6 459,336.9" stroke="#288e4f"/><path d="M158.5,360.9 C238.6,308.7 379,271.6 474.5,277.4" stroke="#3175b4"/><path d="M156.9,358.5 C231.2,305.1 361.2,320.6 420.8,390.1" stroke="#5bb0cb"/><path d="M215.4,414.1 C257.5,330.6 325.8,340.5 342.6,432.5" stroke="#b7b7b7"/><path d="M257,431.3 C276.6,339.7 339.2,334.7 373.1,422" stroke="#f4bcc8"/><path d="M132.1,297.1 C226.9,280.7 371.1,298.1 459.2,336.5" stroke="#f6f08c"/><path d="M130.7,240.5 C229.1,258.6 365.6,300.5 457.2,340.6" stroke="#3e9a61"/><path d="M129,268 C222.6,265.4 353.3,324.9 412.7,397.2" stroke="#a19bc9"/><path d="M251.2,429.7 C283.2,336.8 355.7,212 420.4,138.2" stroke="#a4a4a4"/><path d="M225.4,419.4 C260.5,334.6 367.7,312.8 433.2,377.1" stroke="#54bde9"/><path d="M171.9,378.3 C237.1,314.2 360.5,321.6 417.5,393.1" stroke="#b6c9d6"/><path d="M141.6,199.4 C234.5,243.1 359.7,305.3 450.5,353" stroke="#62b3cd"/><path d="M174.7,147.2 C246,210.9 379.3,268.4 474.6,276.5" stroke="#f14c52"/><path d="M134.4,307 C230.2,286 374.6,283 471.2,300.2" stroke="#f6f093"/><path d="M131.6,234.2 C222.4,252.2 354.5,203.3 411.6,130.5" stroke="#a04423"/><path d="M219.9,112 C266.8,195.7 372.8,295 459.3,336.4" stroke="#39985d"/><path d="M144.1,335 C227.5,295.2 366.7,312.4 438,371.2" stroke="#4f88bf"/><path d="M264.5,433.2 C280.1,340.7 339.6,334.3 374.6,421.3" stroke="#dddddd"/><path d="M136.3,314.1 C232.7,279.3 363,228.2 457.4,188.2" stroke="#e6f2c1"/><path d="M140.3,325.8 C235.2,283 362.3,230.1 459.7,193.1" stroke="#ed72b0"/><path d="M283.5,92.3 C287.3,184.7 371.8,223.3 444.1,165.6" stroke="#a86049"/><path d="M131.5,293.5 C235.8,282.3 370.5,260.4 473,238.1" stroke="#f7f2a1"/><path d="M212.7,412.5 C256.3,329.8 325,340.8 340.7,432.9" stroke="#ebe9f4"/><path d="M247.3,428.4 C282.2,335.8 353.5,210.9 415.6,133.8" stroke="#7c7c7c"/><path d="M150.9,348.5 C236.5,303.4 378,271.2 474.7,274.6" stroke="#e4d72d"/><path d="M146.2,189.1 C237.6,240.4 360,301.2 456.2,342.8" stroke="#de68af"/><path d="M148.1,343.4 C226.8,296.4 334.4,339.4 358.9,427.7" stroke="#f173a6"/><path d="M161,364.5 C237.6,310.6 307.8,185.2 313.7,91.7" stroke="#a55a43"/><path d="M205.2,407.7 C253.5,327.4 313.7,343 316.7,436.7" stroke="#a74ca1"/><path d="M132.2,231.1 C224,248.1 336.8,336 375.6,420.8" stroke="#f6cbd4"/><path d="M183.7,390.6 C242.2,319 334.9,338.3 360,427.3" stroke="#b5c9d6"/><path d="M129.5,251 C228.3,262.7 366.9,299.3 458.5,338" stroke="#51a471"/><path d="M145.8,338.7 C228.8,297.3 370.1,306.8 446.8,359" stroke="#3c995f"/><path d="M229.4,421.3 C267.3,327.1 312,193.3 338.6,95.2" stroke="#f384b1"/><path d="M188.4,394.8 C244,321.4 346.2,332.6 384.6,416.3" stroke="#edecf5"/><path d="M236.1,104.3 C266.9,192.7 334.2,191.3 361.4,101.8" stroke="#5fab7c"/><path d="M156.9,170 C241.9,220.7 375.6,273.7 472.3,295" stroke="#f6f092"/><path d="M227.7,420.5 C264.6,336.2 383,265 474.8,271.8" stroke="#f173a6"/><path d="M253.5,430.4 C274.3,339.4 347.8,330 390.8,412.8" stroke="#a5a5a5"/><path d="M202.3,405.7 C257,328.7 379.6,252 472.8,236.5" stroke="#bab4db"/><path d="M138.4,208.2 C226.5,236.2 317.1,343.4 329.9,435" stroke="#e3e3e3"/><path d="M260,96.5 C279.5,196.7 300.8,335.5 312.2,437" stroke="#9b3594"/><path d="M234,423.4 C264.9,337.3 378.5,293.6 459.1,336.7" stroke="#f172a5"/><path d="M131.6,234.6 C228.8,255.7 363.3,305.3 450.9,352.4" stroke="#ad5e41"/><path d="M291.3,437 C296.7,343.3 365.6,217 441.3,161.7" stroke="#f39378"/><path d="M130.9,238.8 C220.9,256.2 337.6,190.9 370,105.2" stroke="#ac5c3f"/><path d="M129,262.4 C220.6,259.4 324.1,342.8 340.5,433" stroke="#e6774f"/><path d="M143.8,334.4 C233.2,297.3 377,278.4 472.9,291.2" stroke="#f7f2a1"/><path d="M138.6,207.6 C231.4,244.3 356.8,313.1 437.7,371.6" stroke="#f294c1"/><path d="M192.6,398.3 C252.9,315.6 332,200 387.2,113.7" stroke="#90d29c"/><path d="M228.9,421.1 C262.1,335.6 369.8,309.8 438.1,371.1" stroke="#f172a5"/><path d="M258.2,96.9 C289.5,194.5 335.7,326.6 371.9,422.5" stroke="#399dab"/><path d="M231.8,422.4 C273.5,334.7 365.6,222.8 443.6,164.8" stroke="#f07c5c"/><path d="M131.4,292.8 C234.5,281.8 371.7,264.9 474.5,250.6" stroke="#e56e43"/><path d="M247.4,428.5 C270.8,338.8 357.2,323.2 410.6,399" stroke="#797979"/><path d="M226.7,420 C262,333.9 340.1,334.9 373,422" stroke="#f4bcc8"/><path d="M253.4,430.3 C288,333.1 334.8,202.2 369.6,105.1" stroke="#b4b4b4"/><path d="M132.1,231.6 C223.6,247.5 332.1,338.7 363.7,425.9" stroke="#f174a6"/><path d="M235.6,104.6 C274.8,193 366,305.8 444.3,362.7" stroke="#349459"/><path d="M129.4,276.5 C223.8,270.2 361.1,316 432.8,377.6" stroke="#e8dd4e"/><path d="M222.5,417.9 C261.9,332.5 312.5,342.7 315.7,436.8" stroke="#f6c8d2"/><path d="M161.8,365.6 C239,306.5 330.1,193.8 371.6,105.9" stroke="#518ac0"/><path d="M273.3,434.9 C294.2,337 340,201.8 382.8,111.3" stroke="#8bd098"/><path d="M137,212.3 C238.6,237.5 369.7,276.7 468.5,311.4" stroke="#f398c4"/><path d="M135,309.6 C225.6,285.6 334.5,191.9 371.8,106" stroke="#60ab7d"/><path d="M134.2,222.3 C221.9,248.5 342.6,193.5 380.4,110.1" stroke="#81cc8f"/><path d="M195,400.3 C253.2,319.9 319.3,192.4 351.4,98.5" stroke="#56abb7"/><path d="M144.8,192 C226.3,233.9 355.8,202.9 409.5,128.7" stroke="#f084ba"/><path d="M166.4,371.7 C240.4,311.8 315.5,187.7 334.4,94.4" stroke="#2f98a6"/><path d="M141.6,329.1 C224.4,290.3 342.2,335.6 377.6,419.9" stroke="#aeddb9"/><path d="M177.2,384.1 C239.4,315.8 330.6,340.1 350.6,430.3" stroke="#898989"/><path d="M134.7,220.2 C226.2,245.1 343,330.9 394.1,410.8" stroke="#b8b2da"/><path d="M134.8,308.6 C225,284 365.8,311.6 440.1,368.5" stroke="#e1f0b5"/><path d="M129.6,279.1 C220.3,267 328.1,341.7 348.5,430.9" stroke="#969696"/><path d="M140.6,201.9 C231.1,234.8 376,243.8 469.8,222.2" stroke="#f184b9"/><path d="M198.6,403 C261.3,325.8 366.2,228.1 447.7,171" stroke="#db58a6"/><path d="M257.3,431.4 C275.1,341.5 377.2,296.2 455.8,343.5" stroke="#208a49"/><path d="M193.9,129.2 C246.4,204.5 355.9,203 406.3,126.2" stroke="#d45b64"/><path d="M139,322.2 C226.8,290.2 369.1,307.1 446.9,358.8" stroke="#66b5cf"/><path d="M129.5,278 C222.1,272.3 339.8,193.5 380.2,110" stroke="#e7db46"/><path d="M220.6,111.6 C267.8,195.8 370.8,298.1 455.2,344.7" stroke="#56a775"/><path d="M136.1,313.3 C228,287.5 372.9,295.6 461.4,331.5" stroke="#dceea8"/><path d="M242.3,426.7 C269,337.5 347.4,330.6 389.2,413.7" stroke="#858585"/><path d="M165.8,157.7 C248.9,216.1 368.8,290.4 458.1,338.9" stroke="#59a878"/><path d="M282.8,436.2 C299.8,335 325.8,197.7 346.9,97.2" stroke="#a03f9a"/><path d="M202.9,122.5 C259.7,200.3 374.6,289.1 464.2,324.5" stroke="#cd434d"/><path d="M183.9,137.8 C255.2,207.8 368.6,294.9 454.7,345.7" stroke="#4da26e"/><path d="M131.1,291.1 C222.9,275.5 358,321.3 421.5,389.4" stroke="#f7f29c"/><path d="M288.3,91.8 C299.5,189.6 342.2,327.4 388.2,414.3" stroke="#edebf4"/><path d="M141.8,329.5 C228.2,293.7 371.5,302.7 452.8,349.2" stroke="#59afca"/><path d="M209.7,410.6 C257.1,331.3 382.5,268.8 474.4,278.8" stroke="#e9e7f2"/><path d="M136.3,314.1 C226.7,286.5 339,195.1 384.3,112.1" stroke="#e5f2c0"/><path d="M231,422.1 C268,328.9 305.8,191.4 321.6,92.4" stroke="#f0619a"/><path d="M158.4,167.8 C237.7,224.4 333.1,333.3 378.8,419.3" stroke="#f5c5cf"/><path d="M148.6,344.3 C233.1,297.9 336.4,195.8 383.8,111.8" stroke="#8fd29c"/><path d="M230,421.6 C263,335 351.1,328.4 396.5,409.2" stroke="#f27cab"/><path d="M150.2,181.4 C232.7,226.3 319.7,341.3 340.5,433" stroke="#b1b1b1"/><path d="M192.1,130.7 C246.5,206.1 326.4,187.6 342.3,96.1" stroke="#c8303b"/><path d="M214.6,413.6 C271.9,327.6 348.4,211.8 405,125.3" stroke="#edecf5"/><path d="M172.1,378.5 C237.3,313 326.3,341.6 341.2,432.8" stroke="#55bde9"/><path d="M129,267 C223.2,265.6 356.3,321.5 421.1,389.7" stroke="#e8dd4d"/><path d="M146.1,189.4 C233.6,235.7 348.4,322.1 417.1,393.5" stroke="#ec68aa"/><path d="M267,433.7 C282.5,343.1 381.7,248.8 473,238.1" stroke="#e2e2e2"/><path d="M156.1,171.4 C236.3,225.1 331.1,335 372.3,422.4" stroke="#f4c0cc"/><path d="M130.2,243.9 C232.9,262.6 368.8,281.7 472.7,292.2" stroke="#b2684d"/><path d="M174.3,147.6 C239.9,212 375.4,229.4 455.1,183.8" stroke="#d951a3"/><path d="M151.5,349.6 C230.5,301.9 369.7,308.5 443.9,363.2" stroke="#3a7ab7"/><path d="M182.4,139.3 C247.6,210.6 313.5,339.9 333,434.5" stroke="#dddddd"/><path d="M184.7,137.1 C245,206.7 379.1,239.3 464.6,205.1" stroke="#ed71af"/><path d="M257.1,431.4 C275.3,340.4 360,320.4 416.9,393.6" stroke="#b5b5b5"/><path d="M279.4,92.8 C299.6,195.7 318.6,330.9 327.5,435.4" stroke="#dcdcdc"/><path d="M129,267.5 C229.3,270.2 370.6,289.1 468,313" stroke="#e5d938"/><path d="M283.5,436.3 C288.4,342.8 351.2,327 400,406.9" stroke="#a7a0d1"/><path d="M129.2,272 C228.9,271.8 370.9,289.7 467.5,314.7" stroke="#e2f0b7"/><path d="M223.9,418.7 C260.3,333.4 348.3,330.5 390.2,413.1" stroke="#edebf4"/><path d="M162.2,162.4 C249.3,218.4 365.1,294.4 451.1,352.1" stroke="#f39278"/><path d="M142.1,198.4 C224.4,238.2 335.1,189.4 361.2,101.8" stroke="#319356"/><path d="M257.5,97.1 C278.2,198.8 308.2,333.7 332.6,434.6" stroke="#e1e1e1"/><path d="M129.2,271.7 C228.5,271.5 370.5,291.8 465.9,319.8" stroke="#b2dfbc"/><path d="M160.4,363.7 C231.9,306.2 338.8,337.2 368.3,424.1" stroke="#f170a4"/><path d="M148.8,344.6 C227.1,297.4 343.2,335.1 379,419.2" stroke="#61ac7e"/><path d="M159.6,362.5 C233.6,307.9 371.5,306 447,358.7" stroke="#56aeca"/><path d="M283.8,436.3 C291.9,342 313.7,341.7 323.6,435.9" stroke="#8d1885"/><path d="M266.5,95 C283.8,186.1 377.3,292.2 465.5,320.8" stroke="#bce3c5"/><path d="M151.3,349.2 C228.2,298.8 323.2,343 334.2,434.3" stroke="#71bad2"/><path d="M180.2,141.5 C251.6,208.8 373.9,285.7 465.5,320.8" stroke="#f2575d"/><path d="M291,436.9 C290.7,345.1 380.8,285.5 465.3,321.6" stroke="#9e3b98"/><path d="M211,411.4 C257.5,331.7 382.6,269.5 474.2,280.5" stroke="#ebeaf4"/><path d="M155.9,356.9 C246.5,306.7 366.6,237.9 455.9,185.2" stroke="#e175b6"/><path d="M131.9,232.8 C232.8,246.1 373.2,257.4 475,260.4" stroke="#e98560"/><path d="M191.9,397.8 C248.2,324.9 380.2,285.7 467.1,316" stroke="#e3f1b9"/><path d="M285.5,92.1 C293,184.7 372.2,302.7 455.2,344.6" stroke="#a05239"/><path d="M188.8,395.2 C244.3,321.5 342.1,334.9 375.6,420.9" stroke="#867eba"/><path d="M160.5,363.8 C237.5,309.7 312,186.1 324,92.7" stroke="#538bc1"/><path d="M165.4,158.1 C239.8,216.7 312.7,341.9 326.9,435.5" stroke="#f07553"/><path d="M187.5,394 C244.2,320.6 329.2,340.3 347.9,431.1" stroke="#8d86be"/><path d="M273.1,434.9 C282.4,343 371.1,306.7 442.1,365.8" stroke="#9f3c98"/><path d="M209.7,410.6 C254,329.1 339.5,335.7 370.8,423" stroke="#f6cad3"/><path d="M130.2,243.7 C230.1,260.8 367.5,294.2 464.1,324.8" stroke="#a24929"/><path d="M233,423 C268.7,325.1 319.9,197.4 361.7,101.9" stroke="#f380ae"/><path d="M159.6,362.5 C231.6,305.3 330.2,340.7 349.4,430.7" stroke="#959595"/><path d="M163.4,367.8 C249,311 366.7,235.9 454.2,182.1" stroke="#d84ba0"/><path d="M292.4,437 C291.5,344.4 371.1,306.1 442.9,364.7" stroke="#3b7bb8"/><path d="M166.5,371.8 C236.7,312.4 374.1,301.4 452.9,348.9" stroke="#2fafe4"/><path d="M233.1,423 C267.4,337.4 382.8,260.3 475,261.3" stroke="#e77c55"/><path d="M244.2,427.4 C269.2,339.1 375.1,300.9 450.6,352.9" stroke="#7e7e7e"/><path d="M283.3,92.3 C290,183.9 380.2,286.4 470.2,304.6" stroke="#dfefb1"/><path d="M158.6,361.1 C231.2,304.7 331.8,340.2 352.8,429.7" stroke="#969696"/><path d="M287,436.7 C293,344.3 374.8,229.8 460.1,194.2" stroke="#ee7cb5"/><path d="M155.9,171.6 C235.8,223.6 324.1,338.8 353.6,429.4" stroke="#7c7c7c"/><path d="M228.2,420.8 C264,334 320.6,341.4 332.8,434.5" stroke="#f069a0"/><path d="M153.8,353.5 C229.2,301.7 345.4,333.7 383.5,416.9" stroke="#65b5ce"/><path d="M134.4,307.1 C221.7,279.9 335.6,338.9 363.8,425.9" stroke="#e6f2c1"/><path d="M133.4,303.2 C223.7,285.4 317.3,184.6 328.4,93.3" stroke="#984227"/><path d="M182.9,389.8 C248.7,313.5 331.6,198.1 382.9,111.4" stroke="#b3c7d5"/><path d="M201.7,405.2 C250.2,327.7 369.9,310 438.7,370.3" stroke="#a8a0d2"/><path d="M247.3,428.4 C270.9,340 380,289.3 462.8,328.1" stroke="#8f8f8f"/><path d="M130.5,287.1 C224.3,275.1 364.3,311.9 440.2,368.4" stroke="#407eba"/><path d="M169.1,153.5 C242.4,219.1 330.2,333.6 374.4,421.4" stroke="#f28b6e"/><path d="M156.1,171.4 C242.8,221.4 373.8,278.1 469.6,307.3" stroke="#e2f1b8"/><path d="M171,377.3 C245.8,304.3 347.8,212.6 428.3,146.1" stroke="#f25a5f"/><path d="M223.9,418.7 C261.6,332.9 325.8,340.3 343.1,432.3" stroke="#f4beca"/><path d="M203.7,406.7 C255.2,329.4 382.1,265.8 474.9,270.8" stroke="#aea7d5"/><path d="M153.7,353.4 C229.7,300.6 308.9,344.9 303.7,437.3" stroke="#9a3393"/><path d="M146.2,339.5 C232.8,294.5 343.5,201.2 402.6,123.6" stroke="#38975c"/><path d="M257.3,97.2 C280.1,187.4 377,291.9 465.3,321.4" stroke="#b2dfbc"/><path d="M130.3,243.4 C225.7,257.1 358.2,316.4 432,378.4" stroke="#26abe3"/><path d="M200.7,124.1 C249.4,202 356.5,203.6 407.5,127.2" stroke="#ce4650"/><path d="M162.7,366.8 C237.6,310.9 378.7,284.9 468.7,310.6" stroke="#6698c7"/><path d="M133.5,303.7 C231,275.6 364,228 457.1,187.7" stroke="#e5f2bf"/><path d="M255.6,431 C274.5,341.3 378.9,292.2 460,334.8" stroke="#439c65"/><path d="M251.4,429.7 C272.6,339.6 361,319.6 419,391.8" stroke="#bfd0db"/><path d="M129.2,272.2 C220.1,263 314.9,345.1 318.6,436.5" stroke="#a1419b"/><path d="M147.9,185.7 C242.9,227.3 368.7,284.6 462.4,329.1" stroke="#b8e1c1"/><path d="M151.9,178.2 C228.8,227.8 354.3,201.4 404.8,125.1" stroke="#e174b5"/><path d="M178.2,385.1 C244.7,319.3 380.9,274 473.5,286.8" stroke="#f6f090"/><path d="M162.2,366.2 C233.1,308.5 359.7,322.3 416.5,394" stroke="#b6cad7"/><path d="M167.1,155.9 C236.8,215.9 373.6,226 451.3,176.9" stroke="#f2896c"/><path d="M130.8,239.6 C221.2,255.9 343.1,194.3 383.6,111.8" stroke="#993612"/><path d="M225.4,419.4 C262.4,333.3 324,340.7 339.5,433.2" stroke="#b2b2b2"/><path d="M233.8,423.3 C267.7,337.6 382.8,260.1 475,261" stroke="#e4693c"/><path d="M135.9,312.5 C224.8,285.3 364.1,314.7 434.6,375.4" stroke="#44b7e7"/><path d="M209.6,410.6 C259.3,322.4 319.9,194.5 356.5,100.1" stroke="#e8e6f2"/><path d="M181.9,139.8 C249.7,219.3 343,319.8 417.3,393.3" stroke="#bdcfdb"/><path d="M159.1,166.8 C247.3,219.9 367.3,290.7 456.4,342.3" stroke="#f49a81"/><path d="M218.1,415.6 C257.8,331.7 342.5,334 377.6,419.9" stroke="#f5c7d1"/><path d="M231.6,422.3 C263.6,335.4 353.5,326.6 401.8,405.6" stroke="#b5aed8"/><path d="M161.7,163.1 C246.9,218.2 370.1,287.3 461.5,331.2" stroke="#f07553"/><path d="M289.2,436.8 C293.3,342.4 326.7,338.9 350.3,430.4" stroke="#a4489e"/><path d="M129.2,271.8 C227.4,264 366.9,227.5 456.4,186.3" stroke="#d7459c"/><path d="M176.5,383.4 C245.9,318.6 380.1,264 475,262.1" stroke="#e57247"/><path d="M230.8,422 C267.3,336.8 381.7,254 474,246" stroke="#f385b1"/><path d="M159.4,362.3 C237.3,307.5 320.9,188.9 346.5,97.1" stroke="#699ac8"/><path d="M201.1,404.8 C249.9,326.3 343.4,333.9 378.8,419.3" stroke="#b9b3db"/><path d="M240.9,426.2 C273.4,338.4 377.4,239.3 466.6,211.2" stroke="#8e8e8e"/><path d="M197.1,401.8 C263.9,323.7 356.1,219 425.1,142.8" stroke="#f35e64"/><path d="M234,423.4 C264.5,336.8 371.5,307.2 442,365.9" stroke="#699ac8"/><path d="M266.7,433.7 C279.5,342 366.5,313.2 431.5,379" stroke="#26ace3"/><path d="M171.8,378.2 C242.9,313.4 318,189.1 342.1,96" stroke="#53aab6"/><path d="M146.5,340.2 C235.3,291.2 354.2,214.8 435.6,154.4" stroke="#f07452"/><path d="M131,290.8 C230.4,270.2 366.7,233.2 462.9,200.7" stroke="#f6f08c"/><path d="M265.7,433.4 C283,342.6 378.8,240 468.3,216.5" stroke="#dedede"/><path d="M218.2,113 C262.8,203.4 314.1,335.8 342.2,432.6" stroke="#9d9d9d"/><path d="M187.2,393.7 C243.6,320.7 341.2,335.4 373.7,421.8" stroke="#9891c4"/><path d="M130.6,287.5 C232.1,279.1 372.8,274.4 474.6,276" stroke="#f6f092"/><path d="M256,431.1 C274.6,341.3 378,294.5 457.7,339.7" stroke="#319357"/><path d="M134.2,306.2 C222.4,280.8 349.6,330.2 397.6,408.5" stroke="#ada5d4"/><path d="M275.6,435.3 C288.4,341.4 307.1,342.4 309.7,437.1" stroke="#92238b"/><path d="M143.6,194.7 C229.3,230.7 316.1,343.2 329.3,435.1" stroke="#e6e6e6"/><path d="M143.9,334.5 C235.6,287.4 359,223.1 450.1,174.9" stroke="#dc5faa"/><path d="M261,432.4 C278.5,340.2 338.9,334.7 372.8,422.2" stroke="#f4beca"/><path d="M176.4,145.4 C244.7,210.1 380.7,258.7 474.6,252" stroke="#e8805a"/><path d="M154.7,355 C229.6,302.5 347.3,332.5 387.8,414.5" stroke="#e9e7f2"/><path d="M202.4,405.8 C250.2,327.2 355.5,325.8 405.3,403.1" stroke="#9993c5"/><path d="M134.2,306.5 C225.5,283.5 367.9,307.6 446.6,359.2" stroke="#58aeca"/><path d="M244.1,427.3 C269,338.8 370.7,308.1 440.5,368" stroke="#7d7d7d"/><path d="M144.3,335.5 C225.2,292.5 329.3,341.4 347.9,431.1" stroke="#6c6c6c"/><path d="M240.5,426 C271.8,330.6 302.1,191.4 313.1,91.7" stroke="#7c7c7c"/><path d="M218.2,415.7 C258.2,331.6 336.8,336.7 365.5,425.2" stroke="#f171a5"/><path d="M156.1,357.3 C231.9,305.3 369,310.1 441,367.3" stroke="#54adc9"/><path d="M248.7,99.7 C280.2,190.7 364.2,309.1 439.7,369" stroke="#588fc2"/><path d="M132.5,229.7 C223.7,246.7 331.2,339 361.6,426.7" stroke="#b36a4f"/><path d="M140.7,326.9 C239.6,295.1 370.2,250.4 467.8,214.9" stroke="#bce3c5"/><path d="M147.4,186.8 C241.9,227.6 370.1,282 465.2,321.6" stroke="#da56a5"/><path d="M134,222.9 C224.9,244.3 333.3,337.6 368,424.2" stroke="#f07cb4"/><path d="M132,232.2 C227.3,248 371.6,232.5 461.3,196.8" stroke="#a75233"/><path d="M268,433.9 C280,342.9 377,296.3 455.6,343.9" stroke="#dedede"/><path d="M211.9,412 C254.5,330.2 352.4,328 398.7,407.8" stroke="#ebe9f3"/><path d="M130.6,287.7 C223.9,274.9 347.3,199.8 401.5,122.8" stroke="#f6f196"/><path d="M152.3,351.1 C232.2,303.3 374.6,297.9 457.9,339.4" stroke="#60b2cd"/><path d="M280.6,92.6 C299.4,194.5 322.9,330.9 339.2,433.2" stroke="#b4b4b4"/><path d="M202.9,406.1 C251.4,326.7 329.8,339.7 350.1,430.5" stroke="#bfb9de"/><path d="M264.4,433.2 C279.5,343 383.6,270.4 473.4,287.5" stroke="#f7f2a1"/><path d="M266.3,95 C281.8,187.9 330.5,190.6 356,99.9" stroke="#4ba6b2"/><path d="M154.6,173.7 C234.7,223 377.7,242.2 468,215.7" stroke="#dc5faa"/><path d="M138.2,208.7 C228.3,238.5 373.1,232.1 460.3,194.6" stroke="#ed70ae"/><path d="M267.9,433.9 C280.4,341.8 359.8,320.2 417.2,393.3" stroke="#dedede"/><path d="M247.6,428.5 C273.8,337.9 317,341.7 327.1,435.5" stroke="#838383"/><path d="M275.8,93.3 C297.7,195 322.9,330.5 339,433.3" stroke="#943b1f"/><path d="M262.7,432.8 C279.6,340.4 336,336 367.1,424.6" stroke="#f0669e"/><path d="M153.4,352.8 C229,300.6 325.2,342.4 338.6,433.4" stroke="#66b5ce"/><path d="M129.1,271 C223.9,268 360.8,315.8 433.1,377.2" stroke="#e8dd51"/><path d="M144.1,193.6 C232.2,231.3 376.7,244.8 470.3,224" stroke="#ef83b9"/><path d="M158,168.4 C231.6,224.7 310.3,184 306.7,91.4" stroke="#ad6953"/><path d="M182.6,139.1 C250.4,207.4 377.8,277 471.9,297.1" stroke="#f6f090"/><path d="M129.2,257 C224.7,262.5 359.8,315.7 433.5,376.8" stroke="#e36435"/><path d="M255.4,430.9 C275,339.8 350.9,327.9 397.5,408.6" stroke="#aeaeae"/><path d="M234.1,423.4 C267.9,337.6 382.7,259.1 474.9,258.7" stroke="#f16fa3"/><path d="M161.9,162.7 C246.1,217.9 371.9,284.3 464.9,322.5" stroke="#f28f74"/><path d="M151.3,349.3 C233.6,301.9 325.8,190 356.4,100.1" stroke="#54acc9"/><path d="M164.4,369.2 C241.2,305.2 339.2,201.2 398.5,120.7" stroke="#c5222d"/><path d="M160.3,363.6 C232.9,307.8 365.5,315.6 431,379.6" stroke="#6799c8"/><path d="M145.4,337.8 C229.9,300.8 305.4,183.6 304.1,91.3" stroke="#3d9961"/><path d="M229.3,421.3 C262.3,335.5 367.7,312.6 433.3,377" stroke="#35b1e5"/><path d="M234,423.4 C272,336.4 373.5,232.9 459.7,193.1" stroke="#ef83b9"/><path d="M180.1,387.1 C247.3,320.3 380.3,263 474.9,260.1" stroke="#e05421"/><path d="M137.2,211.6 C226.2,238.5 324.5,341.2 347.6,431.2" stroke="#f080b6"/><path d="M146.4,339.8 C233.2,299.4 377.3,281.5 471.4,299.3" stroke="#f6f197"/><path d="M171.8,378.2 C236.9,313.9 356.9,325 409.1,400.2" stroke="#847cb9"/><path d="M131.7,234 C232.4,246.7 373.3,255.6 474.8,255.7" stroke="#9f4322"/><path d="M285.6,436.5 C288.3,344 371.6,305.5 443.8,363.4" stroke="#860b7e"/><path d="M160.8,364.3 C237.1,309.8 378.7,284.1 469.3,308.4" stroke="#e3f1ba"/><path d="M211.9,116.6 C254.7,197.5 371.8,221.5 442.9,164" stroke="#83cd91"/><path d="M167.6,155.4 C244.5,214.5 377.6,272 473.4,287.4" stroke="#f7f19a"/><path d="M172.7,379.2 C240.3,316.2 378.2,290.4 464.1,324.8" stroke="#3ab3e5"/><path d="M236.3,104.2 C275.9,193.3 363,309 437.7,371.7" stroke="#459d67"/><path d="M165,369.9 C234,309.8 353.7,327.8 402,405.5" stroke="#b3acd7"/><path d="M148.9,344.9 C228.3,299 361.6,319.8 423.2,387.8" stroke="#349559"/><path d="M277,435.5 C287.3,341.7 327.3,338.9 350.5,430.4" stroke="#8f8f8f"/><path d="M137.6,210.3 C233.9,237.3 375.1,259.5 475,263.3" stroke="#e8835e"/><path d="M204.7,407.3 C251.2,328.2 360.5,321.3 416.5,394" stroke="#b1c6d4"/><path d="M146.9,187.6 C237.4,228 376.1,265.6 474.6,276.4" stroke="#eae061"/><path d="M159.1,361.8 C231.3,305.2 335.7,338.7 361.5,426.7" stroke="#558dc1"/><path d="M149.7,182.2 C233.4,226.6 377.3,242.9 468.8,218.4" stroke="#f082b7"/><path d="M192,397.9 C246.4,322.5 327.1,340.8 343.8,432.2" stroke="#a0a0a0"/><path d="M176.7,145 C244.9,210.5 303.8,342.7 306.9,437.2" stroke="#860a7e"/><path d="M156.1,357.3 C243.8,307.2 372.1,246.9 466.7,211.3" stroke="#f186b9"/><path d="M176.4,145.3 C246.1,217.8 334.5,329.3 389.3,413.7" stroke="#ef2f37"/><path d="M138.7,321.4 C236.8,292.9 372.9,258.6 472.9,237.2" stroke="#a6dab2"/><path d="M137.8,209.9 C226.9,239 331.3,337.9 365.1,425.4" stroke="#f279aa"/><path d="M176.8,383.7 C238.9,316.2 351.3,329.5 395.9,409.6" stroke="#aac1d0"/><path d="M129.7,248.9 C232.4,252.3 372,254.9 474.8,255.3" stroke="#e15c2c"/><path d="M146.4,188.7 C235.9,238.4 356.4,309.9 443,364.6" stroke="#3074b4"/><path d="M241.6,426.4 C270.2,339.3 383.4,265.4 474.7,274.3" stroke="#959595"/><path d="M150.2,181.4 C227.9,229.6 349.5,197.6 393.5,117.5" stroke="#df6db1"/><path d="M130.2,244.1 C228.5,252 371.9,238.7 467.1,212.7" stroke="#f18cbd"/><path d="M242.3,426.7 C284.5,330.8 333.1,203 365.3,103.3" stroke="#8f8f8f"/><path d="M162,366 C241.7,311 378.2,261.8 474.7,253.3" stroke="#6195c5"/><path d="M183.3,390.1 C243.8,321.1 377.4,294.6 459.8,335.3" stroke="#b4c8d6"/><path d="M129.5,277.3 C220.5,266.6 332.4,340 358.7,427.7" stroke="#e7dc4b"/><path d="M141.8,329.7 C224.3,289.8 329.8,341.3 349.2,430.7" stroke="#838383"/><path d="M211.4,411.6 C254.2,330.4 362.9,318.6 422.2,388.7" stroke="#acc2d1"/><path d="M155.9,357 C235.2,308.1 306.1,184.5 308.2,91.4" stroke="#903518"/><path d="M221.5,417.4 C272.2,330.8 356.6,216 424.1,141.8" stroke="#f2575d"/><path d="M235.2,104.7 C266.3,190.7 382.3,249.1 470,222.8" stroke="#f4a1c9"/><path d="M135.1,309.7 C222,281.3 338.7,337.4 370.8,423" stroke="#e5f2bf"/><path d="M184.1,137.7 C256.4,208.2 365.6,298.7 448.3,356.7" stroke="#75bcd3"/><path d="M199.2,403.4 C250.9,325.2 309.4,343.5 307.5,437.2" stroke="#bdb7dd"/><path d="M257.6,431.5 C277,342 383.7,264.3 474.8,273.1" stroke="#a2a2a2"/><path d="M200.1,404.1 C249.3,326.8 365.1,316.3 427.4,383.5" stroke="#bcb6dc"/><path d="M175.8,382.7 C250.9,317.7 372.1,240.8 462.8,200.6" stroke="#a7bfce"/><path d="M164.7,369.5 C234.3,308.5 317.6,343.6 322.5,436.1" stroke="#9c3796"/><path d="M231.8,422.4 C268.2,327.2 312.3,193.6 339.8,95.5" stroke="#f48bb5"/><path d="M251.8,429.9 C272.8,339.6 360.6,320 418,392.7" stroke="#bfd0dc"/><path d="M256,97.5 C277.5,200 312,332.4 343,432.4" stroke="#b6b6b6"/><path d="M178.4,385.3 C239.6,316.9 347.8,331.9 388.2,414.3" stroke="#eceaf4"/><path d="M189.5,132.9 C244.6,206 362.7,209.4 421.9,139.6" stroke="#ce444e"/><path d="M220.4,111.8 C263.9,206.2 324.5,330 372.6,422.3" stroke="#9ad6a5"/><path d="M129,260.6 C232.9,269.2 370.3,275.9 474.5,277.7" stroke="#e15c2b"/><path d="M142.8,196.6 C227.6,234.4 368.4,219.3 443.3,164.4" stroke="#f2896c"/><path d="M199.9,124.6 C255.5,209.2 324.6,332.8 367.5,424.4" stroke="#f27cac"/><path d="M151.4,349.4 C234.6,299.5 336.8,196.7 386.3,113.2" stroke="#88cf95"/><path d="M141.2,200.5 C233,242.1 356.8,311.7 440.1,368.5" stroke="#6899c8"/><path d="M198.9,403.2 C250.5,327.4 379.6,289 464.3,324.3" stroke="#b0deba"/><path d="M143.8,194.4 C229.6,231.5 322,341.2 344.1,432.1" stroke="#ed71af"/><path d="M296.2,91.4 C297.1,186.1 323.1,188.8 343.8,96.4" stroke="#9c4a31"/><path d="M234.5,423.6 C276.9,333.8 356.4,214.3 422.8,140.4" stroke="#f48fb8"/><path d="M129,261.1 C224.5,264.2 360.2,315.5 433.8,376.3" stroke="#2caee4"/><path d="M297.1,91.4 C302.9,188.9 342.2,328.1 388.3,414.2" stroke="#9d4b32"/><path d="M139.1,322.5 C233.1,292.7 375.9,273.8 474.4,278.1" stroke="#b0debb"/><path d="M141.9,329.8 C224.3,290.1 334,339.7 358.6,427.8" stroke="#a8dbb4"/><path d="M129.4,275.7 C221.3,272.6 330.1,188.2 356,99.9" stroke="#e5d938"/><path d="M179.4,386.3 C240.7,316.8 325.1,341.7 338.8,433.3" stroke="#aac1d0"/><path d="M232.8,422.9 C264.9,335.3 339.9,334.9 372.9,422.1" stroke="#f388b3"/><path d="M140.2,202.9 C239.6,233.9 369.9,278.5 467.4,314.9" stroke="#dceea9"/><path d="M170.7,376.9 C253.7,314 360.7,227.5 439.5,159.3" stroke="#f28769"/><path d="M214.8,114.9 C261.1,196 381.1,274 473.9,283.4" stroke="#f8f3a6"/><path d="M162.2,366.2 C247,310.7 370.1,241.2 461.5,197.3" stroke="#ed6dad"/><path d="M234.8,423.7 C266.7,335.5 327.7,339.5 347.8,431.1" stroke="#888888"/><path d="M257.2,431.4 C275.7,341.8 382.3,280.3 469.1,309" stroke="#b8b8b8"/><path d="M156.4,357.7 C231,304.7 361.5,320.2 421.7,389.2" stroke="#a8bfcf"/><path d="M230,107 C264.7,191.8 383,255.8 473,238.3" stroke="#af6347"/><path d="M190.8,396.8 C247.2,324.4 379.1,290.2 463.6,326.2" stroke="#bbe2c4"/><path d="M130.8,239.3 C220.7,256.6 334.8,189.5 363.3,102.5" stroke="#309255"/><path d="M249,99.6 C279.2,190 368.8,304.1 449.4,354.9" stroke="#4ba6b3"/><path d="M129.1,270.7 C228.2,262.9 368.2,231.7 461.2,196.6" stroke="#e8de53"/><path d="M212.7,116.1 C260.6,206 320.7,333.3 359.5,427.5" stroke="#87cf94"/><path d="M174.1,147.8 C239.6,212.1 374.7,227.9 453.3,180.5" stroke="#d7489e"/><path d="M134.5,307.5 C221.5,279.4 324.4,343.1 338.1,433.5" stroke="#9c9c9c"/><path d="M135.6,216.8 C225.3,240.7 325.3,341.1 348.8,430.9" stroke="#6d6d6d"/><path d="M162.5,162 C233.1,220.1 357.1,203.7 410.2,129.3" stroke="#c41e2a"/><path d="M228.3,420.8 C266.9,328.8 305.2,191 319.6,92.2" stroke="#f170a4"/><path d="M142.8,196.5 C236.7,231.6 375,266.6 474.3,280.4" stroke="#f08abd"/><path d="M240.3,425.9 C267.4,337.6 361.5,319.4 419.5,391.2" stroke="#a9c0cf"/><path d="M129,267.5 C221.5,263.8 344.3,332.7 389.4,413.6" stroke="#ebe9f3"/><path d="M142.9,196.5 C240.8,231.4 369.4,281 465.5,320.9" stroke="#b5e0bf"/><path d="M194.8,400.1 C259.1,324.8 368.6,231.7 453.2,180.3" stroke="#dd61ab"/><path d="M146.5,188.5 C233.5,234.9 346.9,323.8 412.7,397.2" stroke="#d84a9f"/><path d="M252.9,430.2 C273,340.4 371.3,307 442,366" stroke="#afafaf"/><path d="M130.2,244 C224.7,254.3 365.4,218.9 443.8,165.3" stroke="#f18365"/><path d="M169.3,153.4 C241.5,213.9 306.6,342.9 312.5,437" stroke="#f3967c"/><path d="M150.9,348.6 C239.1,303.7 376.1,259.9 473.9,245.2" stroke="#7fc1d6"/><path d="M239.8,425.7 C270.3,336.5 312.6,342.4 317.4,436.6" stroke="#8c1785"/><path d="M175.7,146.1 C241.1,211 377.5,235.2 461.2,196.6" stroke="#ef81b8"/><path d="M277.2,93.1 C297.1,193 331.1,329.6 360.5,427.1" stroke="#ad6853"/><path d="M181.8,388.7 C241.5,319.4 365.3,316.3 428.4,382.4" stroke="#bcceda"/><path d="M154.5,354.7 C238.2,306.1 378.2,267.9 475,267" stroke="#63b4ce"/><path d="M129.3,254.6 C224.3,258.9 362.7,215.5 438.2,157.6" stroke="#e25d2d"/><path d="M181.4,140.2 C242.5,210.9 310,184.7 307.4,91.4" stroke="#984329"/><path d="M217.8,113.2 C257.1,195.9 369.1,217.6 436.5,155.4" stroke="#f07756"/><path d="M262.6,432.7 C278.1,342.6 382.5,279.3 469.6,307.1" stroke="#deefae"/><path d="M189.4,395.6 C245.2,321.4 327.5,340.7 344.5,432" stroke="#b3b3b3"/><path d="M194.6,399.9 C247,324.9 367.5,313.4 433.2,377.1" stroke="#877fbb"/><path d="M224.4,418.9 C275.6,329.7 346.8,209.8 400.5,122.1" stroke="#f6cdd6"/><path d="M263.6,95.6 C281.2,188.3 321.4,188 337.3,94.9" stroke="#2593a2"/><path d="M170.9,377.1 C243.7,308.8 334.9,198.7 388.4,114.4" stroke="#39b3e5"/><path d="M199.7,124.8 C250.4,203.2 321,186.6 331.4,93.8" stroke="#d45e67"/><path d="M262.2,95.9 C280.6,186.1 381.4,280.6 472.6,293.1" stroke="#f7f19a"/><path d="M244.6,427.5 C275.2,339 376.7,237.4 465.2,206.8" stroke="#868686"/><path d="M240.1,425.9 C269,336.7 331.4,338.2 355.8,428.7" stroke="#959595"/><path d="M129.1,259.2 C226.7,259.1 368,227.7 456.4,186.4" stroke="#da55a5"/><path d="M175,146.9 C240.9,211.3 377.8,236.2 462.2,199.1" stroke="#f04047"/><path d="M161.1,364.7 C232.2,307 346,333.3 384.5,416.4" stroke="#5f93c5"/><path d="M164.4,159.4 C239.1,216.5 379.5,249.2 471.8,231" stroke="#b1654a"/><path d="M203.8,406.7 C257.8,329.1 379.2,250.3 472.1,232.5" stroke="#b5aed8"/><path d="M154.5,173.9 C240.3,234.1 356,306.9 447.4,358.1" stroke="#5bb0cb"/><path d="M199.7,403.8 C250.3,325.4 322.4,341.7 334.3,434.3" stroke="#e0e0e0"/><path d="M294.4,91.5 C292.4,183.2 382,247.8 468.4,216.9" stroke="#f39dc7"/><path d="M135.7,311.9 C227.1,286.5 371.4,300.1 456.5,342.1" stroke="#e1f0b6"/><path d="M138.9,322.1 C224.1,288.1 353.5,327.4 405.4,403" stroke="#9e98c8"/><path d="M198.3,125.8 C255.4,201.3 379.6,275.7 473,290.6" stroke="#ce454f"/><path d="M207.8,119.2 C255,200.4 309.6,185.3 308.6,91.4" stroke="#8fd29b"/><path d="M212.8,412.6 C254.9,331.1 367.4,313.4 432.5,377.9" stroke="#eae8f3"/><path d="M252.4,430 C274.8,341.2 383.6,265 474.7,274.4" stroke="#adadad"/><path d="M220.6,417 C260.1,334.3 381.9,280.9 469.4,307.9" stroke="#deefad"/><path d="M144,193.8 C229.5,230.4 316.1,343.1 329.5,435.1" stroke="#ef7eb6"/><path d="M136.9,212.5 C225.1,241.8 364.1,213.6 433.8,152.3" stroke="#f296c2"/><path d="M129.3,253.9 C231.6,254.5 371.8,250.7 473.9,244.4" stroke="#9b3b18"/><path d="M208.4,409.8 C253.5,330.3 375.5,300.3 452.4,349.8" stroke="#e8e6f2"/><path d="M136,215.8 C238.1,238.8 369.8,275.6 469.2,308.7" stroke="#e5f2c0"/><path d="M159.3,362.2 C236.4,308.8 378.3,285.7 468.3,311.9" stroke="#deefae"/><path d="M156.3,357.6 C230.6,304.3 356.1,325.7 408.5,400.7" stroke="#948dc2"/><path d="M197.2,402 C249.3,324.5 318.9,342.5 326.9,435.5" stroke="#dddddd"/><path d="M200.8,404.6 C249.5,326.5 352.3,328.3 398.3,408" stroke="#aea7d5"/><path d="M129.1,269.1 C225.1,264.5 362.1,216.4 439.9,159.8" stroke="#f2896c"/><path d="M268.6,434 C284,340.8 317.8,341.3 330.4,434.9" stroke="#e5e5e5"/><path d="M131.9,295.9 C221.2,275.4 340.7,336 376.9,420.2" stroke="#f7f2a0"/><path d="M139.9,203.9 C225,238.8 358.6,206.2 418,136" stroke="#f2565c"/><path d="M135.7,216.5 C238.4,239.1 369.4,276.4 468.5,311.3" stroke="#f07db4"/><path d="M151.8,350.1 C228.5,299.2 321.1,343.4 329.7,435.1" stroke="#60b2cd"/><path d="M139.3,323.1 C223.5,286.2 311.5,345.3 309.1,437.2" stroke="#b9e2c3"/><path d="M184.8,137.1 C248.5,208 304.4,341.9 309.9,437.1" stroke="#f2565c"/><path d="M288.4,91.8 C289.4,184 377.1,233.1 456.3,186" stroke="#a35840"/><path d="M254.2,430.6 C275.2,339.3 339,334.8 372.7,422.2" stroke="#f5c5cf"/><path d="M150,181.7 C235.6,225.9 378,254.1 474,245.8" stroke="#dd63ac"/><path d="M176.7,145.1 C239.2,211.8 362.4,209 421.8,139.5" stroke="#ef2d35"/><path d="M191.9,397.8 C251.8,320.4 314.5,190.1 337.7,95" stroke="#928bc1"/><path d="M130.7,240.3 C229.3,250.2 372.8,242.4 469.7,221.9" stroke="#ad5d40"/><path d="M198.3,402.7 C248.9,325.1 335.4,337.8 361.6,426.7" stroke="#f170a4"/><path d="M268.6,434 C294.2,334.3 330,199.7 357.3,100.4" stroke="#e5e5e5"/><path d="M261.4,432.5 C277.5,340.9 357.4,322.6 411.7,398.1" stroke="#8b83bd"/><path d="M156.1,357.2 C230.1,302.8 331.2,340.5 351.6,430" stroke="#50abc8"/><path d="M130.1,244.6 C229.5,260.8 367.2,296.2 462.1,329.9" stroke="#af6247"/><path d="M137.8,209.7 C232.8,237.4 375.6,254.4 474.4,250" stroke="#f082b7"/><path d="M214.5,413.5 C256,330.7 345.7,332.3 384.2,416.5" stroke="#e9e7f2"/><path d="M184.6,137.2 C250.3,206.5 379,273.7 473.3,288.1" stroke="#f04047"/><path d="M245.1,427.7 C279.6,336.8 361.6,217.3 434,152.5" stroke="#f39378"/><path d="M139.5,323.5 C235.3,293.5 374.8,264.8 474.7,254.5" stroke="#b8e1c1"/><path d="M228.1,107.9 C262.1,194.1 350.4,199.6 394.9,118.4" stroke="#3f9a62"/><path d="M129.1,270.8 C229.1,271.4 370.9,289.2 467.9,313.3" stroke="#deefad"/><path d="M309.4,437.1 C309.6,345.6 222.3,246.6 131.4,235.4" stroke="#b01c78"/><path d="M315.9,436.7 C306.5,341.2 250.1,207.4 188.3,134" stroke="#cf4b54"/><path d="M278.1,435.6 C291.2,342.3 366.6,219.2 443.8,165.1" stroke="#909090"/><path d="M291.2,437 C295.3,342.3 316.5,341.3 330,435" stroke="#6a9a6a"/><path d="M273.5,434.9 C294.5,336.8 338.7,201.3 379.5,109.6" stroke="#6a9a6a"/><path d="M291.4,437 C297.3,342.9 362.5,214 434.8,153.5" stroke="#c0a040"/><path d="M311.4,437 C311.4,345.6 220.4,257.8 129,261.1" stroke="#c42a6c"/><path d="M277.6,435.6 C285,344.4 383.2,274.9 471.6,298.3" stroke="#e04050"/><path d="M279.4,435.8 C298.5,334.7 326.3,198.1 348,97.5" stroke="#47a4b1"/><path d="M314.7,436.8 C311,342.5 273.1,337.5 245.2,427.7" stroke="#d0407e"/><path d="M307.1,437.2 C302.4,341.2 253.6,204.5 196.5,127.2" stroke="#d0407e"/><path d="M315.6,436.8 C313.9,343.6 242.4,317.9 181.9,388.8" stroke="#b7cbd7"/><path d="M283.5,436.3 C289.1,342.5 343.5,331.8 384.1,416.6" stroke="#c42a6c"/><path d="M313.3,436.9 C311.8,343.1 255.9,328.9 210,410.8" stroke="#ecebf4"/><path d="M314.6,436.8 C313.2,343.4 246.6,321.9 190.7,396.8" stroke="#9791c4"/><path d="M323.1,436 C318.1,344.1 226.4,294.6 146.8,340.6" stroke="#9a1888"/><path d="M307.9,437.2 C297.9,333 291.1,196.3 290.7,91.7" stroke="#9a1888"/><path d="M304.5,437.3 C309,345.8 220.5,270.9 131,290.5" stroke="#f7f3a3"/><path d="M320.6,436.3 C310.9,343 236.5,219.7 158.6,167.6" stroke="#f38f74"/><path d="M312.4,437 C312.1,343.5 246.5,321.7 190.2,396.3" stroke="#6a9a6a"/><path d="M319.5,436.4 C313.4,342.3 272.5,337.3 244.3,427.4" stroke="#c0a040"/><path d="M311.4,437 C311.5,343.5 247.4,322.5 192.2,398" stroke="#9791c4"/><path d="M283.8,436.3 C288.3,343 355.5,323.6 409,400.3" stroke="#9791c4"/><path d="M289.1,436.8 C292,345.2 381.6,246.7 472.5,235.2" stroke="#9a1888"/><path d="M279.6,435.8 C285.6,343.3 367.1,312 433.5,376.7" stroke="#49b9e7"/><path d="M322.3,436.1 C317.3,344.7 221.3,277.7 133.7,304.5" stroke="#8a80b8"/><path d="M275.7,435.3 C284.9,342.1 348.7,328.9 394.2,410.7" stroke="#b6afd9"/><path d="M281.2,436 C288.6,344.6 381.6,247 472.5,235.1" stroke="#ac5c3f"/><path d="M291.2,437 C294.6,344.7 375.6,231 461.7,197.8" stroke="#ef83b9"/><path d="M304.3,437.3 C308.2,343.8 245.8,320.9 188.3,394.7" stroke="#909090"/><path d="M278.6,435.7 C287.9,344.2 380.2,242.6 470.4,224.5" stroke="#b01c78"/><path d="M305.6,437.3 C297.2,333.6 289.7,196 286.7,92" stroke="#8a80b8"/><path d="M287.5,436.7 C289.3,345.1 382.4,279 469.5,307.6" stroke="#b01c78"/><path d="M320.2,436.3 C313.3,342.1 277.9,339.1 255.3,430.9" stroke="#b01c78"/><path d="M284.4,436.4 C288.2,343.4 362.1,317.6 422.9,388" stroke="#b7cbd7"/><path d="M322.5,436.1 C308.6,340.2 252.4,206.5 193.5,129.5" stroke="#cf4b54"/><path d="M317.7,436.6 C314.9,343.4 242.8,318.4 182.9,389.8" stroke="#c42a6c"/><path d="M290.3,436.9 C294.5,342.3 320.3,340.5 337.5,433.6" stroke="#c0a040"/><path d="M277.8,435.6 C289.6,343.3 373.1,227.7 457,187.5" stroke="#9a1888"/><path d="M286.3,436.6 C292,342.2 325.8,339.2 348.3,431" stroke="#898989"/><path d="M309.7,437.1 C298.5,333 290.8,196.5 290.3,91.7" stroke="#a3563e"/><path d="M283.6,436.3 C287.9,344.9 383.6,271 473.1,290" stroke="#6a9a6a"/><path d="M286.6,436.6 C288.8,344.9 381.7,282.3 467.5,314.6" stroke="#909090"/><path d="M315.9,436.7 C314.7,344.8 224.2,288.8 141.4,328.5" stroke="#e04050"/><path d="M288.2,436.8 C302.4,334.4 321.2,196.8 335,94.5" stroke="#6a9a6a"/><path d="M307.8,437.2 C310.3,344 240.2,315.3 176.7,383.5" stroke="#b7cbd7"/><path d="M288.2,436.7 C296.8,342 358.5,210.7 426,143.6" stroke="#f1494f"/><path d="M308.1,437.2 C306.5,344.4 232.9,223.5 151.3,179.4" stroke="#909090"/><path d="M278.9,435.8 C292,342 364.1,216.5 438.4,157.9" stroke="#c42a6c"/><path d="M278.7,435.7 C285.8,344.6 383.7,270 473.5,287.4" stroke="#c0a040"/><path d="M312.3,437 C312.7,344.1 236,310.4 167.8,373.5" stroke="#49b9e7"/><path d="M314,436.9 C302.6,337.3 270.8,198.3 237.9,103.6" stroke="#8a80b8"/><path d="M288.7,436.8 C293.1,342.4 326.8,338.8 350.6,430.3" stroke="#b01c78"/><path d="M287.8,436.7 C293.4,342.2 318.6,340.9 333.9,434.3" stroke="#8a80b8"/><path d="M279.4,435.8 C295.9,338.6 344.1,202.8 392.8,117.1" stroke="#c42a6c"/><path d="M283.4,436.3 C287.6,343.3 362.5,317.2 423.7,387.2" stroke="#8a80b8"/><path d="M273.7,435 C285.6,341.4 328,338.7 351.6,430" stroke="#898989"/><path d="M304.2,437.3 C309.1,345.6 222.3,281.8 136.3,314" stroke="#e3f1b9"/><path d="M307.9,437.2 C304.8,343.2 241.3,213.7 169,153.7" stroke="#f38f74"/><path d="M287,436.7 C290.8,345.2 382.5,250.4 473.8,243.8" stroke="#c42a6c"/><path d="M314.8,436.8 C308.9,342.2 296.7,342.3 292.6,437" stroke="#9e3b97"/><path d="M312,437 C305.4,342 247.2,209.1 181.9,139.8" stroke="#f1494f"/><path d="M321.8,436.2 C317.5,344.3 226.1,293.8 146,339" stroke="#d0407e"/><path d="M315.2,436.8 C311.1,344.9 225.8,236.6 137.4,211.2" stroke="#c42a6c"/><path d="M318.6,436.5 C315.8,343.9 234.4,308.5 164.7,369.5" stroke="#909090"/><path d="M310.9,437.1 C312.2,344.3 234.4,308.2 164.3,369" stroke="#d0407e"/><path d="M318,436.6 C307.7,341.4 247.8,209.2 183,138.7" stroke="#c0a040"/><path d="M308.8,437.2 C298,332.6 292.4,196.5 294.6,91.5" stroke="#a3563e"/><path d="M311.6,437 C304.6,341.3 251.5,206.1 191.6,131.1" stroke="#e04050"/><path d="M284.7,436.4 C292.9,342 307.2,342.3 310.8,437.1" stroke="#b01c78"/><path d="M274.8,435.1 C286.9,341.4 319.4,340.9 334.3,434.2" stroke="#d0407e"/><path d="M321.9,436.2 C316.9,344.8 220.6,272.9 131.6,294.2" stroke="#c42a6c"/><path d="M272.7,434.8 C286.8,341.1 309.8,342.3 314.7,436.8" stroke="#6a9a6a"/><path d="M287.9,436.7 C289.5,343.9 367.8,310.9 435.4,374.5" stroke="#49b9e7"/><path d="M282.9,436.2 C288.5,342.6 346.2,330.3 389.6,413.5" stroke="#ecebf4"/><path d="M318.3,436.5 C314.7,343.1 249.5,324.4 197.1,401.9" stroke="#8a80b8"/><path d="M277,435.5 C286.2,341.9 339.7,334 375.7,420.8" stroke="#b01c78"/><path d="M304.7,437.3 C306,342.7 273.8,337.6 245.6,427.9" stroke="#898989"/><path d="M311.5,437 C309.8,342.7 268.7,335.7 236,424.2" stroke="#e04050"/><path d="M317.6,436.6 C314.5,343.2 248.4,323.5 194.7,400" stroke="#9791c4"/><path d="M285.2,436.5 C297.9,339.3 344.8,202.6 394.3,118" stroke="#99d6a4"/><path d="M319,436.5 C315,345.1 220.2,261.2 129,268.2" stroke="#c0a040"/><path d="M314.1,436.9 C312,342.9 258.5,330.6 215.4,414" stroke="#ecebf4"/><path d="M289.3,436.8 C289.9,345 380.9,285.1 465.5,320.7" stroke="#c0a040"/><path d="M277.6,435.6 C284.4,343.7 375.8,298.6 452.8,349" stroke="#6eb9d1"/><path d="M315.8,91.9 C314.6,184.4 231.8,224 158.9,167.1" stroke="#f17d5e"/><path d="M359.9,101.3 C320.8,195.4 260.8,322.7 213.1,412.7" stroke="#eeecf5"/><path d="M320.6,92.3 C305.2,191.6 269.6,329.4 235,423.8" stroke="#9c4a30"/><path d="M275.7,93.3 C293.3,189.1 351.1,321.9 409.2,400.1" stroke="#a55a43"/><path d="M356,99.9 C333.2,189.2 235.3,217.7 168.2,154.6" stroke="#63ad80"/><path d="M366.3,103.7 C332.7,190.6 224.7,284.1 133.8,305" stroke="#e2f0b7"/><path d="M312.1,91.6 C307.8,186.3 293.6,186.5 286.3,92" stroke="#a1543b"/><path d="M310.6,91.5 C310.3,183 221.9,280.5 130.9,289.7" stroke="#9f5037"/><path d="M318.7,92.1 C307.1,188.1 252.9,322.8 194.8,400.1" stroke="#9c96c7"/><path d="M239.3,103.1 C275.4,191.7 369.2,302.5 450.7,352.7" stroke="#6fbad1"/><path d="M322.8,92.6 C311.6,185.9 237.3,309.5 160,363.2" stroke="#6296c6"/><path d="M339,95.3 C325.2,186.9 239.2,213.4 176.3,145.4" stroke="#41a1ae"/><path d="M290.6,91.7 C300.5,189.6 340.9,328.1 385.2,416" stroke="#eeecf5"/><path d="M341.4,95.9 C325.6,185.9 220.8,253.6 132.3,230.9" stroke="#ad5e42"/><path d="M262.1,96 C290,192.8 341.2,325.3 385.7,415.7" stroke="#1b8e9e"/><path d="M364.6,103 C324.4,194.5 251.7,317.5 190.9,396.9" stroke="#479e69"/><path d="M365.4,103.3 C337,191.7 252.5,200.7 206.1,120.3" stroke="#9bd6a6"/><path d="M239.7,102.9 C267.7,191.6 347,197.8 388.4,114.4" stroke="#8bd098"/><path d="M305.7,91.3 C298.8,191.7 275.9,332.1 250.5,429.5" stroke="#a45840"/><path d="M324.5,92.8 C307.3,191.1 265.2,327.8 224.3,418.8" stroke="#8e2f12"/><path d="M349.1,97.8 C328.8,189.1 259.9,196.4 220.9,111.5" stroke="#96d5a2"/><path d="M251.9,98.7 C273.2,187.7 381.4,244.1 466.5,210.7" stroke="#f396c3"/><path d="M247.6,100.1 C274.4,199.9 310.7,333.9 338,433.5" stroke="#b0b0b0"/><path d="M288.5,91.8 C297.9,187.6 352.8,322 413.1,396.9" stroke="#9f4f36"/><path d="M320.8,92.3 C304.6,192.6 274,330.4 246.3,428.1" stroke="#929292"/><path d="M230,107 C267.5,201.8 313.3,334.8 342.2,432.6" stroke="#a1a1a1"/><path d="M342.1,96 C325.1,188.2 264.5,194.2 229.8,107.1" stroke="#64ae80"/><path d="M321,92.3 C307.8,188.6 254.1,323.2 197.4,402.1" stroke="#933a1e"/><path d="M345.8,96.9 C325,186.7 222.8,280.8 131.6,294" stroke="#3199a7"/><path d="M322.3,92.5 C316,183.8 220.7,273.1 129.2,273.5" stroke="#a3573f"/><path d="M258.7,96.8 C276.9,186.4 383.5,257.4 473.2,239.6" stroke="#1c8f9f"/><path d="M232.4,105.9 C265.7,193.6 325.2,188.3 342.5,96.1" stroke="#3a9dab"/><path d="M351.9,98.6 C327.3,187.8 223.5,282.4 132.4,298.6" stroke="#349aa9"/><path d="M318.7,92.1 C305.8,189.6 260.8,326.7 213.3,412.8" stroke="#a45941"/><path d="M276.4,93.2 C294.1,189.7 347.7,323.8 401.4,405.9" stroke="#99452a"/><path d="M267.1,94.9 C283.9,188 310.6,186.4 315.8,91.9" stroke="#8d2e10"/><path d="M275.6,93.3 C298,195.7 320.4,330.5 332.1,434.7" stroke="#994329"/><path d="M288.6,91.8 C291.8,185.9 340.1,195 377.4,108.6" stroke="#93391d"/><path d="M332.3,94 C322.3,185.7 232,223.2 159.9,165.6" stroke="#1a8e9e"/><path d="M355.5,99.8 C328.2,188.6 224.9,286.1 134.7,308.3" stroke="#dceea9"/><path d="M342.5,96.1 C323.5,188.6 285.9,187.3 273.6,93.7" stroke="#4aa6b2"/><path d="M273.2,93.7 C295.6,193.5 331.2,329.2 360.5,427.1" stroke="#a55a43"/><path d="M259.6,96.6 C287,191.1 352,319.8 411.8,398" stroke="#8d86bf"/><path d="M266.9,94.9 C279.9,185.5 382.2,247.7 468.6,217.8" stroke="#3d9fad"/><path d="M260,96.5 C280.3,188.8 311.8,186.4 317.6,92" stroke="#2d97a6"/><path d="M232.1,106.1 C266.2,191.4 383.2,261.6 474.5,251.7" stroke="#459d67"/><path d="M251,99 C283.4,192.1 354.1,317.6 416.9,393.6" stroke="#41a1ae"/><path d="M363.9,102.8 C320.9,197.5 267.3,324.4 229.3,421.3" stroke="#4aa06b"/><path d="M347.5,97.4 C325.9,197 302.4,335.7 290,436.9" stroke="#1a8e9e"/><path d="M266.1,95.1 C292.3,193.3 336.2,327.3 373.3,421.9" stroke="#f5c4ce"/><path d="M276.6,93.2 C297.2,193.6 328.7,329.9 354.3,429.2" stroke="#99442a"/><path d="M247.4,100.1 C273.3,190.7 322,187.8 337.1,94.9" stroke="#2694a3"/><path d="M341.9,96 C324.2,186 221.2,274.1 129.5,277.8" stroke="#e5d939"/><path d="M338.9,95.3 C311.1,194.7 273.9,328.6 246.3,428.1" stroke="#4fa8b4"/><path d="M255.8,97.6 C277.5,199.8 311.4,332.7 341.4,432.8" stroke="#a0a0a0"/><path d="M236.4,104.2 C265.6,191 374.8,226.9 449.8,174.4" stroke="#d6439c"/><path d="M323.5,92.6 C313.6,184.9 229.7,299.1 144.7,336.2" stroke="#aa644e"/><path d="M312.1,91.6 C299.4,195.8 290.8,331.9 290.2,436.9" stroke="#912089"/><path d="M287.3,91.9 C290.4,183.3 383.4,272.4 474.8,271.5" stroke="#e6db44"/><path d="M264.5,95.4 C280.5,185.6 383.4,270 475,268" stroke="#2794a3"/><path d="M296.2,91.4 C296.9,183.7 374.6,299.7 459.7,335.5" stroke="#a8614a"/><path d="M341.6,95.9 C321.8,186.7 227,292.5 139,322.2" stroke="#4ea7b4"/><path d="M282.2,92.4 C290.5,184.5 376.6,294.9 463.8,325.5" stroke="#9a462c"/><path d="M235.7,104.5 C265.2,191.4 370.8,220.3 440.4,160.5" stroke="#f17f60"/><path d="M351.9,98.7 C318,194 260.9,323.6 213.6,413" stroke="#edebf5"/><path d="M325.3,92.9 C319,184.4 224,240 141.1,200.7" stroke="#ab6550"/><path d="M336.8,94.8 C323.3,185.3 220.4,258.3 130.5,241.2" stroke="#4ea7b4"/><path d="M365.9,103.5 C333.3,202.1 287.5,332.4 251.2,429.7" stroke="#5eaa7b"/><path d="M290.6,91.7 C290.7,183.3 382.5,250.1 469.7,222" stroke="#943b1f"/><path d="M332.8,94.1 C322.2,186.3 242.1,210.5 182.1,139.6" stroke="#ee272f"/><path d="M254.8,97.9 C278.3,187.5 379.4,285.9 469.7,307" stroke="#e3f1ba"/><path d="M304,91.3 C298.7,190.8 272.2,331.6 241.1,426.2" stroke="#818181"/><path d="M262.9,95.8 C281.5,186.2 379.8,285.8 470,305.6" stroke="#e4f1bb"/><path d="M255.5,97.7 C288.9,195.3 334,326.8 367.5,424.4" stroke="#2291a1"/><path d="M327.4,93.2 C309.1,190.5 260.5,325.8 212.8,412.5" stroke="#eae9f3"/><path d="M343,96.2 C324.6,199.5 293.4,332.4 264.1,433.1" stroke="#e3e3e3"/><path d="M315.2,91.8 C312.2,183.4 222.3,281.6 131.4,292.7" stroke="#f8f4ae"/><path d="M286.3,92 C290.2,185.8 346.1,198.3 389.5,115.1" stroke="#a1543b"/><path d="M232.9,105.7 C265.8,191.2 382.9,253.8 472.3,233.7" stroke="#3a975d"/><path d="M335.4,94.5 C323.3,186.7 243.2,209.3 184.8,137.1" stroke="#4da7b3"/><path d="M252.7,98.5 C276.3,200 311.9,332.8 342.3,432.5" stroke="#3fa0ad"/><path d="M284,92.2 C295.6,187.4 355.7,319.6 419.9,390.9" stroke="#b5c9d6"/><path d="M241.4,102.2 C274.9,190.6 373.6,296.5 459.4,336" stroke="#409a63"/><path d="M318.4,92.1 C311.6,184.4 229.4,298.9 144.1,335" stroke="#a05139"/><path d="M309,91.4 C309,185.7 264.2,195 226.7,108.6" stroke="#55a674"/><path d="M320.8,92.3 C313.7,184.1 225,289.7 135.8,312.4" stroke="#a2543c"/><path d="M257.7,97.1 C281.8,188.1 371.9,300.8 455.3,344.4" stroke="#47a4b1"/><path d="M332.1,93.9 C307.5,195.8 282.2,330.1 268.2,434" stroke="#e0e0e0"/><path d="M287.1,91.9 C289.7,196.4 298.7,333.3 309.7,437.1" stroke="#a05239"/><path d="M358.2,100.7 C330.4,201 289.9,332.7 256.7,431.3" stroke="#3b985f"/><path d="M334.8,94.4 C322.5,185 220.4,258.2 130.6,240.8" stroke="#349ba9"/><path d="M295.6,91.4 C301,187.4 350.8,323.7 408.6,400.5" stroke="#918ac1"/><path d="M251.5,98.8 C288,196.5 331.6,326.9 361.3,426.8" stroke="#f0679e"/><path d="M339.5,95.4 C311.5,194.6 272.8,328.3 243.7,427.2" stroke="#929292"/><path d="M333.3,94.1 C317.7,185.9 229.4,297.8 143.8,334.4" stroke="#248c4c"/><path d="M332.5,94 C309.5,192.9 269.3,328.2 234.4,423.5" stroke="#f069a0"/><path d="M346.2,97 C321.8,188.2 233.5,302.7 151.4,349.5" stroke="#63b4cd"/><path d="M291,91.6 C290.9,183.3 382.6,250.9 470.1,223.6" stroke="#8d2e10"/><path d="M331.1,93.8 C319.9,197.5 300.2,333.5 281.6,436.1" stroke="#870c7f"/><path d="M285.5,92.1 C291.2,186.3 330.5,190.9 357.6,100.5" stroke="#963f24"/><path d="M303,91.3 C299.2,189.2 264.9,329.6 223.1,418.2" stroke="#a3563e"/><path d="M333.6,94.2 C322.2,186.7 248.6,204.5 196.1,127.5" stroke="#c52531"/><path d="M294,91.5 C293.2,182.9 383.6,271.3 474.9,268.7" stroke="#e8de54"/><path d="M359.3,101.1 C330.8,202.1 286.4,331.1 246.6,428.2" stroke="#288e4f"/><path d="M315.1,91.8 C304.2,189.7 262.6,327.7 217.8,415.4" stroke="#f4c1cc"/><path d="M276.2,93.2 C288.7,187.2 307.5,186.2 310.6,91.5" stroke="#a2553d"/><path d="M371.1,105.7 C329.6,193.9 240.1,307.8 164.3,369" stroke="#6195c6"/><path d="M287.8,91.9 C292.5,186.3 327.7,190 352.2,98.7" stroke="#2b96a5"/><path d="M261.5,96.1 C277.5,186.2 381.8,246 467.6,214.3" stroke="#3b9eac"/><path d="M339.7,95.5 C317.4,188.5 241.4,312.2 168.4,374.2" stroke="#2d97a6"/></g>
<path d="M302.6,88.3 A176,176 0 0 1 329.2,90.4 L331.1,78.6 A188,188 0 0 0 302.7,76.3 Z" fill="#9c9c9c" stroke="#7a7a7a" stroke-width="0.4"/><path d="M331.4,90.8 A176,176 0 0 1 353.2,95.9 L356.7,84.4 A188,188 0 0 0 333.4,78.9 Z" fill="#9c9c9c" stroke="#7a7a7a" stroke-width="0.4"/><path d="M356.4,96.9 A176,176 0 0 1 374.1,103.8 L379.1,92.8 A188,188 0 0 0 360.1,85.5 Z" fill="#9c9c9c" stroke="#7a7a7a" stroke-width="0.4"/><path d="M377.8,105.4 A176,176 0 0 1 396.6,115.9 L403,105.7 A188,188 0 0 0 382.9,94.6 Z" fill="#9c9c9c" stroke="#7a7a7a" stroke-width="0.4"/><path d="M399.4,117.7 A176,176 0 0 1 414.9,129.3 L422.6,120.1 A188,188 0 0 0 406,107.7 Z" fill="#9c9c9c" stroke="#7a7a7a" stroke-width="0.4"/><path d="M417.5,131.5 A176,176 0 0 1 432,145.6 L440.8,137.5 A188,188 0 0 0 425.3,122.4 Z" fill="#9c9c9c" stroke="#7a7a7a" stroke-width="0.4"/><path d="M434.2,148.1 A176,176 0 0 1 447.6,165.4 L457.5,158.6 A188,188 0 0 0 443.2,140.2 Z" fill="#9c9c9c" stroke="#7a7a7a" stroke-width="0.4"/><path d="M449.4,168.2 A176,176 0 0 1 460.7,188.3 L471.5,183.1 A188,188 0 0 0 459.5,161.6 Z" fill="#9c9c9c" stroke="#7a7a7a" stroke-width="0.4"/><path d="M461.8,190.5 A176,176 0 0 1 468,205.8 L479.3,201.9 A188,188 0 0 0 472.7,185.4 Z" fill="#9c9c9c" stroke="#7a7a7a" stroke-width="0.4"/><path d="M468.8,208.2 A176,176 0 0 1 473.6,225 L485.3,222.3 A188,188 0 0 0 480.2,204.3 Z" fill="#9c9c9c" stroke="#7a7a7a" stroke-width="0.4"/><path d="M474.3,228.6 A176,176 0 0 1 477.1,246.2 L489,245 A188,188 0 0 0 486.1,226.2 Z" fill="#9c9c9c" stroke="#7a7a7a" stroke-width="0.4"/><path d="M477.4,249.3 A176,176 0 0 1 478,263.4 L490,263.3 A188,188 0 0 0 489.3,248.2 Z" fill="#9c9c9c" stroke="#7a7a7a" stroke-width="0.4"/><path d="M478,266.8 A176,176 0 0 1 477.2,280.9 L489.2,282 A188,188 0 0 0 490,266.9 Z" fill="#9c9c9c" stroke="#7a7a7a" stroke-width="0.4"/><path d="M476.9,283.6 A176,176 0 0 1 474.1,301.2 L485.8,303.7 A188,188 0 0 0 488.9,284.9 Z" fill="#9c9c9c" stroke="#7a7a7a" stroke-width="0.4"/><path d="M473.2,305.1 A176,176 0 0 1 469.8,317.5 L481.2,321.1 A188,188 0 0 0 484.9,307.9 Z" fill="#9c9c9c" stroke="#7a7a7a" stroke-width="0.4"/><path d="M468.7,320.7 A176,176 0 0 1 464,333.1 L475.1,337.8 A188,188 0 0 0 480.1,324.6 Z" fill="#9c9c9c" stroke="#7a7a7a" stroke-width="0.4"/><path d="M462.8,335.9 A176,176 0 0 1 457.1,347.5 L467.7,353.1 A188,188 0 0 0 473.7,340.8 Z" fill="#9c9c9c" stroke="#7a7a7a" stroke-width="0.4"/><path d="M455.6,350.2 A176,176 0 0 1 449.1,360.9 L459.1,367.5 A188,188 0 0 0 466.1,356 Z" fill="#9c9c9c" stroke="#7a7a7a" stroke-width="0.4"/><path d="M447.2,363.7 A176,176 0 0 1 439.9,373.6 L449.3,381.1 A188,188 0 0 0 457.1,370.5 Z" fill="#9c9c9c" stroke="#7a7a7a" stroke-width="0.4"/><path d="M438,376 A176,176 0 0 1 429.2,385.9 L437.9,394.2 A188,188 0 0 0 447.3,383.6 Z" fill="#9c9c9c" stroke="#7a7a7a" stroke-width="0.4"/><path d="M427.1,388.1 A176,176 0 0 1 418.2,396.5 L426.1,405.5 A188,188 0 0 0 435.6,396.5 Z" fill="#9c9c9c" stroke="#7a7a7a" stroke-width="0.4"/><path d="M415.7,398.6 A176,176 0 0 1 406.4,406 L413.6,415.6 A188,188 0 0 0 423.5,407.8 Z" fill="#9c9c9c" stroke="#7a7a7a" stroke-width="0.4"/><path d="M404,407.8 A176,176 0 0 1 395,413.7 L401.3,423.9 A188,188 0 0 0 410.9,417.5 Z" fill="#9c9c9c" stroke="#7a7a7a" stroke-width="0.4"/><path d="M392.6,415.2 A176,176 0 0 1 383.8,420.1 L389.4,430.8 A188,188 0 0 0 398.8,425.4 Z" fill="#9c9c9c" stroke="#7a7a7a" stroke-width="0.4"/><path d="M381.6,421.3 A176,176 0 0 1 371.9,425.8 L376.7,436.8 A188,188 0 0 0 387.1,432 Z" fill="#9c9c9c" stroke="#7a7a7a" stroke-width="0.4"/><path d="M369.6,426.8 A176,176 0 0 1 359.3,430.7 L363.2,442.1 A188,188 0 0 0 374.2,437.9 Z" fill="#9c9c9c" stroke="#7a7a7a" stroke-width="0.4"/><path d="M357,431.5 A176,176 0 0 1 348.1,434.1 L351.3,445.7 A188,188 0 0 0 360.7,442.9 Z" fill="#9c9c9c" stroke="#7a7a7a" stroke-width="0.4"/><path d="M346.1,434.7 A176,176 0 0 1 338,436.6 L340.4,448.3 A188,188 0 0 0 349.1,446.3 Z" fill="#9c9c9c" stroke="#7a7a7a" stroke-width="0.4"/><path d="M335.6,437.1 A176,176 0 0 1 326.8,438.5 L328.5,450.4 A188,188 0 0 0 337.9,448.8 Z" fill="#9c9c9c" stroke="#7a7a7a" stroke-width="0.4"/><path d="M324.1,438.9 A176,176 0 0 1 303.2,440.3 L303.3,452.3 A188,188 0 0 0 325.6,450.8 Z" fill="#9c9c9c" stroke="#7a7a7a" stroke-width="0.4"/><path d="M272.6,90.8 A176,176 0 0 1 298,88.3 L297.7,76.3 A188,188 0 0 0 270.6,78.9 Z" fill="#8a2a0c" stroke="#666" stroke-width="0.4"/><path d="M246.3,97.3 A176,176 0 0 1 268,91.6 L265.6,79.8 A188,188 0 0 0 242.5,86 Z" fill="#138a98" stroke="#666" stroke-width="0.4"/><path d="M223.7,106.7 A176,176 0 0 1 241.2,99.1 L237.1,87.9 A188,188 0 0 0 218.4,95.9 Z" fill="#1f8646" stroke="#666" stroke-width="0.4"/><path d="M203.1,118.7 A176,176 0 0 1 221.6,107.8 L216.1,97.1 A188,188 0 0 0 196.3,108.8 Z" fill="#78c888" stroke="#666" stroke-width="0.4"/><path d="M186,132 A176,176 0 0 1 201.2,120 L194.3,110.2 A188,188 0 0 0 178,123 Z" fill="#c01c28" stroke="#666" stroke-width="0.4"/><path d="M169.4,148.6 A176,176 0 0 1 183.5,134.1 L175.5,125.2 A188,188 0 0 0 160.3,140.7 Z" fill="#ec1820" stroke="#666" stroke-width="0.4"/><path d="M154.5,168.3 A176,176 0 0 1 167.5,150.8 L158.3,143.1 A188,188 0 0 0 144.4,161.8 Z" fill="#ee6e4c" stroke="#666" stroke-width="0.4"/><path d="M143.5,187.8 A176,176 0 0 1 154.8,167.8 L144.8,161.2 A188,188 0 0 0 132.7,182.6 Z" fill="#d43c96" stroke="#666" stroke-width="0.4"/><path d="M136.9,203.2 A176,176 0 0 1 143.4,188 L132.6,182.8 A188,188 0 0 0 125.7,199.1 Z" fill="#ea60a6" stroke="#666" stroke-width="0.4"/><path d="M131,222.5 A176,176 0 0 1 136,205.7 L124.7,201.7 A188,188 0 0 0 119.4,219.6 Z" fill="#ee78b0" stroke="#666" stroke-width="0.4"/><path d="M127.1,244.8 A176,176 0 0 1 129.9,227.3 L118.2,224.7 A188,188 0 0 0 115.2,243.5 Z" fill="#96320e" stroke="#666" stroke-width="0.4"/><path d="M126,262.6 A176,176 0 0 1 126.7,248.5 L114.8,247.4 A188,188 0 0 0 114,262.5 Z" fill="#dc4e1c" stroke="#666" stroke-width="0.4"/><path d="M126.8,280.6 A176,176 0 0 1 126,266.5 L114,266.6 A188,188 0 0 0 114.8,281.7 Z" fill="#dccc1c" stroke="#666" stroke-width="0.4"/><path d="M129.8,300.9 A176,176 0 0 1 127,283.3 L115.1,284.6 A188,188 0 0 0 118.1,303.4 Z" fill="#f4ec84" stroke="#666" stroke-width="0.4"/><path d="M133.5,315 A176,176 0 0 1 130.2,302.5 L118.5,305.2 A188,188 0 0 0 122,318.5 Z" fill="#d8eca4" stroke="#666" stroke-width="0.4"/><path d="M139.5,331.8 A176,176 0 0 1 134.9,319.4 L123.5,323.2 A188,188 0 0 0 128.4,336.4 Z" fill="#a0d6ac" stroke="#666" stroke-width="0.4"/><path d="M146.7,347.1 A176,176 0 0 1 141,335.5 L130.1,340.3 A188,188 0 0 0 136.1,352.7 Z" fill="#1c8444" stroke="#666" stroke-width="0.4"/><path d="M154.6,360.5 A176,176 0 0 1 148.1,349.8 L137.7,355.6 A188,188 0 0 0 144.6,367.1 Z" fill="#44a2c2" stroke="#666" stroke-width="0.4"/><path d="M162.7,371.8 A176,176 0 0 1 155.5,361.8 L145.5,368.5 A188,188 0 0 0 153.1,379.1 Z" fill="#266aac" stroke="#666" stroke-width="0.4"/><path d="M172.3,383.3 A176,176 0 0 1 163.8,373.3 L154.4,380.7 A188,188 0 0 0 163.5,391.4 Z" fill="#18a4de" stroke="#666" stroke-width="0.4"/><path d="M182.2,393.2 A176,176 0 0 1 173.5,384.6 L164.7,392.8 A188,188 0 0 0 174,402 Z" fill="#a0b2d0" stroke="#666" stroke-width="0.4"/><path d="M193.2,402.7 A176,176 0 0 1 184.2,395 L176.1,404 A188,188 0 0 0 185.8,412.1 Z" fill="#726ca6" stroke="#666" stroke-width="0.4"/><path d="M203.7,410.3 A176,176 0 0 1 195,404 L187.7,413.6 A188,188 0 0 0 197,420.3 Z" fill="#8a84bc" stroke="#666" stroke-width="0.4"/><path d="M214.8,417.2 A176,176 0 0 1 206.1,411.9 L199.6,422 A188,188 0 0 0 208.9,427.6 Z" fill="#e2e0ec" stroke="#666" stroke-width="0.4"/><path d="M225.5,422.8 A176,176 0 0 1 216,417.9 L210.1,428.3 A188,188 0 0 0 220.3,433.6 Z" fill="#e8b4b4" stroke="#666" stroke-width="0.4"/><path d="M236.1,427.5 A176,176 0 0 1 226,423 L220.8,433.8 A188,188 0 0 0 231.6,438.6 Z" fill="#e05690" stroke="#666" stroke-width="0.4"/><path d="M247,431.5 A176,176 0 0 1 238.4,428.4 L234,439.6 A188,188 0 0 0 243.3,442.9 Z" fill="#646464" stroke="#666" stroke-width="0.4"/><path d="M257.5,434.6 A176,176 0 0 1 249.5,432.3 L245.9,443.7 A188,188 0 0 0 254.5,446.2 Z" fill="#929292" stroke="#666" stroke-width="0.4"/><path d="M268.9,437.2 A176,176 0 0 1 260.2,435.3 L257.3,446.9 A188,188 0 0 0 266.6,448.9 Z" fill="#dcdcdc" stroke="#666" stroke-width="0.4"/><path d="M292.5,440 A176,176 0 0 1 271.7,437.7 L269.7,449.5 A188,188 0 0 0 291.8,452 Z" fill="#86107e" stroke="#666" stroke-width="0.4"/><path d="M299.8,440.3 A176,176 0 0 1 295.6,440.2 L295.1,452.2 A188,188 0 0 0 299.7,452.3 Z" fill="#a4a0c0" stroke="#666" stroke-width="0.4"/>
<g font-size="10" text-anchor="middle" dominant-baseline="central"><text x="0" y="0" transform="translate(316.4,82.9) rotate(4.5)" fill="#222">1</text><text x="0" y="0" transform="translate(343.7,87.1) rotate(13.2)" fill="#222">2</text><text x="0" y="0" transform="translate(367.5,94.5) rotate(21.1)" fill="#222">3</text><text x="0" y="0" transform="translate(390.2,105.1) rotate(29)" fill="#222">4</text><text x="0" y="0" transform="translate(410.9,118.5) rotate(36.8)" fill="#222">5</text><text x="0" y="0" transform="translate(429.1,134) rotate(44.3)" fill="#222">6</text><text x="0" y="0" transform="translate(445.9,152.9) rotate(52.2)" fill="#222">7</text><text x="0" y="0" transform="translate(460.6,175.1) rotate(60.7)" fill="#222">8</text><text x="0" y="0" transform="translate(470.6,195.8) rotate(67.9)" fill="#222">9</text><text x="0" y="0" transform="translate(477.2,214.9) rotate(74.2)" fill="#222">10</text><text x="0" y="0" transform="translate(481.9,236.5) rotate(81.2)" fill="#222">11</text><text x="0" y="0" transform="translate(483.8,256) rotate(87.4)" fill="#222">12</text><text x="0" y="0" transform="translate(483.7,274.1) rotate(-86.9)" fill="#222">13</text><text x="0" y="0" transform="translate(481.7,293.4) rotate(-80.8)" fill="#222">14</text><text x="0" y="0" transform="translate(477.4,312.9) rotate(-74.5)" fill="#222">15</text><text x="0" y="0" transform="translate(472.1,329.1) rotate(-69.2)" fill="#222">16</text><text x="0" y="0" transform="translate(465.4,344.4) rotate(-63.9)" fill="#222">17</text><text x="0" y="0" transform="translate(457.6,358.7) rotate(-58.8)" fill="#222">18</text><text x="0" y="0" transform="translate(448.5,372.3) rotate(-53.6)" fill="#222">19</text><text x="0" y="0" transform="translate(438.2,385) rotate(-48.4)" fill="#222">20</text><text x="0" y="0" transform="translate(426.8,396.8) rotate(-43.3)" fill="#222">21</text><text x="0" y="0" transform="translate(414.9,407.1) rotate(-38.3)" fill="#222">22</text><text x="0" y="0" transform="translate(402.8,415.8) rotate(-33.7)" fill="#222">23</text><text x="0" y="0" transform="translate(391.2,422.9) rotate(-29.3)" fill="#222">24</text><text x="0" y="0" transform="translate(379.3,429) rotate(-25.2)" fill="#222">25</text><text x="0" y="0" transform="translate(366.6,434.4) rotate(-20.8)" fill="#222">26</text><text x="0" y="0" transform="translate(354.3,438.6) rotate(-16.7)" fill="#222">27</text><text x="0" y="0" transform="translate(343.4,441.5) rotate(-13.2)" fill="#222">28</text><text x="0" y="0" transform="translate(332.2,443.8) rotate(-9.6)" fill="#222">29</text><text x="0" y="0" transform="translate(314.1,445.9) rotate(-3.8)" fill="#222">X</text><text x="0" y="0" transform="translate(284.7,83.1) rotate(-5.4)" fill="#222">1</text><text x="0" y="0" transform="translate(255.5,88.3) rotate(-14.8)" fill="#222">2</text><text x="0" y="0" transform="translate(230,97.1) rotate(-23.3)" fill="#222">3</text><text x="0" y="0" transform="translate(209.1,107.8) rotate(-30.7)" fill="#222">4</text><text x="0" y="0" transform="translate(189.7,121.1) rotate(-38.1)" fill="#222">5</text><text x="0" y="0" transform="translate(172,137) rotate(-45.6)" fill="#222">6</text><text x="0" y="0" transform="translate(155.9,155.8) rotate(-53.4)" fill="#222">7</text><text x="0" y="0" transform="translate(143.6,174.7) rotate(-60.5)" fill="#222">8</text><text x="0" y="0" transform="translate(134.5,193.2) rotate(-67)" fill="#222">9</text><text x="0" y="0" transform="translate(127.6,212.3) rotate(-73.4)" fill="#222">10</text><text x="0" y="0" transform="translate(122.4,235) rotate(-80.8)" fill="#222">11</text><text x="0" y="0" transform="translate(120.2,255.3) rotate(-87.1)" fill="#222">12</text><text x="0" y="0" transform="translate(120.2,273.8) rotate(87)" fill="#222">13</text><text x="0" y="0" transform="translate(122.3,293.1) rotate(80.9)" fill="#222">14</text><text x="0" y="0" transform="translate(125.9,310.3) rotate(75.3)" fill="#222">15</text><text x="0" y="0" transform="translate(131.4,327.7) rotate(69.6)" fill="#222">16</text><text x="0" y="0" transform="translate(138.3,343.9) rotate(64.1)" fill="#222">17</text><text x="0" y="0" transform="translate(146.2,358.3) rotate(58.9)" fill="#222">18</text><text x="0" y="0" transform="translate(154.1,370.4) rotate(54.3)" fill="#222">19</text><text x="0" y="0" transform="translate(163.4,382.3) rotate(49.6)" fill="#222">20</text><text x="0" y="0" transform="translate(173.5,393.2) rotate(44.9)" fill="#222">21</text><text x="0" y="0" transform="translate(184.8,403.5) rotate(40.1)" fill="#222">22</text><text x="0" y="0" transform="translate(195.8,412.1) rotate(35.7)" fill="#222">23</text><text x="0" y="0" transform="translate(207.3,419.7) rotate(31.3)" fill="#222">24</text><text x="0" y="0" transform="translate(218,425.7) rotate(27.5)" fill="#222">25</text><text x="0" y="0" transform="translate(228.6,430.8) rotate(23.8)" fill="#222">26</text><text x="0" y="0" transform="translate(240.6,435.6) rotate(19.7)" fill="#222">27</text><text x="0" y="0" transform="translate(251.8,439.2) rotate(16)" fill="#222">28</text><text x="0" y="0" transform="translate(263.2,442.1) rotate(12.3)" fill="#222">29</text><text x="0" y="0" transform="translate(281.4,445.1) rotate(6.5)" fill="#222">X</text><text x="0" y="0" transform="translate(297.6,446.2) rotate(1.4)" fill="#333">Y</text></g>
<g font-size="7.2" fill="#333" dominant-baseline="central"><text transform="translate(302.7,73.3) rotate(-89.8)">0</text><text transform="translate(311.9,73.6) rotate(-87)">50</text><text transform="translate(321.2,74.3) rotate(-84.2)">100</text><text transform="translate(333.9,76) rotate(-80.4)">0</text><text transform="translate(343,77.7) rotate(-77.6)">50</text><text transform="translate(352,80) rotate(-74.8)">100</text><text transform="translate(361,82.6) rotate(-72)">0</text><text transform="translate(369.8,85.7) rotate(-69.2)">50</text><text transform="translate(378.4,89.2) rotate(-66.4)">100</text><text transform="translate(384.2,91.9) rotate(-64.5)">0</text><text transform="translate(392.5,96.1) rotate(-61.7)">50</text><text transform="translate(400.6,100.7) rotate(-58.9)">100</text><text transform="translate(407.7,105.2) rotate(-56.4)">0</text><text transform="translate(415.3,110.5) rotate(-53.6)">50</text><text transform="translate(422.6,116.2) rotate(-50.8)">100</text><text transform="translate(427.3,120.2) rotate(-49)">0</text><text transform="translate(434.2,126.4) rotate(-46.2)">50</text><text transform="translate(440.7,133) rotate(-43.4)">100</text><text transform="translate(445.5,138.2) rotate(-41.3)">0</text><text transform="translate(451.4,145.4) rotate(-38.5)">50</text><text transform="translate(457,152.8) rotate(-35.7)">100</text><text transform="translate(462,160) rotate(-33.1)">0</text><text transform="translate(466.9,167.9) rotate(-30.3)">50</text><text transform="translate(471.4,176) rotate(-27.5)">100</text><text transform="translate(475.4,184.2) rotate(-24.8)">0</text><text transform="translate(479.1,192.7) rotate(-22)">50</text><text transform="translate(483,203.4) rotate(-18.6)">0</text><text transform="translate(485.8,212.2) rotate(-15.8)">50</text><text transform="translate(489,225.6) rotate(-11.7)">0</text><text transform="translate(490.7,234.7) rotate(-8.9)">50</text><text transform="translate(492.3,248) rotate(-4.9)">0</text><text transform="translate(492.9,257.3) rotate(-2.1)">50</text><text transform="translate(493,267) rotate(0.8)">0</text><text transform="translate(492.6,276.2) rotate(3.6)">50</text><text transform="translate(491.8,285.3) rotate(6.3)">0</text><text transform="translate(490.6,294.5) rotate(9.1)">50</text><text transform="translate(487.8,308.6) rotate(13.4)">0</text><text transform="translate(485.4,317.5) rotate(16.2)">50</text><text transform="translate(482.9,325.5) rotate(18.7)">0</text><text transform="translate(479.7,334.3) rotate(21.5)">50</text><text transform="translate(476.5,342) rotate(24)">0</text><text transform="translate(472.5,350.4) rotate(26.8)">50</text><text transform="translate(468.7,357.5) rotate(29.2)">0</text><text transform="translate(464,365.5) rotate(32)">50</text><text transform="translate(459.6,372.2) rotate(34.4)">0</text><text transform="translate(454.2,379.7) rotate(37.2)">50</text><text transform="translate(449.6,385.5) rotate(39.4)">0</text><text transform="translate(443.5,392.6) rotate(42.2)">50</text><text transform="translate(437.8,398.6) rotate(44.7)">0</text><text transform="translate(431.1,405.1) rotate(47.5)">50</text><text transform="translate(425.4,410.1) rotate(49.8)">0</text><text transform="translate(418.2,415.9) rotate(52.5)">50</text><text transform="translate(412.6,420) rotate(54.6)">0</text><text transform="translate(404.9,425.2) rotate(57.4)">50</text><text transform="translate(400.4,428) rotate(59)">0</text><text transform="translate(388.4,434.6) rotate(63.1)">0</text><text transform="translate(380,438.6) rotate(65.9)">50</text><text transform="translate(375.4,440.6) rotate(67.4)">0</text><text transform="translate(366.7,444) rotate(70.2)">50</text><text transform="translate(361.7,445.7) rotate(71.8)">0</text><text transform="translate(349.8,449.2) rotate(75.5)">0</text><text transform="translate(338.4,451.8) rotate(79)">0</text><text transform="translate(325.9,453.8) rotate(82.8)">0</text><text transform="translate(316.7,454.7) rotate(85.6)">50</text><text transform="translate(307.4,455.2) rotate(88.4)">100</text><text transform="translate(297.7,73.3) rotate(448.7)" text-anchor="end">0</text><text transform="translate(288.4,73.8) rotate(445.9)" text-anchor="end">50</text><text transform="translate(279.2,74.7) rotate(443.1)" text-anchor="end">100</text><text transform="translate(265.1,76.9) rotate(438.8)" text-anchor="end">0</text><text transform="translate(256,78.9) rotate(436.1)" text-anchor="end">50</text><text transform="translate(247.1,81.4) rotate(433.3)" text-anchor="end">100</text><text transform="translate(236,85) rotate(429.8)" text-anchor="end">0</text><text transform="translate(227.4,88.5) rotate(427)" text-anchor="end">50</text><text transform="translate(219,92.3) rotate(424.2)" text-anchor="end">100</text><text transform="translate(214.7,94.4) rotate(422.8)" text-anchor="end">0</text><text transform="translate(206.5,98.9) rotate(420)" text-anchor="end">50</text><text transform="translate(198.6,103.7) rotate(417.2)" text-anchor="end">100</text><text transform="translate(192.6,107.7) rotate(415)" text-anchor="end">0</text><text transform="translate(185.1,113.2) rotate(412.3)" text-anchor="end">50</text><text transform="translate(177.9,119.1) rotate(409.5)" text-anchor="end">100</text><text transform="translate(173.5,123) rotate(407.7)" text-anchor="end">0</text><text transform="translate(166.7,129.4) rotate(404.9)" text-anchor="end">50</text><text transform="translate(160.3,136.2) rotate(402.1)" text-anchor="end">100</text><text transform="translate(156,141.1) rotate(400.2)" text-anchor="end">0</text><text transform="translate(150.2,148.4) rotate(397.4)" text-anchor="end">50</text><text transform="translate(144.7,155.9) rotate(394.6)" text-anchor="end">100</text><text transform="translate(142.3,159.6) rotate(393.2)" text-anchor="end">0</text><text transform="translate(137.4,167.5) rotate(390.5)" text-anchor="end">50</text><text transform="translate(132.9,175.6) rotate(387.7)" text-anchor="end">100</text><text transform="translate(129.9,181.5) rotate(385.7)" text-anchor="end">0</text><text transform="translate(126.1,189.9) rotate(382.9)" text-anchor="end">50</text><text transform="translate(121.9,200.7) rotate(379.5)" text-anchor="end">0</text><text transform="translate(119,209.5) rotate(376.7)" text-anchor="end">50</text><text transform="translate(115.3,224.1) rotate(372.1)" text-anchor="end">0</text><text transform="translate(113.5,233.2) rotate(369.4)" text-anchor="end">50</text><text transform="translate(111.8,247.2) rotate(365.2)" text-anchor="end">0</text><text transform="translate(111.2,256.4) rotate(362.4)" text-anchor="end">50</text><text transform="translate(111,266.6) rotate(359.3)" text-anchor="end">0</text><text transform="translate(111.4,275.9) rotate(356.5)" text-anchor="end">50</text><text transform="translate(112.1,284.9) rotate(353.8)" text-anchor="end">0</text><text transform="translate(113.3,294.1) rotate(351)" text-anchor="end">50</text><text transform="translate(115.6,305.8) rotate(347.4)" text-anchor="end">0</text><text transform="translate(117.8,314.8) rotate(344.7)" text-anchor="end">50</text><text transform="translate(120.6,324.1) rotate(341.8)" text-anchor="end">0</text><text transform="translate(123.7,332.9) rotate(339)" text-anchor="end">50</text><text transform="translate(127.3,341.5) rotate(336.1)" text-anchor="end">0</text><text transform="translate(131.3,349.9) rotate(333.4)" text-anchor="end">50</text><text transform="translate(135,357) rotate(330.9)" text-anchor="end">0</text><text transform="translate(139.7,365) rotate(328.2)" text-anchor="end">50</text><text transform="translate(143,370.1) rotate(326.4)" text-anchor="end">0</text><text transform="translate(148.3,377.7) rotate(323.6)" text-anchor="end">50</text><text transform="translate(152,382.5) rotate(321.8)" text-anchor="end">0</text><text transform="translate(157.9,389.7) rotate(319)" text-anchor="end">50</text><text transform="translate(162.5,394.8) rotate(316.9)" text-anchor="end">0</text><text transform="translate(169,401.4) rotate(314.1)" text-anchor="end">50</text><text transform="translate(174.1,406.2) rotate(312)" text-anchor="end">0</text><text transform="translate(181.2,412.2) rotate(309.2)" text-anchor="end">50</text><text transform="translate(185.9,415.9) rotate(307.4)" text-anchor="end">0</text><text transform="translate(193.4,421.4) rotate(304.7)" text-anchor="end">50</text><text transform="translate(198,424.5) rotate(303)" text-anchor="end">0</text><text transform="translate(208.7,430.9) rotate(299.2)" text-anchor="end">0</text><text transform="translate(216.9,435.3) rotate(296.5)" text-anchor="end">50</text><text transform="translate(219.5,436.6) rotate(295.6)" text-anchor="end">0</text><text transform="translate(227.9,440.4) rotate(292.8)" text-anchor="end">50</text><text transform="translate(232.9,442.4) rotate(291.2)" text-anchor="end">0</text><text transform="translate(245,446.6) rotate(287.4)" text-anchor="end">0</text><text transform="translate(256.6,449.8) rotate(283.8)" text-anchor="end">0</text><text transform="translate(269.2,452.5) rotate(279.9)" text-anchor="end">0</text><text transform="translate(278.3,453.8) rotate(277.1)" text-anchor="end">50</text><text transform="translate(287.6,454.8) rotate(274.3)" text-anchor="end">100</text><text transform="translate(298.7,455.3) rotate(271)" text-anchor="end">0</text></g>
<g font-size="10.6" fill="#222" text-anchor="end" dominant-baseline="central"><text transform="translate(143.6,82) rotate(49)">WC1.1</text><text transform="translate(170.4,107.6) rotate(50)">Syngr1</text><text transform="translate(178.6,103) rotate(52.6)">LRP1</text><text transform="translate(157.6,121.6) rotate(44.7)">CCKAR</text><text transform="translate(141.3,135.6) rotate(38.7)">KIAA1881</text><text transform="translate(133.1,147.2) rotate(34.7)">GABRB2</text><text transform="translate(95.9,261.8) rotate(0.7)">ABCC4</text><text transform="translate(97.4,280.2) rotate(-4.4)">ASIP</text><text transform="translate(105,319) rotate(-19)">TRIM5</text><text transform="translate(112,343) rotate(-22.5)">CFH</text><text transform="translate(80,355.5) rotate(-22.3)">PRAME</text><text transform="translate(30,371.5) rotate(-21.5)">CHD5</text><text transform="translate(117.5,356.5) rotate(-26.6)">ULK1</text><text transform="translate(122.5,378) rotate(-32.4)">KIR3DL1</text><text transform="translate(138.2,390) rotate(-37.5)">MGAT5B</text><text transform="translate(93.5,419) rotate(-36.6)">FASN</text><text transform="translate(160.6,411) rotate(-46.1)">Npas3</text><text transform="translate(134.5,438.5) rotate(-46.1)">MYADM</text><text transform="translate(173.6,420) rotate(-50.5)">ERC2</text><text transform="translate(183,432) rotate(-54.6)">BTN1A1</text><text transform="translate(259.5,466) rotate(-83)">TMEM132A</text><text transform="translate(242.5,529) rotate(-74)">Nav2</text></g>
<g stroke="#e0303a" stroke-width="1"><line x1="144" y1="83" x2="147" y2="86"/><line x1="171" y1="108" x2="176" y2="112"/><line x1="179" y1="104" x2="183" y2="109"/><line x1="159" y1="125" x2="164" y2="128"/><line x1="145" y1="137" x2="149" y2="142"/><line x1="137" y1="147" x2="142" y2="150"/><line x1="98.9" y1="260.4" x2="106.5" y2="260.4"/><line x1="100.5" y1="277" x2="109.6" y2="277"/><line x1="106.5" y1="316.5" x2="115.7" y2="315"/><line x1="114" y1="341" x2="120" y2="338.5"/><line x1="82" y1="353" x2="90" y2="350"/><line x1="32" y1="367" x2="41" y2="364"/><line x1="119" y1="354.5" x2="125" y2="352"/><line x1="125" y1="374" x2="131" y2="370"/><line x1="140" y1="387" x2="146" y2="382"/><line x1="95" y1="417" x2="100" y2="412"/><line x1="162" y1="409" x2="167" y2="404"/><line x1="136" y1="436" x2="140" y2="432"/><line x1="175" y1="417" x2="180" y2="412"/><line x1="185" y1="428" x2="189" y2="422"/><line x1="260" y1="463" x2="261" y2="455"/><line x1="243" y1="526" x2="245" y2="518"/></g>
<g font-size="14" font-weight="bold" fill="#111" text-anchor="middle"><text x="290.7" y="20">c</text><text x="292.8" y="39.2">b</text><text x="293.4" y="58.8">a</text><text x="69.3" y="201">d</text></g>
</svg></body></html>
